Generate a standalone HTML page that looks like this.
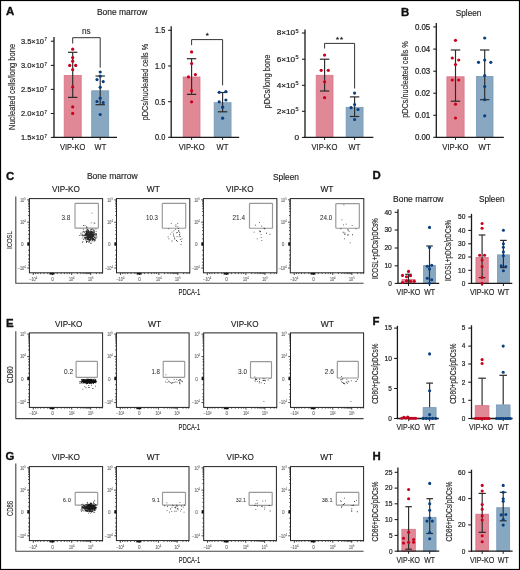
<!DOCTYPE html><html><head><meta charset="utf-8"><style>html,body{margin:0;padding:0;background:#fff;}svg{display:block;font-family:"Liberation Sans", sans-serif;will-change:transform;}</style></head><body>
<svg width="520" height="570" viewBox="0 0 520 570">
<rect x="0" y="0" width="520" height="570" fill="#fff"/>
<text x="6.1" y="14.6" font-size="11.4" fill="#111" stroke="#111" stroke-width="0.35" font-weight="bold">A</text>
<text x="401" y="16.2" font-size="11.4" fill="#111" stroke="#111" stroke-width="0.35" font-weight="bold">B</text>
<text x="5.9" y="179.6" font-size="11.4" fill="#111" stroke="#111" stroke-width="0.35" font-weight="bold">C</text>
<text x="372.6" y="178.8" font-size="11.4" fill="#111" stroke="#111" stroke-width="0.35" font-weight="bold">D</text>
<text x="6" y="326.5" font-size="11.4" fill="#111" stroke="#111" stroke-width="0.35" font-weight="bold">E</text>
<text x="372.6" y="324.7" font-size="11.4" fill="#111" stroke="#111" stroke-width="0.35" font-weight="bold">F</text>
<text x="5.6" y="460.1" font-size="11.4" fill="#111" stroke="#111" stroke-width="0.35" font-weight="bold">G</text>
<text x="372.6" y="460" font-size="11.4" fill="#111" stroke="#111" stroke-width="0.35" font-weight="bold">H</text>
<text x="96.9" y="15" font-size="8.7" fill="#222" stroke="#222" stroke-width="0.15" textLength="50.4" lengthAdjust="spacingAndGlyphs">Bone marrow</text>
<text x="455.8" y="16.3" font-size="8.9" fill="#222" stroke="#222" stroke-width="0.15" textLength="25.6" lengthAdjust="spacingAndGlyphs">Spleen</text>
<rect x="64.2" y="75.4" width="17" height="62" fill="#e08896" stroke="#d97388" stroke-width="0.8"/>
<rect x="91.7" y="90.8" width="17" height="46.6" fill="#88a8c2" stroke="#7898b8" stroke-width="0.8"/>
<line x1="72.7" y1="52.3" x2="72.7" y2="97.4" stroke="#2a2a2a" stroke-width="1.15"/>
<line x1="68" y1="52.3" x2="77.4" y2="52.3" stroke="#2a2a2a" stroke-width="1.2"/>
<line x1="68" y1="97.4" x2="77.4" y2="97.4" stroke="#2a2a2a" stroke-width="1.2"/>
<line x1="100.2" y1="76" x2="100.2" y2="104.7" stroke="#2a2a2a" stroke-width="1.15"/>
<line x1="95.5" y1="76" x2="104.9" y2="76" stroke="#2a2a2a" stroke-width="1.2"/>
<line x1="95.5" y1="104.7" x2="104.9" y2="104.7" stroke="#2a2a2a" stroke-width="1.2"/>
<line x1="54" y1="36.9" x2="54" y2="138" stroke="#1a1a1a" stroke-width="1.3"/>
<line x1="53.4" y1="137.4" x2="117" y2="137.4" stroke="#1a1a1a" stroke-width="1.3"/>
<line x1="50.9" y1="41.2" x2="54" y2="41.2" stroke="#1a1a1a" stroke-width="1.05"/>
<line x1="50.9" y1="65.4" x2="54" y2="65.4" stroke="#1a1a1a" stroke-width="1.05"/>
<line x1="50.9" y1="89.4" x2="54" y2="89.4" stroke="#1a1a1a" stroke-width="1.05"/>
<line x1="50.9" y1="113.5" x2="54" y2="113.5" stroke="#1a1a1a" stroke-width="1.05"/>
<line x1="50.9" y1="137.4" x2="54" y2="137.4" stroke="#1a1a1a" stroke-width="1.05"/>
<line x1="72.7" y1="137.4" x2="72.7" y2="140" stroke="#1a1a1a" stroke-width="1"/>
<line x1="100.2" y1="137.4" x2="100.2" y2="140" stroke="#1a1a1a" stroke-width="1"/>
<circle cx="72.7" cy="49.2" r="1.6" fill="#c8001e"/>
<circle cx="72.7" cy="57.7" r="1.6" fill="#c8001e"/>
<circle cx="72.7" cy="61.2" r="1.6" fill="#c8001e"/>
<circle cx="69.7" cy="65.4" r="1.6" fill="#c8001e"/>
<circle cx="75.7" cy="65.4" r="1.6" fill="#c8001e"/>
<circle cx="72.7" cy="69.7" r="1.6" fill="#c8001e"/>
<circle cx="72.7" cy="86.9" r="1.6" fill="#c8001e"/>
<circle cx="72.7" cy="106.9" r="1.6" fill="#c8001e"/>
<circle cx="72.7" cy="113.4" r="1.6" fill="#c8001e"/>
<circle cx="100.2" cy="72" r="1.6" fill="#0a3f7f"/>
<circle cx="100.2" cy="76.2" r="1.6" fill="#0a3f7f"/>
<circle cx="97" cy="79.6" r="1.6" fill="#0a3f7f"/>
<circle cx="103.2" cy="81.6" r="1.6" fill="#0a3f7f"/>
<circle cx="100.2" cy="87.3" r="1.6" fill="#0a3f7f"/>
<circle cx="100.2" cy="98.2" r="1.6" fill="#0a3f7f"/>
<circle cx="97" cy="101.5" r="1.6" fill="#0a3f7f"/>
<circle cx="103.2" cy="102.5" r="1.6" fill="#0a3f7f"/>
<circle cx="100.2" cy="114.5" r="1.6" fill="#0a3f7f"/>
<text x="20.9" y="44" font-size="7.9" fill="#222" stroke="#222" stroke-width="0.22" textLength="23.1" lengthAdjust="spacingAndGlyphs">3.5×10</text>
<text x="44.5" y="41.3" font-size="4.74" fill="#222" stroke="#222" stroke-width="0.15" textLength="2.4" lengthAdjust="spacingAndGlyphs">7</text>
<text x="20.9" y="68.2" font-size="7.9" fill="#222" stroke="#222" stroke-width="0.22" textLength="23.1" lengthAdjust="spacingAndGlyphs">3.0×10</text>
<text x="44.5" y="65.5" font-size="4.74" fill="#222" stroke="#222" stroke-width="0.15" textLength="2.4" lengthAdjust="spacingAndGlyphs">7</text>
<text x="20.9" y="92.2" font-size="7.9" fill="#222" stroke="#222" stroke-width="0.22" textLength="23.1" lengthAdjust="spacingAndGlyphs">2.5×10</text>
<text x="44.5" y="89.5" font-size="4.74" fill="#222" stroke="#222" stroke-width="0.15" textLength="2.4" lengthAdjust="spacingAndGlyphs">7</text>
<text x="20.9" y="116.3" font-size="7.9" fill="#222" stroke="#222" stroke-width="0.22" textLength="23.1" lengthAdjust="spacingAndGlyphs">2.0×10</text>
<text x="44.5" y="113.6" font-size="4.74" fill="#222" stroke="#222" stroke-width="0.15" textLength="2.4" lengthAdjust="spacingAndGlyphs">7</text>
<text x="20.9" y="140.2" font-size="7.9" fill="#222" stroke="#222" stroke-width="0.22" textLength="23.1" lengthAdjust="spacingAndGlyphs">1.5×10</text>
<text x="44.5" y="137.5" font-size="4.74" fill="#222" stroke="#222" stroke-width="0.15" textLength="2.4" lengthAdjust="spacingAndGlyphs">7</text>
<text x="60" y="149.5" font-size="8.7" fill="#222" stroke="#222" stroke-width="0.15" textLength="25.4" lengthAdjust="spacingAndGlyphs">VIP-KO</text>
<text x="94.6" y="149.5" font-size="8.7" fill="#222" stroke="#222" stroke-width="0.15" textLength="11.6" lengthAdjust="spacingAndGlyphs">WT</text>
<text transform="translate(14.8 130) rotate(-90)" font-size="9.2" fill="#2a2a2a" stroke="#2a2a2a" stroke-width="0.16" textLength="86.1" lengthAdjust="spacingAndGlyphs">Nucleated cells/long bone</text>
<path d="M72.7 43.5 V37.7 H100.2 V67.7" fill="none" stroke="#333" stroke-width="1" stroke-linejoin="round"/>
<text x="86.4" y="34.3" font-size="8.2" fill="#333" stroke="#333" stroke-width="0.15" text-anchor="middle">ns</text>
<rect x="183.2" y="77" width="16.8" height="60.3" fill="#e08896" stroke="#d97388" stroke-width="0.8"/>
<rect x="214.15" y="102.7" width="16.9" height="34.6" fill="#88a8c2" stroke="#7898b8" stroke-width="0.8"/>
<line x1="191.6" y1="58.7" x2="191.6" y2="94.4" stroke="#2a2a2a" stroke-width="1.15"/>
<line x1="186.9" y1="58.7" x2="196.3" y2="58.7" stroke="#2a2a2a" stroke-width="1.2"/>
<line x1="186.9" y1="94.4" x2="196.3" y2="94.4" stroke="#2a2a2a" stroke-width="1.2"/>
<line x1="222.6" y1="92.5" x2="222.6" y2="111.8" stroke="#2a2a2a" stroke-width="1.15"/>
<line x1="217.9" y1="92.5" x2="227.3" y2="92.5" stroke="#2a2a2a" stroke-width="1.2"/>
<line x1="217.9" y1="111.8" x2="227.3" y2="111.8" stroke="#2a2a2a" stroke-width="1.2"/>
<line x1="171.2" y1="26.2" x2="171.2" y2="137.9" stroke="#1a1a1a" stroke-width="1.3"/>
<line x1="170.6" y1="137.3" x2="239.2" y2="137.3" stroke="#1a1a1a" stroke-width="1.3"/>
<line x1="168.1" y1="30.3" x2="171.2" y2="30.3" stroke="#1a1a1a" stroke-width="1.05"/>
<line x1="168.1" y1="66" x2="171.2" y2="66" stroke="#1a1a1a" stroke-width="1.05"/>
<line x1="168.1" y1="101.7" x2="171.2" y2="101.7" stroke="#1a1a1a" stroke-width="1.05"/>
<line x1="168.1" y1="137.3" x2="171.2" y2="137.3" stroke="#1a1a1a" stroke-width="1.05"/>
<line x1="191.6" y1="137.3" x2="191.6" y2="139.9" stroke="#1a1a1a" stroke-width="1"/>
<line x1="222.6" y1="137.3" x2="222.6" y2="139.9" stroke="#1a1a1a" stroke-width="1"/>
<circle cx="191.6" cy="51.9" r="1.6" fill="#c8001e"/>
<circle cx="191.6" cy="63.5" r="1.6" fill="#c8001e"/>
<circle cx="188.5" cy="76.9" r="1.6" fill="#c8001e"/>
<circle cx="195.4" cy="74.6" r="1.6" fill="#c8001e"/>
<circle cx="191.6" cy="90.7" r="1.6" fill="#c8001e"/>
<circle cx="191.6" cy="101.8" r="1.6" fill="#c8001e"/>
<circle cx="219.2" cy="92.3" r="1.6" fill="#0a3f7f"/>
<circle cx="225.9" cy="91.5" r="1.6" fill="#0a3f7f"/>
<circle cx="219.2" cy="101.8" r="1.6" fill="#0a3f7f"/>
<circle cx="225.9" cy="100" r="1.6" fill="#0a3f7f"/>
<circle cx="222.6" cy="107.2" r="1.6" fill="#0a3f7f"/>
<circle cx="222.6" cy="118.2" r="1.6" fill="#0a3f7f"/>
<text x="165.3" y="33.1" font-size="8.3" fill="#222" stroke="#222" stroke-width="0.22" textLength="10.3" lengthAdjust="spacingAndGlyphs" text-anchor="end">1.5</text>
<text x="165.3" y="68.8" font-size="8.3" fill="#222" stroke="#222" stroke-width="0.22" textLength="10.3" lengthAdjust="spacingAndGlyphs" text-anchor="end">1.0</text>
<text x="165.3" y="104.5" font-size="8.3" fill="#222" stroke="#222" stroke-width="0.22" textLength="10.3" lengthAdjust="spacingAndGlyphs" text-anchor="end">0.5</text>
<text x="165.3" y="140.1" font-size="8.3" fill="#222" stroke="#222" stroke-width="0.22" textLength="10.3" lengthAdjust="spacingAndGlyphs" text-anchor="end">0.0</text>
<text x="178.8" y="149.5" font-size="8.7" fill="#222" stroke="#222" stroke-width="0.15" textLength="25.8" lengthAdjust="spacingAndGlyphs">VIP-KO</text>
<text x="216.6" y="149.5" font-size="8.7" fill="#222" stroke="#222" stroke-width="0.15" textLength="11.9" lengthAdjust="spacingAndGlyphs">WT</text>
<text transform="translate(148.2 120.3) rotate(-90)" font-size="9.2" fill="#2a2a2a" stroke="#2a2a2a" stroke-width="0.16" textLength="76.5" lengthAdjust="spacingAndGlyphs">pDCs/nucleated cells %</text>
<path d="M191.6 45.2 V39.6 H222.6 V85.4" fill="none" stroke="#333" stroke-width="1" stroke-linejoin="round"/>
<polygon points="207.3,32.5 207.8,33.81 209.2,33.88 208.11,34.76 208.48,36.12 207.3,35.35 206.12,36.12 206.49,34.76 205.4,33.88 206.8,33.81" fill="#222"/>
<rect x="316.2" y="75.3" width="16.8" height="62.1" fill="#e08896" stroke="#d97388" stroke-width="0.8"/>
<rect x="346.15" y="107.3" width="16.9" height="30.1" fill="#88a8c2" stroke="#7898b8" stroke-width="0.8"/>
<line x1="324.6" y1="59.2" x2="324.6" y2="91" stroke="#2a2a2a" stroke-width="1.15"/>
<line x1="319.9" y1="59.2" x2="329.3" y2="59.2" stroke="#2a2a2a" stroke-width="1.2"/>
<line x1="319.9" y1="91" x2="329.3" y2="91" stroke="#2a2a2a" stroke-width="1.2"/>
<line x1="354.6" y1="96.9" x2="354.6" y2="116.5" stroke="#2a2a2a" stroke-width="1.15"/>
<line x1="349.9" y1="96.9" x2="359.3" y2="96.9" stroke="#2a2a2a" stroke-width="1.2"/>
<line x1="349.9" y1="116.5" x2="359.3" y2="116.5" stroke="#2a2a2a" stroke-width="1.2"/>
<line x1="305" y1="29.5" x2="305" y2="138" stroke="#1a1a1a" stroke-width="1.3"/>
<line x1="304.4" y1="137.4" x2="373.4" y2="137.4" stroke="#1a1a1a" stroke-width="1.3"/>
<line x1="301.9" y1="33" x2="305" y2="33" stroke="#1a1a1a" stroke-width="1.05"/>
<line x1="301.9" y1="59.2" x2="305" y2="59.2" stroke="#1a1a1a" stroke-width="1.05"/>
<line x1="301.9" y1="85.3" x2="305" y2="85.3" stroke="#1a1a1a" stroke-width="1.05"/>
<line x1="301.9" y1="111.3" x2="305" y2="111.3" stroke="#1a1a1a" stroke-width="1.05"/>
<line x1="301.9" y1="137.4" x2="305" y2="137.4" stroke="#1a1a1a" stroke-width="1.05"/>
<line x1="324.6" y1="137.4" x2="324.6" y2="140" stroke="#1a1a1a" stroke-width="1"/>
<line x1="354.6" y1="137.4" x2="354.6" y2="140" stroke="#1a1a1a" stroke-width="1"/>
<circle cx="324.6" cy="55.1" r="1.6" fill="#c8001e"/>
<circle cx="321.2" cy="70.3" r="1.6" fill="#c8001e"/>
<circle cx="328.3" cy="70.3" r="1.6" fill="#c8001e"/>
<circle cx="324.6" cy="81.8" r="1.6" fill="#c8001e"/>
<circle cx="324.6" cy="97.7" r="1.6" fill="#c8001e"/>
<circle cx="354.6" cy="93.1" r="1.6" fill="#0a3f7f"/>
<circle cx="354.6" cy="104.6" r="1.6" fill="#0a3f7f"/>
<circle cx="351.1" cy="107.7" r="1.6" fill="#0a3f7f"/>
<circle cx="358" cy="109.5" r="1.6" fill="#0a3f7f"/>
<circle cx="354.6" cy="119.5" r="1.6" fill="#0a3f7f"/>
<text x="276.7" y="35.4" font-size="7.9" fill="#222" stroke="#222" stroke-width="0.22" textLength="18.5" lengthAdjust="spacingAndGlyphs">8×10</text>
<text x="295.6" y="33" font-size="4.74" fill="#222" stroke="#222" stroke-width="0.15" textLength="3.1" lengthAdjust="spacingAndGlyphs">5</text>
<text x="276.7" y="61.6" font-size="7.9" fill="#222" stroke="#222" stroke-width="0.22" textLength="18.5" lengthAdjust="spacingAndGlyphs">6×10</text>
<text x="295.6" y="59.2" font-size="4.74" fill="#222" stroke="#222" stroke-width="0.15" textLength="3.1" lengthAdjust="spacingAndGlyphs">5</text>
<text x="276.7" y="87.7" font-size="7.9" fill="#222" stroke="#222" stroke-width="0.22" textLength="18.5" lengthAdjust="spacingAndGlyphs">4×10</text>
<text x="295.6" y="85.3" font-size="4.74" fill="#222" stroke="#222" stroke-width="0.15" textLength="3.1" lengthAdjust="spacingAndGlyphs">5</text>
<text x="276.7" y="113.7" font-size="7.9" fill="#222" stroke="#222" stroke-width="0.22" textLength="18.5" lengthAdjust="spacingAndGlyphs">2×10</text>
<text x="295.6" y="111.3" font-size="4.74" fill="#222" stroke="#222" stroke-width="0.15" textLength="3.1" lengthAdjust="spacingAndGlyphs">5</text>
<text x="299" y="139.8" font-size="7.9" fill="#222" stroke="#222" stroke-width="0.22" textLength="4.6" lengthAdjust="spacingAndGlyphs" text-anchor="end">0</text>
<text x="311.5" y="149.5" font-size="8.7" fill="#222" stroke="#222" stroke-width="0.15" textLength="25.9" lengthAdjust="spacingAndGlyphs">VIP-KO</text>
<text x="348.5" y="149.5" font-size="8.7" fill="#222" stroke="#222" stroke-width="0.15" textLength="11.8" lengthAdjust="spacingAndGlyphs">WT</text>
<text transform="translate(270 108.5) rotate(-90)" font-size="9.2" fill="#2a2a2a" stroke="#2a2a2a" stroke-width="0.16" textLength="53.9" lengthAdjust="spacingAndGlyphs">pDCs/long bone</text>
<path d="M324.6 48.5 V43.4 H354.6 V88.5" fill="none" stroke="#333" stroke-width="1" stroke-linejoin="round"/>
<polygon points="337.5,36.5 338,37.81 339.4,37.88 338.31,38.76 338.68,40.12 337.5,39.35 336.32,40.12 336.69,38.76 335.6,37.88 337,37.81" fill="#222"/>
<polygon points="341.5,36.5 342,37.81 343.4,37.88 342.31,38.76 342.68,40.12 341.5,39.35 340.32,40.12 340.69,38.76 339.6,37.88 341,37.81" fill="#222"/>
<rect x="446.9" y="76.8" width="17.2" height="60.5" fill="#e08896" stroke="#d97388" stroke-width="0.8"/>
<rect x="476.4" y="76.4" width="16.6" height="60.9" fill="#88a8c2" stroke="#7898b8" stroke-width="0.8"/>
<line x1="455.5" y1="50" x2="455.5" y2="101.2" stroke="#2a2a2a" stroke-width="1.15"/>
<line x1="450.8" y1="50" x2="460.2" y2="50" stroke="#2a2a2a" stroke-width="1.2"/>
<line x1="450.8" y1="101.2" x2="460.2" y2="101.2" stroke="#2a2a2a" stroke-width="1.2"/>
<line x1="484.7" y1="50" x2="484.7" y2="99.7" stroke="#2a2a2a" stroke-width="1.15"/>
<line x1="480" y1="50" x2="489.4" y2="50" stroke="#2a2a2a" stroke-width="1.2"/>
<line x1="480" y1="99.7" x2="489.4" y2="99.7" stroke="#2a2a2a" stroke-width="1.2"/>
<line x1="436.3" y1="23.1" x2="436.3" y2="137.9" stroke="#1a1a1a" stroke-width="1.3"/>
<line x1="435.7" y1="137.3" x2="503.8" y2="137.3" stroke="#1a1a1a" stroke-width="1.3"/>
<line x1="433.2" y1="26.9" x2="436.3" y2="26.9" stroke="#1a1a1a" stroke-width="1.05"/>
<line x1="433.2" y1="49.1" x2="436.3" y2="49.1" stroke="#1a1a1a" stroke-width="1.05"/>
<line x1="433.2" y1="71.2" x2="436.3" y2="71.2" stroke="#1a1a1a" stroke-width="1.05"/>
<line x1="433.2" y1="93.2" x2="436.3" y2="93.2" stroke="#1a1a1a" stroke-width="1.05"/>
<line x1="433.2" y1="115.3" x2="436.3" y2="115.3" stroke="#1a1a1a" stroke-width="1.05"/>
<line x1="433.2" y1="137.3" x2="436.3" y2="137.3" stroke="#1a1a1a" stroke-width="1.05"/>
<line x1="455.5" y1="137.3" x2="455.5" y2="139.9" stroke="#1a1a1a" stroke-width="1"/>
<line x1="484.7" y1="137.3" x2="484.7" y2="139.9" stroke="#1a1a1a" stroke-width="1"/>
<circle cx="455.5" cy="40.3" r="1.6" fill="#c8001e"/>
<circle cx="452.3" cy="58" r="1.6" fill="#c8001e"/>
<circle cx="458.7" cy="60" r="1.6" fill="#c8001e"/>
<circle cx="455.5" cy="64.6" r="1.6" fill="#c8001e"/>
<circle cx="452.3" cy="80" r="1.6" fill="#c8001e"/>
<circle cx="458.7" cy="80" r="1.6" fill="#c8001e"/>
<circle cx="455.5" cy="104.2" r="1.6" fill="#c8001e"/>
<circle cx="455.5" cy="118" r="1.6" fill="#c8001e"/>
<circle cx="484.7" cy="38" r="1.6" fill="#0a3f7f"/>
<circle cx="478.5" cy="62.3" r="1.6" fill="#0a3f7f"/>
<circle cx="484.7" cy="60" r="1.6" fill="#0a3f7f"/>
<circle cx="490.8" cy="62.3" r="1.6" fill="#0a3f7f"/>
<circle cx="484.7" cy="75.6" r="1.6" fill="#0a3f7f"/>
<circle cx="484.7" cy="86.5" r="1.6" fill="#0a3f7f"/>
<circle cx="484.7" cy="99.7" r="1.6" fill="#0a3f7f"/>
<circle cx="484.7" cy="115.8" r="1.6" fill="#0a3f7f"/>
<text x="430.2" y="29.7" font-size="8.3" fill="#222" stroke="#222" stroke-width="0.22" textLength="15.3" lengthAdjust="spacingAndGlyphs" text-anchor="end">0.05</text>
<text x="430.2" y="51.9" font-size="8.3" fill="#222" stroke="#222" stroke-width="0.22" textLength="15.3" lengthAdjust="spacingAndGlyphs" text-anchor="end">0.04</text>
<text x="430.2" y="74" font-size="8.3" fill="#222" stroke="#222" stroke-width="0.22" textLength="15.3" lengthAdjust="spacingAndGlyphs" text-anchor="end">0.03</text>
<text x="430.2" y="96" font-size="8.3" fill="#222" stroke="#222" stroke-width="0.22" textLength="15.3" lengthAdjust="spacingAndGlyphs" text-anchor="end">0.02</text>
<text x="430.2" y="118.1" font-size="8.3" fill="#222" stroke="#222" stroke-width="0.22" textLength="15.3" lengthAdjust="spacingAndGlyphs" text-anchor="end">0.01</text>
<text x="430.2" y="140.1" font-size="8.3" fill="#222" stroke="#222" stroke-width="0.22" textLength="15.3" lengthAdjust="spacingAndGlyphs" text-anchor="end">0.00</text>
<text x="442.3" y="149.5" font-size="8.7" fill="#222" stroke="#222" stroke-width="0.15" textLength="26.2" lengthAdjust="spacingAndGlyphs">VIP-KO</text>
<text x="478.5" y="149.5" font-size="8.7" fill="#222" stroke="#222" stroke-width="0.15" textLength="12.3" lengthAdjust="spacingAndGlyphs">WT</text>
<text transform="translate(408 117.7) rotate(-90)" font-size="9.2" fill="#2a2a2a" stroke="#2a2a2a" stroke-width="0.16" textLength="76.5" lengthAdjust="spacingAndGlyphs">pDCs/nucleated cells %</text>
<text x="86.9" y="179" font-size="8.7" fill="#222" stroke="#222" stroke-width="0.15" textLength="50.8" lengthAdjust="spacingAndGlyphs">Bone marrow</text>
<text x="273" y="179.6" font-size="8.9" fill="#222" stroke="#222" stroke-width="0.15" textLength="26" lengthAdjust="spacingAndGlyphs">Spleen</text>
<path d="M15.8 196.6 V283.2 H363.6" fill="none" stroke="#444" stroke-width="1.1" stroke-linejoin="round"/>
<text transform="translate(12.4 249) rotate(-90)" font-size="8" fill="#333" stroke="#333" stroke-width="0.15" textLength="17.8" lengthAdjust="spacingAndGlyphs">ICOSL</text>
<text x="178.5" y="295" font-size="8.4" fill="#222" stroke="#222" stroke-width="0.15" textLength="21.9" lengthAdjust="spacingAndGlyphs">PDCA-1</text>
<line x1="28.1" y1="215.46" x2="29.4" y2="215.46" stroke="#333" stroke-width="0.8"/>
<line x1="28.1" y1="211.51" x2="29.4" y2="211.51" stroke="#333" stroke-width="0.8"/>
<line x1="28.1" y1="208.71" x2="29.4" y2="208.71" stroke="#333" stroke-width="0.8"/>
<line x1="28.1" y1="206.54" x2="29.4" y2="206.54" stroke="#333" stroke-width="0.8"/>
<line x1="28.1" y1="204.77" x2="29.4" y2="204.77" stroke="#333" stroke-width="0.8"/>
<line x1="28.1" y1="203.27" x2="29.4" y2="203.27" stroke="#333" stroke-width="0.8"/>
<line x1="28.1" y1="201.97" x2="29.4" y2="201.97" stroke="#333" stroke-width="0.8"/>
<line x1="28.1" y1="200.82" x2="29.4" y2="200.82" stroke="#333" stroke-width="0.8"/>
<line x1="28.1" y1="238.85" x2="29.4" y2="238.85" stroke="#333" stroke-width="0.8"/>
<line x1="28.1" y1="250.3" x2="29.4" y2="250.3" stroke="#333" stroke-width="0.8"/>
<line x1="28.1" y1="234.41" x2="29.4" y2="234.41" stroke="#333" stroke-width="0.8"/>
<line x1="28.1" y1="255.02" x2="29.4" y2="255.02" stroke="#333" stroke-width="0.8"/>
<line x1="28.1" y1="230.64" x2="29.4" y2="230.64" stroke="#333" stroke-width="0.8"/>
<line x1="28.1" y1="259.03" x2="29.4" y2="259.03" stroke="#333" stroke-width="0.8"/>
<line x1="28.1" y1="227.53" x2="29.4" y2="227.53" stroke="#333" stroke-width="0.8"/>
<line x1="28.1" y1="262.34" x2="29.4" y2="262.34" stroke="#333" stroke-width="0.8"/>
<line x1="28.1" y1="224.86" x2="29.4" y2="224.86" stroke="#333" stroke-width="0.8"/>
<line x1="28.1" y1="265.17" x2="29.4" y2="265.17" stroke="#333" stroke-width="0.8"/>
<line x1="27.2" y1="199.8" x2="29.4" y2="199.8" stroke="#333" stroke-width="0.9"/>
<line x1="27.2" y1="222.2" x2="29.4" y2="222.2" stroke="#333" stroke-width="0.9"/>
<line x1="27.2" y1="244.4" x2="29.4" y2="244.4" stroke="#333" stroke-width="0.9"/>
<line x1="27.2" y1="268" x2="29.4" y2="268" stroke="#333" stroke-width="0.9"/>
<line x1="77.42" y1="272.8" x2="77.42" y2="274.1" stroke="#333" stroke-width="0.8"/>
<line x1="96.42" y1="272.8" x2="96.42" y2="274.1" stroke="#333" stroke-width="0.8"/>
<line x1="80.77" y1="272.8" x2="80.77" y2="274.1" stroke="#333" stroke-width="0.8"/>
<line x1="99.77" y1="272.8" x2="99.77" y2="274.1" stroke="#333" stroke-width="0.8"/>
<line x1="83.14" y1="272.8" x2="83.14" y2="274.1" stroke="#333" stroke-width="0.8"/>
<line x1="102.14" y1="272.8" x2="102.14" y2="274.1" stroke="#333" stroke-width="0.8"/>
<line x1="84.98" y1="272.8" x2="84.98" y2="274.1" stroke="#333" stroke-width="0.8"/>
<line x1="86.48" y1="272.8" x2="86.48" y2="274.1" stroke="#333" stroke-width="0.8"/>
<line x1="87.76" y1="272.8" x2="87.76" y2="274.1" stroke="#333" stroke-width="0.8"/>
<line x1="88.86" y1="272.8" x2="88.86" y2="274.1" stroke="#333" stroke-width="0.8"/>
<line x1="89.83" y1="272.8" x2="89.83" y2="274.1" stroke="#333" stroke-width="0.8"/>
<line x1="57.3" y1="272.8" x2="57.3" y2="274.1" stroke="#333" stroke-width="0.8"/>
<line x1="47.7" y1="272.8" x2="47.7" y2="274.1" stroke="#333" stroke-width="0.8"/>
<line x1="61.14" y1="272.8" x2="61.14" y2="274.1" stroke="#333" stroke-width="0.8"/>
<line x1="43.86" y1="272.8" x2="43.86" y2="274.1" stroke="#333" stroke-width="0.8"/>
<line x1="64.4" y1="272.8" x2="64.4" y2="274.1" stroke="#333" stroke-width="0.8"/>
<line x1="40.6" y1="272.8" x2="40.6" y2="274.1" stroke="#333" stroke-width="0.8"/>
<line x1="67.09" y1="272.8" x2="67.09" y2="274.1" stroke="#333" stroke-width="0.8"/>
<line x1="37.91" y1="272.8" x2="37.91" y2="274.1" stroke="#333" stroke-width="0.8"/>
<line x1="69.4" y1="272.8" x2="69.4" y2="274.1" stroke="#333" stroke-width="0.8"/>
<line x1="35.6" y1="272.8" x2="35.6" y2="274.1" stroke="#333" stroke-width="0.8"/>
<line x1="33.3" y1="272.8" x2="33.3" y2="275" stroke="#333" stroke-width="0.9"/>
<line x1="52.5" y1="272.8" x2="52.5" y2="275" stroke="#333" stroke-width="0.9"/>
<line x1="71.7" y1="272.8" x2="71.7" y2="275" stroke="#333" stroke-width="0.9"/>
<line x1="90.7" y1="272.8" x2="90.7" y2="275" stroke="#333" stroke-width="0.9"/>
<rect x="27.4" y="242.2" width="2" height="3.5" fill="#111"/>
<rect x="49.5" y="272.8" width="5" height="1.8" fill="#111"/>
<rect x="29.4" y="198.6" width="73.2" height="74.2" fill="none" stroke="#222" stroke-width="1"/>
<text x="20.2" y="201.5" font-size="4.7" fill="#666" stroke="#666" stroke-width="0.1" textLength="4" lengthAdjust="spacingAndGlyphs">10</text>
<text x="24.3" y="199.6" font-size="2.91" fill="#666" stroke="#666" stroke-width="0.05" textLength="1.5" lengthAdjust="spacingAndGlyphs">5</text>
<text x="20.2" y="223.9" font-size="4.7" fill="#666" stroke="#666" stroke-width="0.1" textLength="4" lengthAdjust="spacingAndGlyphs">10</text>
<text x="24.3" y="222" font-size="2.91" fill="#666" stroke="#666" stroke-width="0.05" textLength="1.5" lengthAdjust="spacingAndGlyphs">4</text>
<text x="20.9" y="246.1" font-size="4.7" fill="#666" stroke="#666" stroke-width="0.1" textLength="2.6" lengthAdjust="spacingAndGlyphs">0</text>
<text x="17.8" y="269.7" font-size="4.7" fill="#666" stroke="#666" stroke-width="0.1" textLength="6.4" lengthAdjust="spacingAndGlyphs">–10</text>
<text x="24.3" y="267.8" font-size="2.91" fill="#666" stroke="#666" stroke-width="0.05" textLength="1.5" lengthAdjust="spacingAndGlyphs">4</text>
<text x="29.3" y="280.8" font-size="4.7" fill="#666" stroke="#666" stroke-width="0.1" textLength="6.4" lengthAdjust="spacingAndGlyphs">–10</text>
<text x="35.8" y="278.9" font-size="2.91" fill="#666" stroke="#666" stroke-width="0.05" textLength="1.5" lengthAdjust="spacingAndGlyphs">4</text>
<text x="51.2" y="280.8" font-size="4.7" fill="#666" stroke="#666" stroke-width="0.1" textLength="2.6" lengthAdjust="spacingAndGlyphs">0</text>
<text x="68.9" y="280.8" font-size="4.7" fill="#666" stroke="#666" stroke-width="0.1" textLength="4" lengthAdjust="spacingAndGlyphs">10</text>
<text x="73" y="278.9" font-size="2.91" fill="#666" stroke="#666" stroke-width="0.05" textLength="1.5" lengthAdjust="spacingAndGlyphs">4</text>
<text x="87.9" y="280.8" font-size="4.7" fill="#666" stroke="#666" stroke-width="0.1" textLength="4" lengthAdjust="spacingAndGlyphs">10</text>
<text x="92" y="278.9" font-size="2.91" fill="#666" stroke="#666" stroke-width="0.05" textLength="1.5" lengthAdjust="spacingAndGlyphs">5</text>
<rect x="75" y="203.3" width="23.4" height="24.8" fill="none" stroke="#999" stroke-width="1.15" rx="0.6"/>
<text x="61.5" y="219.6" font-size="6.9" fill="#333" stroke="#333" stroke-width="0.05" textLength="8.8" lengthAdjust="spacingAndGlyphs">3.8</text>
<text x="52.1" y="192.2" font-size="8.2" fill="#222" stroke="#222" stroke-width="0.15" textLength="27.7" lengthAdjust="spacingAndGlyphs">VIP-KO</text>
<path d="M93.71 239.84h0.8v0.8h-0.8zM89.43 232.75h0.8v0.8h-0.8zM85.38 235.3h0.8v0.8h-0.8zM85.62 230.6h0.8v0.8h-0.8zM89.9 235.63h0.8v0.8h-0.8zM91.11 232.28h0.8v0.8h-0.8zM89.22 234.99h0.8v0.8h-0.8zM83.93 236.92h0.8v0.8h-0.8zM90.32 242.85h0.8v0.8h-0.8zM89.91 234.74h0.8v0.8h-0.8zM93.51 235.84h0.8v0.8h-0.8zM92.38 234.03h0.8v0.8h-0.8zM89.96 238.48h0.8v0.8h-0.8zM91.64 235.61h0.8v0.8h-0.8zM85.41 236.62h0.8v0.8h-0.8zM89.47 237.51h0.8v0.8h-0.8zM89.96 238.68h0.8v0.8h-0.8zM89.02 235.85h0.8v0.8h-0.8zM91.53 231.72h0.8v0.8h-0.8zM87.79 233.6h0.8v0.8h-0.8zM96.13 234.9h0.8v0.8h-0.8zM91.48 237.18h0.8v0.8h-0.8zM88.22 230.24h0.8v0.8h-0.8zM92.58 233.9h0.8v0.8h-0.8zM91.71 231.02h0.8v0.8h-0.8zM87.67 239.22h0.8v0.8h-0.8zM94.21 231.03h0.8v0.8h-0.8zM84.54 235.06h0.8v0.8h-0.8zM91.75 235.71h0.8v0.8h-0.8zM90.26 232.04h0.8v0.8h-0.8zM91.25 238.77h0.8v0.8h-0.8zM87.68 230.61h0.8v0.8h-0.8zM86.54 237.64h0.8v0.8h-0.8zM83.13 234.91h0.8v0.8h-0.8zM85.73 234.78h0.8v0.8h-0.8zM88.34 235.25h0.8v0.8h-0.8zM94.45 236.55h0.8v0.8h-0.8zM93.87 234.75h0.8v0.8h-0.8zM87.52 236.41h0.8v0.8h-0.8zM79.27 235.07h0.8v0.8h-0.8zM89.76 231.25h0.8v0.8h-0.8zM90.83 233.41h0.8v0.8h-0.8zM80.59 234.52h0.8v0.8h-0.8zM85.77 233.53h0.8v0.8h-0.8zM88.67 239.2h0.8v0.8h-0.8zM89.56 235.11h0.8v0.8h-0.8zM90.56 229.4h0.8v0.8h-0.8zM93.54 231.75h0.8v0.8h-0.8zM90.74 231.59h0.8v0.8h-0.8zM85.78 233.93h0.8v0.8h-0.8zM95.84 237.43h0.8v0.8h-0.8zM87.09 234.29h0.8v0.8h-0.8zM85.17 235.09h0.8v0.8h-0.8zM87.19 237.51h0.8v0.8h-0.8zM84.45 234.13h0.8v0.8h-0.8zM86.25 232.9h0.8v0.8h-0.8zM91.69 235.6h0.8v0.8h-0.8zM91.25 239.01h0.8v0.8h-0.8zM93.22 230.81h0.8v0.8h-0.8zM91.08 229.56h0.8v0.8h-0.8zM88.98 241.34h0.8v0.8h-0.8zM88.52 234.02h0.8v0.8h-0.8zM89.8 235.26h0.8v0.8h-0.8zM89.29 232.78h0.8v0.8h-0.8zM92.99 238.04h0.8v0.8h-0.8zM88.46 236.21h0.8v0.8h-0.8zM91.5 238.5h0.8v0.8h-0.8zM90.57 237.42h0.8v0.8h-0.8zM88.28 231.78h0.8v0.8h-0.8zM87.47 238.46h0.8v0.8h-0.8zM92.62 235.67h0.8v0.8h-0.8zM87.21 236.18h0.8v0.8h-0.8zM95.02 239.53h0.8v0.8h-0.8zM86.81 235.06h0.8v0.8h-0.8zM84.12 231.57h0.8v0.8h-0.8zM89.86 235.28h0.8v0.8h-0.8zM92.58 239.26h0.8v0.8h-0.8zM92.12 239.42h0.8v0.8h-0.8zM87.29 231.59h0.8v0.8h-0.8zM90.45 231.51h0.8v0.8h-0.8zM90.05 239.76h0.8v0.8h-0.8zM85.58 237.77h0.8v0.8h-0.8zM87.06 239.27h0.8v0.8h-0.8zM91.95 236.17h0.8v0.8h-0.8zM96.2 233.89h0.8v0.8h-0.8zM86.8 241.14h0.8v0.8h-0.8zM86.13 242.24h0.8v0.8h-0.8zM89.06 231.88h0.8v0.8h-0.8zM89.19 235.62h0.8v0.8h-0.8zM89.9 234.59h0.8v0.8h-0.8zM87.26 234.36h0.8v0.8h-0.8zM95.57 228.82h0.8v0.8h-0.8zM88.01 231.54h0.8v0.8h-0.8zM86.87 237.25h0.8v0.8h-0.8zM90.64 239.81h0.8v0.8h-0.8zM87.1 236.06h0.8v0.8h-0.8zM93.31 238.09h0.8v0.8h-0.8zM88.02 238.81h0.8v0.8h-0.8zM85.97 240.97h0.8v0.8h-0.8zM89.74 234.84h0.8v0.8h-0.8zM90.15 237.92h0.8v0.8h-0.8zM95.3 234.75h0.8v0.8h-0.8zM87.91 237.08h0.8v0.8h-0.8zM86.15 229.77h0.8v0.8h-0.8zM92.13 233.99h0.8v0.8h-0.8zM93.14 231.91h0.8v0.8h-0.8zM89.74 240.32h0.8v0.8h-0.8zM91.04 236.19h0.8v0.8h-0.8zM91.25 234.02h0.8v0.8h-0.8zM89.47 230.87h0.8v0.8h-0.8zM91.02 232.62h0.8v0.8h-0.8zM87.64 237.44h0.8v0.8h-0.8zM92.4 231.98h0.8v0.8h-0.8zM96.21 233.31h0.8v0.8h-0.8zM92.12 238.24h0.8v0.8h-0.8zM89.98 235.75h0.8v0.8h-0.8zM95.49 238.05h0.8v0.8h-0.8zM90.76 229.36h0.8v0.8h-0.8zM86.59 238.92h0.8v0.8h-0.8zM89.88 232.14h0.8v0.8h-0.8zM86.95 234.22h0.8v0.8h-0.8zM91.6 236.44h0.8v0.8h-0.8zM92.69 232.59h0.8v0.8h-0.8zM92.65 233.59h0.8v0.8h-0.8zM88.15 240.75h0.8v0.8h-0.8zM89.46 234.75h0.8v0.8h-0.8zM88.46 233.97h0.8v0.8h-0.8zM94.66 239.61h0.8v0.8h-0.8zM91.71 235.79h0.8v0.8h-0.8zM92.85 234.95h0.8v0.8h-0.8zM90.78 236.49h0.8v0.8h-0.8zM89.51 240.47h0.8v0.8h-0.8zM95.34 239.44h0.8v0.8h-0.8zM82.5 241.07h0.8v0.8h-0.8zM91.66 233.76h0.8v0.8h-0.8zM89.11 238.84h0.8v0.8h-0.8zM93.31 237.94h0.8v0.8h-0.8zM89.69 235.31h0.8v0.8h-0.8zM92.11 234.91h0.8v0.8h-0.8zM86.06 233.21h0.8v0.8h-0.8zM88.71 236.26h0.8v0.8h-0.8zM90.87 234.91h0.8v0.8h-0.8zM90.25 239.53h0.8v0.8h-0.8zM93.54 234.7h0.8v0.8h-0.8zM87.25 230.84h0.8v0.8h-0.8zM88.95 239.19h0.8v0.8h-0.8zM88.27 237.45h0.8v0.8h-0.8zM91.68 236.47h0.8v0.8h-0.8zM92.99 234.84h0.8v0.8h-0.8zM86.3 231.45h0.8v0.8h-0.8zM92.44 234.04h0.8v0.8h-0.8zM88.11 237.87h0.8v0.8h-0.8zM86.44 240.86h0.8v0.8h-0.8zM91.53 233.51h0.8v0.8h-0.8zM86.98 238.66h0.8v0.8h-0.8zM85.06 233.15h0.8v0.8h-0.8zM89.22 235.85h0.8v0.8h-0.8zM89.25 236.44h0.8v0.8h-0.8zM87.93 234.81h0.8v0.8h-0.8zM93.63 237.27h0.8v0.8h-0.8zM87.63 240.69h0.8v0.8h-0.8zM82.23 235.47h0.8v0.8h-0.8zM91.54 238.31h0.8v0.8h-0.8zM89.59 233.97h0.8v0.8h-0.8zM91.25 234.58h0.8v0.8h-0.8zM90.54 232.67h0.8v0.8h-0.8zM92.49 237.59h0.8v0.8h-0.8zM91.75 233.91h0.8v0.8h-0.8zM90.72 234.1h0.8v0.8h-0.8zM89.95 234.77h0.8v0.8h-0.8zM86.15 241.53h0.8v0.8h-0.8zM91.73 228.62h0.8v0.8h-0.8zM92.33 230.74h0.8v0.8h-0.8zM88.39 233.34h0.8v0.8h-0.8zM87.33 235.97h0.8v0.8h-0.8zM88.06 230.56h0.8v0.8h-0.8zM89.18 236.37h0.8v0.8h-0.8zM95.39 233.87h0.8v0.8h-0.8zM85.04 233.98h0.8v0.8h-0.8zM91.49 232.37h0.8v0.8h-0.8zM86.68 236.97h0.8v0.8h-0.8zM89.16 235.91h0.8v0.8h-0.8zM87 232.56h0.8v0.8h-0.8zM88.07 234.71h0.8v0.8h-0.8zM88.03 236.58h0.8v0.8h-0.8zM91.12 236.95h0.8v0.8h-0.8zM90.88 232.37h0.8v0.8h-0.8zM85.28 237.77h0.8v0.8h-0.8zM89.24 235.59h0.8v0.8h-0.8zM85.14 234.52h0.8v0.8h-0.8zM86.97 232.43h0.8v0.8h-0.8zM87 230.42h0.8v0.8h-0.8zM89.5 238.93h0.8v0.8h-0.8zM86.72 235.5h0.8v0.8h-0.8zM85.38 237.35h0.8v0.8h-0.8zM95.72 231.25h0.8v0.8h-0.8zM88.4 239.76h0.8v0.8h-0.8zM90.49 235.57h0.8v0.8h-0.8zM82.05 234.72h0.8v0.8h-0.8zM92.41 239.8h0.8v0.8h-0.8zM91.44 233.34h0.8v0.8h-0.8zM86.8 229.38h0.8v0.8h-0.8zM85.44 238.79h0.8v0.8h-0.8zM88.8 230.92h0.8v0.8h-0.8zM93.82 229.85h0.8v0.8h-0.8zM93.61 234.17h0.8v0.8h-0.8zM90.39 237.37h0.8v0.8h-0.8zM90.12 239.27h0.8v0.8h-0.8zM89.26 234.15h0.8v0.8h-0.8zM86.88 230.58h0.8v0.8h-0.8zM86.77 238.34h0.8v0.8h-0.8zM92.09 239.65h0.8v0.8h-0.8zM90.95 230.99h0.8v0.8h-0.8zM88.35 242.23h0.8v0.8h-0.8zM91.05 234.76h0.8v0.8h-0.8zM90.28 229.13h0.8v0.8h-0.8zM86.28 231.01h0.8v0.8h-0.8zM81.72 237.66h0.8v0.8h-0.8zM92.58 234.63h0.8v0.8h-0.8zM90.41 231.98h0.8v0.8h-0.8zM90.79 237.64h0.8v0.8h-0.8zM94.57 240.19h0.8v0.8h-0.8zM90.91 234.79h0.8v0.8h-0.8zM86.31 233.26h0.8v0.8h-0.8zM91.36 237.01h0.8v0.8h-0.8zM89.27 240.52h0.8v0.8h-0.8zM91.47 235.25h0.8v0.8h-0.8zM88.53 235.45h0.8v0.8h-0.8zM85.88 232.06h0.8v0.8h-0.8zM90.42 233.33h0.8v0.8h-0.8zM88.25 239.11h0.8v0.8h-0.8zM88.52 239.4h0.8v0.8h-0.8zM89.17 240.05h0.8v0.8h-0.8zM90.83 229.57h0.8v0.8h-0.8zM93.53 234.54h0.8v0.8h-0.8zM82.32 235.56h0.8v0.8h-0.8zM89.74 231.07h0.8v0.8h-0.8zM87.07 236.95h0.8v0.8h-0.8zM94.14 238.85h0.8v0.8h-0.8zM93.48 238.79h0.8v0.8h-0.8zM80.5 232.87h0.8v0.8h-0.8zM91.9 238.05h0.8v0.8h-0.8zM86.49 233.98h0.8v0.8h-0.8zM85.91 235.14h0.8v0.8h-0.8zM89.06 235.18h0.8v0.8h-0.8zM85.62 236.44h0.8v0.8h-0.8zM88.01 238.24h0.8v0.8h-0.8zM90.3 230.45h0.8v0.8h-0.8zM84.15 235.42h0.8v0.8h-0.8zM87.5 236.7h0.8v0.8h-0.8zM92.02 235.26h0.8v0.8h-0.8zM83.3 231.38h0.8v0.8h-0.8zM91.2 231.84h0.8v0.8h-0.8zM93.08 234.91h0.8v0.8h-0.8zM91.02 232.37h0.8v0.8h-0.8zM88.47 237.04h0.8v0.8h-0.8zM86.06 232.5h0.8v0.8h-0.8zM89.01 235.41h0.8v0.8h-0.8zM86.37 237.36h0.8v0.8h-0.8zM83.44 238.77h0.8v0.8h-0.8zM84.29 232.57h0.8v0.8h-0.8zM93.86 232.02h0.8v0.8h-0.8zM83.41 235.44h0.8v0.8h-0.8zM85.98 231.63h0.8v0.8h-0.8zM86.75 232.82h0.8v0.8h-0.8zM85.79 231.91h0.8v0.8h-0.8zM94.84 233.05h0.8v0.8h-0.8zM92.6 230.7h0.8v0.8h-0.8zM91.1 231.2h0.8v0.8h-0.8zM87.59 237.23h0.8v0.8h-0.8zM87.34 228.91h0.8v0.8h-0.8zM87.27 234.7h0.8v0.8h-0.8zM91.21 232.01h0.8v0.8h-0.8zM88.16 235.4h0.8v0.8h-0.8zM83.43 234.86h0.8v0.8h-0.8zM86.3 236.6h0.8v0.8h-0.8zM88.81 234.67h0.8v0.8h-0.8zM80.75 234.85h0.8v0.8h-0.8zM87.9 232.18h0.8v0.8h-0.8zM87.41 231.16h0.8v0.8h-0.8zM89.81 237.31h0.8v0.8h-0.8zM91.29 233.54h0.8v0.8h-0.8zM95.08 237.93h0.8v0.8h-0.8zM85.88 234.75h0.8v0.8h-0.8zM83.5 234.82h0.8v0.8h-0.8zM91.69 239.26h0.8v0.8h-0.8zM87.74 229.48h0.8v0.8h-0.8zM88.61 239.56h0.8v0.8h-0.8zM89.7 239.28h0.8v0.8h-0.8zM92.1 240.19h0.8v0.8h-0.8zM91.3 233.07h0.8v0.8h-0.8zM90.76 243.32h0.8v0.8h-0.8zM87.39 229.26h0.8v0.8h-0.8zM96.56 236.51h0.8v0.8h-0.8zM87.01 233.26h0.8v0.8h-0.8zM83.81 237.45h0.8v0.8h-0.8zM89.7 233.17h0.8v0.8h-0.8zM87.72 233.83h0.8v0.8h-0.8zM92.94 234.62h0.8v0.8h-0.8zM94.03 232.52h0.8v0.8h-0.8zM87.06 233.66h0.8v0.8h-0.8zM87.31 234.91h0.8v0.8h-0.8zM92.79 239.07h0.8v0.8h-0.8zM85.45 239.29h0.8v0.8h-0.8zM89.53 240.28h0.8v0.8h-0.8zM88.61 232.52h0.8v0.8h-0.8zM91.96 237.19h0.8v0.8h-0.8zM87.6 235.27h0.8v0.8h-0.8zM89.66 236.2h0.8v0.8h-0.8zM83.2 231.34h0.8v0.8h-0.8zM89.39 236.03h0.8v0.8h-0.8zM87.36 229.57h0.8v0.8h-0.8zM93.9 234.21h0.8v0.8h-0.8zM85.54 240.3h0.8v0.8h-0.8zM93.16 238.52h0.8v0.8h-0.8zM92.12 237.02h0.8v0.8h-0.8zM85.79 235.3h0.8v0.8h-0.8zM90.44 237.23h0.8v0.8h-0.8zM90.86 231.97h0.8v0.8h-0.8zM87.08 234.14h0.8v0.8h-0.8zM88.52 232.4h0.8v0.8h-0.8zM82.82 231.31h0.8v0.8h-0.8zM90.28 235.17h0.8v0.8h-0.8zM91.23 229.16h0.8v0.8h-0.8zM87.74 238.05h0.8v0.8h-0.8zM82.33 231.74h0.8v0.8h-0.8zM83.37 239.08h0.8v0.8h-0.8zM89.31 233.36h0.8v0.8h-0.8zM89.72 234.91h0.8v0.8h-0.8zM92.37 238.94h0.8v0.8h-0.8zM92.4 236.3h0.8v0.8h-0.8zM91.87 237.8h0.8v0.8h-0.8zM93.28 229.32h0.8v0.8h-0.8zM90.41 235.45h0.8v0.8h-0.8zM89.76 234.4h0.8v0.8h-0.8zM88.94 236.78h0.8v0.8h-0.8zM89.9 235.61h0.8v0.8h-0.8zM85.44 231.18h0.8v0.8h-0.8zM86.58 229.5h0.8v0.8h-0.8zM87.39 232.48h0.8v0.8h-0.8zM82.91 229h0.8v0.8h-0.8zM87.56 233.34h0.8v0.8h-0.8zM86.46 233.6h0.8v0.8h-0.8zM85.66 232.68h0.8v0.8h-0.8zM87.97 235.04h0.8v0.8h-0.8zM87.02 237.83h0.8v0.8h-0.8zM91.45 241.46h0.8v0.8h-0.8zM84.62 237.36h0.8v0.8h-0.8zM87.89 230.06h0.8v0.8h-0.8zM88.14 229.94h0.8v0.8h-0.8zM93.77 241.03h0.8v0.8h-0.8zM93.38 230.25h0.8v0.8h-0.8zM90.65 235.66h0.8v0.8h-0.8zM90.72 231.88h0.8v0.8h-0.8zM82.26 241.93h0.8v0.8h-0.8zM93.37 236.18h0.8v0.8h-0.8zM87.48 235.78h0.8v0.8h-0.8zM84.86 238.27h0.8v0.8h-0.8zM89.78 234.72h0.8v0.8h-0.8zM87.69 234.99h0.8v0.8h-0.8zM89.66 233.91h0.8v0.8h-0.8zM92.57 235.87h0.8v0.8h-0.8zM88.87 232.44h0.8v0.8h-0.8zM93.46 239.35h0.8v0.8h-0.8zM91.61 229.3h0.8v0.8h-0.8zM87.98 238.38h0.8v0.8h-0.8zM89.33 239.28h0.8v0.8h-0.8zM87.66 237.75h0.8v0.8h-0.8zM87.78 234.44h0.8v0.8h-0.8zM87.01 232.34h0.8v0.8h-0.8zM94.76 234.82h0.8v0.8h-0.8zM91.96 230.91h0.8v0.8h-0.8zM81.93 233.69h0.8v0.8h-0.8zM90.63 232.89h0.8v0.8h-0.8zM91.06 237.77h0.8v0.8h-0.8zM87.63 235.01h0.8v0.8h-0.8zM86.62 238.66h0.8v0.8h-0.8zM95.39 236.79h0.8v0.8h-0.8zM87.43 232.94h0.8v0.8h-0.8zM88.22 238.05h0.8v0.8h-0.8zM89.19 237.62h0.8v0.8h-0.8zM88.44 235.39h0.8v0.8h-0.8zM92.51 238.08h0.8v0.8h-0.8zM89.75 236.59h0.8v0.8h-0.8zM94.45 237.15h0.8v0.8h-0.8zM86.89 235.82h0.8v0.8h-0.8zM94.2 233.66h0.8v0.8h-0.8zM91.86 232.27h0.8v0.8h-0.8zM92.94 234.13h0.8v0.8h-0.8zM91.69 236.77h0.8v0.8h-0.8zM85.95 233.25h0.8v0.8h-0.8zM90.93 233.12h0.8v0.8h-0.8zM90.37 233.98h0.8v0.8h-0.8zM92.55 234.64h0.8v0.8h-0.8zM88.94 236.36h0.8v0.8h-0.8zM92.36 235.17h0.8v0.8h-0.8zM90.85 236.14h0.8v0.8h-0.8zM89.61 233.62h0.8v0.8h-0.8zM91.25 234.87h0.8v0.8h-0.8zM88.21 236.68h0.8v0.8h-0.8zM91.1 235.61h0.8v0.8h-0.8zM89.19 235.07h0.8v0.8h-0.8zM91.38 236.13h0.8v0.8h-0.8zM89.08 234.05h0.8v0.8h-0.8zM90.95 235.68h0.8v0.8h-0.8zM91.76 233.66h0.8v0.8h-0.8zM91.87 238.05h0.8v0.8h-0.8zM91.92 235.6h0.8v0.8h-0.8zM91.85 233.47h0.8v0.8h-0.8zM89.69 238.49h0.8v0.8h-0.8zM87.78 233.66h0.8v0.8h-0.8zM91.72 234.41h0.8v0.8h-0.8zM89.5 233.72h0.8v0.8h-0.8zM93.09 234.49h0.8v0.8h-0.8zM89.96 232.68h0.8v0.8h-0.8zM91.63 235.39h0.8v0.8h-0.8zM91.2 237.77h0.8v0.8h-0.8zM90.64 233.61h0.8v0.8h-0.8zM88.78 235.52h0.8v0.8h-0.8zM92.51 233.6h0.8v0.8h-0.8zM90.01 235.18h0.8v0.8h-0.8zM91.45 234.06h0.8v0.8h-0.8zM90.9 236.58h0.8v0.8h-0.8zM90.34 235.25h0.8v0.8h-0.8zM91.39 236.27h0.8v0.8h-0.8zM92.41 233.78h0.8v0.8h-0.8zM92.37 235.06h0.8v0.8h-0.8zM88.58 234.57h0.8v0.8h-0.8zM88.43 235.1h0.8v0.8h-0.8zM92.05 232.03h0.8v0.8h-0.8zM88.51 236.55h0.8v0.8h-0.8zM89.92 236.59h0.8v0.8h-0.8zM88.28 235.32h0.8v0.8h-0.8zM86.23 234.13h0.8v0.8h-0.8zM91.58 237.22h0.8v0.8h-0.8zM93.01 235.32h0.8v0.8h-0.8zM89 234.82h0.8v0.8h-0.8zM87.33 237.43h0.8v0.8h-0.8zM92.28 234.04h0.8v0.8h-0.8zM93.33 233.37h0.8v0.8h-0.8zM91.3 234.19h0.8v0.8h-0.8zM87.62 235.99h0.8v0.8h-0.8zM88.55 237.19h0.8v0.8h-0.8zM88.96 235.56h0.8v0.8h-0.8zM89.63 235.6h0.8v0.8h-0.8zM89.39 236.63h0.8v0.8h-0.8zM91.38 235.5h0.8v0.8h-0.8zM90.2 238.36h0.8v0.8h-0.8zM89.29 234.74h0.8v0.8h-0.8zM91.64 235.38h0.8v0.8h-0.8zM87.79 235.19h0.8v0.8h-0.8zM89.79 233.91h0.8v0.8h-0.8zM90.71 233.69h0.8v0.8h-0.8zM90 233.7h0.8v0.8h-0.8zM92.9 234.98h0.8v0.8h-0.8zM91.11 235.83h0.8v0.8h-0.8zM91.53 235.17h0.8v0.8h-0.8zM91.61 235.59h0.8v0.8h-0.8zM86.49 235.87h0.8v0.8h-0.8zM88.33 236.82h0.8v0.8h-0.8zM90.75 234.84h0.8v0.8h-0.8zM86.36 232.19h0.8v0.8h-0.8zM88.52 234.83h0.8v0.8h-0.8zM88.19 238.38h0.8v0.8h-0.8zM91.13 235.27h0.8v0.8h-0.8zM88.82 234.89h0.8v0.8h-0.8zM90.02 234.74h0.8v0.8h-0.8zM90.28 236.61h0.8v0.8h-0.8zM87.58 235.74h0.8v0.8h-0.8zM92.16 233.35h0.8v0.8h-0.8zM90.83 222.52h0.8v0.8h-0.8zM86.24 226.01h0.8v0.8h-0.8zM84.71 225.05h0.8v0.8h-0.8zM94.48 222.7h0.8v0.8h-0.8zM93.66 222.63h0.8v0.8h-0.8zM86.18 227.43h0.8v0.8h-0.8zM83.22 225.12h0.8v0.8h-0.8zM86.67 227.33h0.8v0.8h-0.8zM91.5 212.8h0.8v0.8h-0.8z" fill="#000" fill-opacity="0.85"/>
<line x1="115.2" y1="215.46" x2="116.5" y2="215.46" stroke="#333" stroke-width="0.8"/>
<line x1="115.2" y1="211.51" x2="116.5" y2="211.51" stroke="#333" stroke-width="0.8"/>
<line x1="115.2" y1="208.71" x2="116.5" y2="208.71" stroke="#333" stroke-width="0.8"/>
<line x1="115.2" y1="206.54" x2="116.5" y2="206.54" stroke="#333" stroke-width="0.8"/>
<line x1="115.2" y1="204.77" x2="116.5" y2="204.77" stroke="#333" stroke-width="0.8"/>
<line x1="115.2" y1="203.27" x2="116.5" y2="203.27" stroke="#333" stroke-width="0.8"/>
<line x1="115.2" y1="201.97" x2="116.5" y2="201.97" stroke="#333" stroke-width="0.8"/>
<line x1="115.2" y1="200.82" x2="116.5" y2="200.82" stroke="#333" stroke-width="0.8"/>
<line x1="115.2" y1="238.85" x2="116.5" y2="238.85" stroke="#333" stroke-width="0.8"/>
<line x1="115.2" y1="250.3" x2="116.5" y2="250.3" stroke="#333" stroke-width="0.8"/>
<line x1="115.2" y1="234.41" x2="116.5" y2="234.41" stroke="#333" stroke-width="0.8"/>
<line x1="115.2" y1="255.02" x2="116.5" y2="255.02" stroke="#333" stroke-width="0.8"/>
<line x1="115.2" y1="230.64" x2="116.5" y2="230.64" stroke="#333" stroke-width="0.8"/>
<line x1="115.2" y1="259.03" x2="116.5" y2="259.03" stroke="#333" stroke-width="0.8"/>
<line x1="115.2" y1="227.53" x2="116.5" y2="227.53" stroke="#333" stroke-width="0.8"/>
<line x1="115.2" y1="262.34" x2="116.5" y2="262.34" stroke="#333" stroke-width="0.8"/>
<line x1="115.2" y1="224.86" x2="116.5" y2="224.86" stroke="#333" stroke-width="0.8"/>
<line x1="115.2" y1="265.17" x2="116.5" y2="265.17" stroke="#333" stroke-width="0.8"/>
<line x1="114.3" y1="199.8" x2="116.5" y2="199.8" stroke="#333" stroke-width="0.9"/>
<line x1="114.3" y1="222.2" x2="116.5" y2="222.2" stroke="#333" stroke-width="0.9"/>
<line x1="114.3" y1="244.4" x2="116.5" y2="244.4" stroke="#333" stroke-width="0.9"/>
<line x1="114.3" y1="268" x2="116.5" y2="268" stroke="#333" stroke-width="0.9"/>
<line x1="164.59" y1="272.8" x2="164.59" y2="274.1" stroke="#333" stroke-width="0.8"/>
<line x1="183.61" y1="272.8" x2="183.61" y2="274.1" stroke="#333" stroke-width="0.8"/>
<line x1="167.94" y1="272.8" x2="167.94" y2="274.1" stroke="#333" stroke-width="0.8"/>
<line x1="186.96" y1="272.8" x2="186.96" y2="274.1" stroke="#333" stroke-width="0.8"/>
<line x1="170.31" y1="272.8" x2="170.31" y2="274.1" stroke="#333" stroke-width="0.8"/>
<line x1="189.34" y1="272.8" x2="189.34" y2="274.1" stroke="#333" stroke-width="0.8"/>
<line x1="172.16" y1="272.8" x2="172.16" y2="274.1" stroke="#333" stroke-width="0.8"/>
<line x1="173.66" y1="272.8" x2="173.66" y2="274.1" stroke="#333" stroke-width="0.8"/>
<line x1="174.94" y1="272.8" x2="174.94" y2="274.1" stroke="#333" stroke-width="0.8"/>
<line x1="176.04" y1="272.8" x2="176.04" y2="274.1" stroke="#333" stroke-width="0.8"/>
<line x1="177.01" y1="272.8" x2="177.01" y2="274.1" stroke="#333" stroke-width="0.8"/>
<line x1="144.44" y1="272.8" x2="144.44" y2="274.1" stroke="#333" stroke-width="0.8"/>
<line x1="134.82" y1="272.8" x2="134.82" y2="274.1" stroke="#333" stroke-width="0.8"/>
<line x1="148.28" y1="272.8" x2="148.28" y2="274.1" stroke="#333" stroke-width="0.8"/>
<line x1="130.98" y1="272.8" x2="130.98" y2="274.1" stroke="#333" stroke-width="0.8"/>
<line x1="151.55" y1="272.8" x2="151.55" y2="274.1" stroke="#333" stroke-width="0.8"/>
<line x1="127.71" y1="272.8" x2="127.71" y2="274.1" stroke="#333" stroke-width="0.8"/>
<line x1="154.24" y1="272.8" x2="154.24" y2="274.1" stroke="#333" stroke-width="0.8"/>
<line x1="125.02" y1="272.8" x2="125.02" y2="274.1" stroke="#333" stroke-width="0.8"/>
<line x1="156.55" y1="272.8" x2="156.55" y2="274.1" stroke="#333" stroke-width="0.8"/>
<line x1="122.71" y1="272.8" x2="122.71" y2="274.1" stroke="#333" stroke-width="0.8"/>
<line x1="120.41" y1="272.8" x2="120.41" y2="275" stroke="#333" stroke-width="0.9"/>
<line x1="139.63" y1="272.8" x2="139.63" y2="275" stroke="#333" stroke-width="0.9"/>
<line x1="158.86" y1="272.8" x2="158.86" y2="275" stroke="#333" stroke-width="0.9"/>
<line x1="177.88" y1="272.8" x2="177.88" y2="275" stroke="#333" stroke-width="0.9"/>
<rect x="114.5" y="242.2" width="2" height="3.5" fill="#111"/>
<rect x="136.63" y="272.8" width="5" height="1.8" fill="#111"/>
<rect x="116.5" y="198.6" width="73.3" height="74.2" fill="none" stroke="#222" stroke-width="1"/>
<text x="107.3" y="201.5" font-size="4.7" fill="#666" stroke="#666" stroke-width="0.1" textLength="4" lengthAdjust="spacingAndGlyphs">10</text>
<text x="111.4" y="199.6" font-size="2.91" fill="#666" stroke="#666" stroke-width="0.05" textLength="1.5" lengthAdjust="spacingAndGlyphs">5</text>
<text x="107.3" y="223.9" font-size="4.7" fill="#666" stroke="#666" stroke-width="0.1" textLength="4" lengthAdjust="spacingAndGlyphs">10</text>
<text x="111.4" y="222" font-size="2.91" fill="#666" stroke="#666" stroke-width="0.05" textLength="1.5" lengthAdjust="spacingAndGlyphs">4</text>
<text x="108" y="246.1" font-size="4.7" fill="#666" stroke="#666" stroke-width="0.1" textLength="2.6" lengthAdjust="spacingAndGlyphs">0</text>
<text x="104.9" y="269.7" font-size="4.7" fill="#666" stroke="#666" stroke-width="0.1" textLength="6.4" lengthAdjust="spacingAndGlyphs">–10</text>
<text x="111.4" y="267.8" font-size="2.91" fill="#666" stroke="#666" stroke-width="0.05" textLength="1.5" lengthAdjust="spacingAndGlyphs">4</text>
<text x="116.41" y="280.8" font-size="4.7" fill="#666" stroke="#666" stroke-width="0.1" textLength="6.4" lengthAdjust="spacingAndGlyphs">–10</text>
<text x="122.91" y="278.9" font-size="2.91" fill="#666" stroke="#666" stroke-width="0.05" textLength="1.5" lengthAdjust="spacingAndGlyphs">4</text>
<text x="138.33" y="280.8" font-size="4.7" fill="#666" stroke="#666" stroke-width="0.1" textLength="2.6" lengthAdjust="spacingAndGlyphs">0</text>
<text x="156.06" y="280.8" font-size="4.7" fill="#666" stroke="#666" stroke-width="0.1" textLength="4" lengthAdjust="spacingAndGlyphs">10</text>
<text x="160.16" y="278.9" font-size="2.91" fill="#666" stroke="#666" stroke-width="0.05" textLength="1.5" lengthAdjust="spacingAndGlyphs">4</text>
<text x="175.08" y="280.8" font-size="4.7" fill="#666" stroke="#666" stroke-width="0.1" textLength="4" lengthAdjust="spacingAndGlyphs">10</text>
<text x="179.18" y="278.9" font-size="2.91" fill="#666" stroke="#666" stroke-width="0.05" textLength="1.5" lengthAdjust="spacingAndGlyphs">5</text>
<rect x="162.3" y="203.3" width="23.4" height="24.9" fill="none" stroke="#999" stroke-width="1.15" rx="0.6"/>
<text x="146" y="219.7" font-size="6.9" fill="#333" stroke="#333" stroke-width="0.05" textLength="11.9" lengthAdjust="spacingAndGlyphs">10.3</text>
<text x="146.8" y="192.2" font-size="8.2" fill="#222" stroke="#222" stroke-width="0.15" textLength="13.1" lengthAdjust="spacingAndGlyphs">WT</text>
<path d="M170.8 223h0.8v0.8h-0.8zM177.4 223.3h0.8v0.8h-0.8zM175.5 224.6h0.8v0.8h-0.8zM175.5 226.2h0.8v0.8h-0.8zM177.4 226.4h0.8v0.8h-0.8zM178 228.3h0.8v0.8h-0.8zM168.5 228.5h0.8v0.8h-0.8zM173.5 230.4h0.8v0.8h-0.8zM175.3 229.3h0.8v0.8h-0.8zM178.4 230.1h0.8v0.8h-0.8zM178.4 231.2h0.8v0.8h-0.8zM171.6 231.7h0.8v0.8h-0.8zM176.1 232.5h0.8v0.8h-0.8zM177.2 232.2h0.8v0.8h-0.8zM179.3 232.2h0.8v0.8h-0.8zM170.3 233.8h0.8v0.8h-0.8zM173.2 233.5h0.8v0.8h-0.8zM173 234.8h0.8v0.8h-0.8zM173.5 236.2h0.8v0.8h-0.8zM179.5 233.8h0.8v0.8h-0.8zM176.6 235.9h0.8v0.8h-0.8zM178.7 236.4h0.8v0.8h-0.8zM180.3 236.2h0.8v0.8h-0.8zM167.7 236.4h0.8v0.8h-0.8zM168.5 238.5h0.8v0.8h-0.8zM174.5 238.8h0.8v0.8h-0.8zM176.1 240.1h0.8v0.8h-0.8zM176.9 241.2h0.8v0.8h-0.8zM180.3 239.3h0.8v0.8h-0.8zM181.6 238.5h0.8v0.8h-0.8zM181.1 240.9h0.8v0.8h-0.8zM171.6 240.6h0.8v0.8h-0.8zM180.6 244.3h0.8v0.8h-0.8zM174.2 237.6h0.8v0.8h-0.8zM179 234.6h0.8v0.8h-0.8z" fill="#000" fill-opacity="0.9"/>
<line x1="202.1" y1="215.46" x2="203.4" y2="215.46" stroke="#333" stroke-width="0.8"/>
<line x1="202.1" y1="211.51" x2="203.4" y2="211.51" stroke="#333" stroke-width="0.8"/>
<line x1="202.1" y1="208.71" x2="203.4" y2="208.71" stroke="#333" stroke-width="0.8"/>
<line x1="202.1" y1="206.54" x2="203.4" y2="206.54" stroke="#333" stroke-width="0.8"/>
<line x1="202.1" y1="204.77" x2="203.4" y2="204.77" stroke="#333" stroke-width="0.8"/>
<line x1="202.1" y1="203.27" x2="203.4" y2="203.27" stroke="#333" stroke-width="0.8"/>
<line x1="202.1" y1="201.97" x2="203.4" y2="201.97" stroke="#333" stroke-width="0.8"/>
<line x1="202.1" y1="200.82" x2="203.4" y2="200.82" stroke="#333" stroke-width="0.8"/>
<line x1="202.1" y1="238.85" x2="203.4" y2="238.85" stroke="#333" stroke-width="0.8"/>
<line x1="202.1" y1="250.3" x2="203.4" y2="250.3" stroke="#333" stroke-width="0.8"/>
<line x1="202.1" y1="234.41" x2="203.4" y2="234.41" stroke="#333" stroke-width="0.8"/>
<line x1="202.1" y1="255.02" x2="203.4" y2="255.02" stroke="#333" stroke-width="0.8"/>
<line x1="202.1" y1="230.64" x2="203.4" y2="230.64" stroke="#333" stroke-width="0.8"/>
<line x1="202.1" y1="259.03" x2="203.4" y2="259.03" stroke="#333" stroke-width="0.8"/>
<line x1="202.1" y1="227.53" x2="203.4" y2="227.53" stroke="#333" stroke-width="0.8"/>
<line x1="202.1" y1="262.34" x2="203.4" y2="262.34" stroke="#333" stroke-width="0.8"/>
<line x1="202.1" y1="224.86" x2="203.4" y2="224.86" stroke="#333" stroke-width="0.8"/>
<line x1="202.1" y1="265.17" x2="203.4" y2="265.17" stroke="#333" stroke-width="0.8"/>
<line x1="201.2" y1="199.8" x2="203.4" y2="199.8" stroke="#333" stroke-width="0.9"/>
<line x1="201.2" y1="222.2" x2="203.4" y2="222.2" stroke="#333" stroke-width="0.9"/>
<line x1="201.2" y1="244.4" x2="203.4" y2="244.4" stroke="#333" stroke-width="0.9"/>
<line x1="201.2" y1="268" x2="203.4" y2="268" stroke="#333" stroke-width="0.9"/>
<line x1="251.62" y1="272.8" x2="251.62" y2="274.1" stroke="#333" stroke-width="0.8"/>
<line x1="270.69" y1="272.8" x2="270.69" y2="274.1" stroke="#333" stroke-width="0.8"/>
<line x1="254.98" y1="272.8" x2="254.98" y2="274.1" stroke="#333" stroke-width="0.8"/>
<line x1="274.05" y1="272.8" x2="274.05" y2="274.1" stroke="#333" stroke-width="0.8"/>
<line x1="257.36" y1="272.8" x2="257.36" y2="274.1" stroke="#333" stroke-width="0.8"/>
<line x1="276.44" y1="272.8" x2="276.44" y2="274.1" stroke="#333" stroke-width="0.8"/>
<line x1="259.21" y1="272.8" x2="259.21" y2="274.1" stroke="#333" stroke-width="0.8"/>
<line x1="260.72" y1="272.8" x2="260.72" y2="274.1" stroke="#333" stroke-width="0.8"/>
<line x1="262" y1="272.8" x2="262" y2="274.1" stroke="#333" stroke-width="0.8"/>
<line x1="263.1" y1="272.8" x2="263.1" y2="274.1" stroke="#333" stroke-width="0.8"/>
<line x1="264.08" y1="272.8" x2="264.08" y2="274.1" stroke="#333" stroke-width="0.8"/>
<line x1="231.41" y1="272.8" x2="231.41" y2="274.1" stroke="#333" stroke-width="0.8"/>
<line x1="221.78" y1="272.8" x2="221.78" y2="274.1" stroke="#333" stroke-width="0.8"/>
<line x1="235.27" y1="272.8" x2="235.27" y2="274.1" stroke="#333" stroke-width="0.8"/>
<line x1="217.92" y1="272.8" x2="217.92" y2="274.1" stroke="#333" stroke-width="0.8"/>
<line x1="238.55" y1="272.8" x2="238.55" y2="274.1" stroke="#333" stroke-width="0.8"/>
<line x1="214.64" y1="272.8" x2="214.64" y2="274.1" stroke="#333" stroke-width="0.8"/>
<line x1="241.25" y1="272.8" x2="241.25" y2="274.1" stroke="#333" stroke-width="0.8"/>
<line x1="211.94" y1="272.8" x2="211.94" y2="274.1" stroke="#333" stroke-width="0.8"/>
<line x1="243.56" y1="272.8" x2="243.56" y2="274.1" stroke="#333" stroke-width="0.8"/>
<line x1="209.63" y1="272.8" x2="209.63" y2="274.1" stroke="#333" stroke-width="0.8"/>
<line x1="207.32" y1="272.8" x2="207.32" y2="275" stroke="#333" stroke-width="0.9"/>
<line x1="226.59" y1="272.8" x2="226.59" y2="275" stroke="#333" stroke-width="0.9"/>
<line x1="245.87" y1="272.8" x2="245.87" y2="275" stroke="#333" stroke-width="0.9"/>
<line x1="264.95" y1="272.8" x2="264.95" y2="275" stroke="#333" stroke-width="0.9"/>
<rect x="201.4" y="242.2" width="2" height="3.5" fill="#111"/>
<rect x="223.59" y="272.8" width="5" height="1.8" fill="#111"/>
<rect x="203.4" y="198.6" width="73.5" height="74.2" fill="none" stroke="#222" stroke-width="1"/>
<text x="194.2" y="201.5" font-size="4.7" fill="#666" stroke="#666" stroke-width="0.1" textLength="4" lengthAdjust="spacingAndGlyphs">10</text>
<text x="198.3" y="199.6" font-size="2.91" fill="#666" stroke="#666" stroke-width="0.05" textLength="1.5" lengthAdjust="spacingAndGlyphs">5</text>
<text x="194.2" y="223.9" font-size="4.7" fill="#666" stroke="#666" stroke-width="0.1" textLength="4" lengthAdjust="spacingAndGlyphs">10</text>
<text x="198.3" y="222" font-size="2.91" fill="#666" stroke="#666" stroke-width="0.05" textLength="1.5" lengthAdjust="spacingAndGlyphs">4</text>
<text x="194.9" y="246.1" font-size="4.7" fill="#666" stroke="#666" stroke-width="0.1" textLength="2.6" lengthAdjust="spacingAndGlyphs">0</text>
<text x="191.8" y="269.7" font-size="4.7" fill="#666" stroke="#666" stroke-width="0.1" textLength="6.4" lengthAdjust="spacingAndGlyphs">–10</text>
<text x="198.3" y="267.8" font-size="2.91" fill="#666" stroke="#666" stroke-width="0.05" textLength="1.5" lengthAdjust="spacingAndGlyphs">4</text>
<text x="203.32" y="280.8" font-size="4.7" fill="#666" stroke="#666" stroke-width="0.1" textLength="6.4" lengthAdjust="spacingAndGlyphs">–10</text>
<text x="209.82" y="278.9" font-size="2.91" fill="#666" stroke="#666" stroke-width="0.05" textLength="1.5" lengthAdjust="spacingAndGlyphs">4</text>
<text x="225.29" y="280.8" font-size="4.7" fill="#666" stroke="#666" stroke-width="0.1" textLength="2.6" lengthAdjust="spacingAndGlyphs">0</text>
<text x="243.07" y="280.8" font-size="4.7" fill="#666" stroke="#666" stroke-width="0.1" textLength="4" lengthAdjust="spacingAndGlyphs">10</text>
<text x="247.17" y="278.9" font-size="2.91" fill="#666" stroke="#666" stroke-width="0.05" textLength="1.5" lengthAdjust="spacingAndGlyphs">4</text>
<text x="262.15" y="280.8" font-size="4.7" fill="#666" stroke="#666" stroke-width="0.1" textLength="4" lengthAdjust="spacingAndGlyphs">10</text>
<text x="266.25" y="278.9" font-size="2.91" fill="#666" stroke="#666" stroke-width="0.05" textLength="1.5" lengthAdjust="spacingAndGlyphs">5</text>
<rect x="249.5" y="203.4" width="23" height="24.9" fill="none" stroke="#999" stroke-width="1.15" rx="0.6"/>
<text x="232.5" y="219.6" font-size="6.9" fill="#333" stroke="#333" stroke-width="0.05" textLength="12.5" lengthAdjust="spacingAndGlyphs">21.4</text>
<text x="226.1" y="192.4" font-size="8.2" fill="#222" stroke="#222" stroke-width="0.15" textLength="27.4" lengthAdjust="spacingAndGlyphs">VIP-KO</text>
<path d="M261.43 239.88h0.8v0.8h-0.8zM256.81 238.46h0.8v0.8h-0.8zM259.83 231.56h0.8v0.8h-0.8zM269.55 233.87h0.8v0.8h-0.8zM260.81 237.01h0.8v0.8h-0.8zM266.07 232.83h0.8v0.8h-0.8zM263.65 227.64h0.8v0.8h-0.8zM259.35 230.59h0.8v0.8h-0.8zM255 224.7h0.8v0.8h-0.8zM253.68 231.69h0.8v0.8h-0.8zM260.22 231.24h0.8v0.8h-0.8zM261.31 225.65h0.8v0.8h-0.8zM260.64 234.31h0.8v0.8h-0.8zM264.38 228.35h0.8v0.8h-0.8zM259.2 221.92h0.8v0.8h-0.8z" fill="#000" fill-opacity="0.9"/>
<line x1="289" y1="215.46" x2="290.3" y2="215.46" stroke="#333" stroke-width="0.8"/>
<line x1="289" y1="211.51" x2="290.3" y2="211.51" stroke="#333" stroke-width="0.8"/>
<line x1="289" y1="208.71" x2="290.3" y2="208.71" stroke="#333" stroke-width="0.8"/>
<line x1="289" y1="206.54" x2="290.3" y2="206.54" stroke="#333" stroke-width="0.8"/>
<line x1="289" y1="204.77" x2="290.3" y2="204.77" stroke="#333" stroke-width="0.8"/>
<line x1="289" y1="203.27" x2="290.3" y2="203.27" stroke="#333" stroke-width="0.8"/>
<line x1="289" y1="201.97" x2="290.3" y2="201.97" stroke="#333" stroke-width="0.8"/>
<line x1="289" y1="200.82" x2="290.3" y2="200.82" stroke="#333" stroke-width="0.8"/>
<line x1="289" y1="238.85" x2="290.3" y2="238.85" stroke="#333" stroke-width="0.8"/>
<line x1="289" y1="250.3" x2="290.3" y2="250.3" stroke="#333" stroke-width="0.8"/>
<line x1="289" y1="234.41" x2="290.3" y2="234.41" stroke="#333" stroke-width="0.8"/>
<line x1="289" y1="255.02" x2="290.3" y2="255.02" stroke="#333" stroke-width="0.8"/>
<line x1="289" y1="230.64" x2="290.3" y2="230.64" stroke="#333" stroke-width="0.8"/>
<line x1="289" y1="259.03" x2="290.3" y2="259.03" stroke="#333" stroke-width="0.8"/>
<line x1="289" y1="227.53" x2="290.3" y2="227.53" stroke="#333" stroke-width="0.8"/>
<line x1="289" y1="262.34" x2="290.3" y2="262.34" stroke="#333" stroke-width="0.8"/>
<line x1="289" y1="224.86" x2="290.3" y2="224.86" stroke="#333" stroke-width="0.8"/>
<line x1="289" y1="265.17" x2="290.3" y2="265.17" stroke="#333" stroke-width="0.8"/>
<line x1="288.1" y1="199.8" x2="290.3" y2="199.8" stroke="#333" stroke-width="0.9"/>
<line x1="288.1" y1="222.2" x2="290.3" y2="222.2" stroke="#333" stroke-width="0.9"/>
<line x1="288.1" y1="244.4" x2="290.3" y2="244.4" stroke="#333" stroke-width="0.9"/>
<line x1="288.1" y1="268" x2="290.3" y2="268" stroke="#333" stroke-width="0.9"/>
<line x1="338.52" y1="272.8" x2="338.52" y2="274.1" stroke="#333" stroke-width="0.8"/>
<line x1="357.59" y1="272.8" x2="357.59" y2="274.1" stroke="#333" stroke-width="0.8"/>
<line x1="341.88" y1="272.8" x2="341.88" y2="274.1" stroke="#333" stroke-width="0.8"/>
<line x1="360.95" y1="272.8" x2="360.95" y2="274.1" stroke="#333" stroke-width="0.8"/>
<line x1="344.26" y1="272.8" x2="344.26" y2="274.1" stroke="#333" stroke-width="0.8"/>
<line x1="363.34" y1="272.8" x2="363.34" y2="274.1" stroke="#333" stroke-width="0.8"/>
<line x1="346.11" y1="272.8" x2="346.11" y2="274.1" stroke="#333" stroke-width="0.8"/>
<line x1="347.62" y1="272.8" x2="347.62" y2="274.1" stroke="#333" stroke-width="0.8"/>
<line x1="348.9" y1="272.8" x2="348.9" y2="274.1" stroke="#333" stroke-width="0.8"/>
<line x1="350" y1="272.8" x2="350" y2="274.1" stroke="#333" stroke-width="0.8"/>
<line x1="350.98" y1="272.8" x2="350.98" y2="274.1" stroke="#333" stroke-width="0.8"/>
<line x1="318.31" y1="272.8" x2="318.31" y2="274.1" stroke="#333" stroke-width="0.8"/>
<line x1="308.68" y1="272.8" x2="308.68" y2="274.1" stroke="#333" stroke-width="0.8"/>
<line x1="322.17" y1="272.8" x2="322.17" y2="274.1" stroke="#333" stroke-width="0.8"/>
<line x1="304.82" y1="272.8" x2="304.82" y2="274.1" stroke="#333" stroke-width="0.8"/>
<line x1="325.45" y1="272.8" x2="325.45" y2="274.1" stroke="#333" stroke-width="0.8"/>
<line x1="301.54" y1="272.8" x2="301.54" y2="274.1" stroke="#333" stroke-width="0.8"/>
<line x1="328.15" y1="272.8" x2="328.15" y2="274.1" stroke="#333" stroke-width="0.8"/>
<line x1="298.84" y1="272.8" x2="298.84" y2="274.1" stroke="#333" stroke-width="0.8"/>
<line x1="330.46" y1="272.8" x2="330.46" y2="274.1" stroke="#333" stroke-width="0.8"/>
<line x1="296.53" y1="272.8" x2="296.53" y2="274.1" stroke="#333" stroke-width="0.8"/>
<line x1="294.22" y1="272.8" x2="294.22" y2="275" stroke="#333" stroke-width="0.9"/>
<line x1="313.49" y1="272.8" x2="313.49" y2="275" stroke="#333" stroke-width="0.9"/>
<line x1="332.77" y1="272.8" x2="332.77" y2="275" stroke="#333" stroke-width="0.9"/>
<line x1="351.85" y1="272.8" x2="351.85" y2="275" stroke="#333" stroke-width="0.9"/>
<rect x="288.3" y="242.2" width="2" height="3.5" fill="#111"/>
<rect x="310.49" y="272.8" width="5" height="1.8" fill="#111"/>
<rect x="290.3" y="198.6" width="73.5" height="74.2" fill="none" stroke="#222" stroke-width="1"/>
<text x="281.1" y="201.5" font-size="4.7" fill="#666" stroke="#666" stroke-width="0.1" textLength="4" lengthAdjust="spacingAndGlyphs">10</text>
<text x="285.2" y="199.6" font-size="2.91" fill="#666" stroke="#666" stroke-width="0.05" textLength="1.5" lengthAdjust="spacingAndGlyphs">5</text>
<text x="281.1" y="223.9" font-size="4.7" fill="#666" stroke="#666" stroke-width="0.1" textLength="4" lengthAdjust="spacingAndGlyphs">10</text>
<text x="285.2" y="222" font-size="2.91" fill="#666" stroke="#666" stroke-width="0.05" textLength="1.5" lengthAdjust="spacingAndGlyphs">4</text>
<text x="281.8" y="246.1" font-size="4.7" fill="#666" stroke="#666" stroke-width="0.1" textLength="2.6" lengthAdjust="spacingAndGlyphs">0</text>
<text x="278.7" y="269.7" font-size="4.7" fill="#666" stroke="#666" stroke-width="0.1" textLength="6.4" lengthAdjust="spacingAndGlyphs">–10</text>
<text x="285.2" y="267.8" font-size="2.91" fill="#666" stroke="#666" stroke-width="0.05" textLength="1.5" lengthAdjust="spacingAndGlyphs">4</text>
<text x="290.22" y="280.8" font-size="4.7" fill="#666" stroke="#666" stroke-width="0.1" textLength="6.4" lengthAdjust="spacingAndGlyphs">–10</text>
<text x="296.72" y="278.9" font-size="2.91" fill="#666" stroke="#666" stroke-width="0.05" textLength="1.5" lengthAdjust="spacingAndGlyphs">4</text>
<text x="312.19" y="280.8" font-size="4.7" fill="#666" stroke="#666" stroke-width="0.1" textLength="2.6" lengthAdjust="spacingAndGlyphs">0</text>
<text x="329.97" y="280.8" font-size="4.7" fill="#666" stroke="#666" stroke-width="0.1" textLength="4" lengthAdjust="spacingAndGlyphs">10</text>
<text x="334.07" y="278.9" font-size="2.91" fill="#666" stroke="#666" stroke-width="0.05" textLength="1.5" lengthAdjust="spacingAndGlyphs">4</text>
<text x="349.05" y="280.8" font-size="4.7" fill="#666" stroke="#666" stroke-width="0.1" textLength="4" lengthAdjust="spacingAndGlyphs">10</text>
<text x="353.15" y="278.9" font-size="2.91" fill="#666" stroke="#666" stroke-width="0.05" textLength="1.5" lengthAdjust="spacingAndGlyphs">5</text>
<rect x="335.8" y="203.6" width="23.5" height="24.6" fill="none" stroke="#999" stroke-width="1.15" rx="0.6"/>
<text x="319.9" y="219.6" font-size="6.9" fill="#333" stroke="#333" stroke-width="0.05" textLength="12.3" lengthAdjust="spacingAndGlyphs">24.0</text>
<text x="320.4" y="192.4" font-size="8.2" fill="#222" stroke="#222" stroke-width="0.15" textLength="13" lengthAdjust="spacingAndGlyphs">WT</text>
<path d="M347.22 234.59h0.8v0.8h-0.8zM344.47 234.09h0.8v0.8h-0.8zM352.09 234.35h0.8v0.8h-0.8zM355.59 228.52h0.8v0.8h-0.8zM347.37 229.33h0.8v0.8h-0.8zM342.69 231.67h0.8v0.8h-0.8zM348.22 234.39h0.8v0.8h-0.8zM349.79 242.55h0.8v0.8h-0.8zM351.74 225.32h0.8v0.8h-0.8zM348.12 229.7h0.8v0.8h-0.8zM344.16 238.38h0.8v0.8h-0.8zM345.77 223.72h0.8v0.8h-0.8zM348.71 231.19h0.8v0.8h-0.8zM340.54 228.36h0.8v0.8h-0.8zM343.56 232.39h0.8v0.8h-0.8zM344.65 232.82h0.8v0.8h-0.8zM343.5 204.5h0.8v0.8h-0.8zM341.5 219.5h0.8v0.8h-0.8zM343 224.5h0.8v0.8h-0.8z" fill="#000" fill-opacity="0.9"/>
<path d="M15.8 331.3 V418.6 H363.6" fill="none" stroke="#444" stroke-width="1.1" stroke-linejoin="round"/>
<text transform="translate(12.6 383.1) rotate(-90)" font-size="8.4" fill="#333" stroke="#333" stroke-width="0.15" textLength="16.8" lengthAdjust="spacingAndGlyphs">CD80</text>
<text x="178.6" y="430" font-size="8.4" fill="#222" stroke="#222" stroke-width="0.15" textLength="21.4" lengthAdjust="spacingAndGlyphs">PDCA-1</text>
<line x1="28.1" y1="349.83" x2="29.4" y2="349.83" stroke="#333" stroke-width="0.8"/>
<line x1="28.1" y1="345.86" x2="29.4" y2="345.86" stroke="#333" stroke-width="0.8"/>
<line x1="28.1" y1="343.05" x2="29.4" y2="343.05" stroke="#333" stroke-width="0.8"/>
<line x1="28.1" y1="340.88" x2="29.4" y2="340.88" stroke="#333" stroke-width="0.8"/>
<line x1="28.1" y1="339.09" x2="29.4" y2="339.09" stroke="#333" stroke-width="0.8"/>
<line x1="28.1" y1="337.59" x2="29.4" y2="337.59" stroke="#333" stroke-width="0.8"/>
<line x1="28.1" y1="336.28" x2="29.4" y2="336.28" stroke="#333" stroke-width="0.8"/>
<line x1="28.1" y1="335.13" x2="29.4" y2="335.13" stroke="#333" stroke-width="0.8"/>
<line x1="28.1" y1="373.31" x2="29.4" y2="373.31" stroke="#333" stroke-width="0.8"/>
<line x1="28.1" y1="384.81" x2="29.4" y2="384.81" stroke="#333" stroke-width="0.8"/>
<line x1="28.1" y1="368.85" x2="29.4" y2="368.85" stroke="#333" stroke-width="0.8"/>
<line x1="28.1" y1="389.55" x2="29.4" y2="389.55" stroke="#333" stroke-width="0.8"/>
<line x1="28.1" y1="365.07" x2="29.4" y2="365.07" stroke="#333" stroke-width="0.8"/>
<line x1="28.1" y1="393.58" x2="29.4" y2="393.58" stroke="#333" stroke-width="0.8"/>
<line x1="28.1" y1="361.94" x2="29.4" y2="361.94" stroke="#333" stroke-width="0.8"/>
<line x1="28.1" y1="396.89" x2="29.4" y2="396.89" stroke="#333" stroke-width="0.8"/>
<line x1="28.1" y1="359.27" x2="29.4" y2="359.27" stroke="#333" stroke-width="0.8"/>
<line x1="28.1" y1="399.74" x2="29.4" y2="399.74" stroke="#333" stroke-width="0.8"/>
<line x1="27.2" y1="334.1" x2="29.4" y2="334.1" stroke="#333" stroke-width="0.9"/>
<line x1="27.2" y1="356.6" x2="29.4" y2="356.6" stroke="#333" stroke-width="0.9"/>
<line x1="27.2" y1="378.89" x2="29.4" y2="378.89" stroke="#333" stroke-width="0.9"/>
<line x1="27.2" y1="402.58" x2="29.4" y2="402.58" stroke="#333" stroke-width="0.9"/>
<line x1="77.42" y1="407.4" x2="77.42" y2="408.7" stroke="#333" stroke-width="0.8"/>
<line x1="96.42" y1="407.4" x2="96.42" y2="408.7" stroke="#333" stroke-width="0.8"/>
<line x1="80.77" y1="407.4" x2="80.77" y2="408.7" stroke="#333" stroke-width="0.8"/>
<line x1="99.77" y1="407.4" x2="99.77" y2="408.7" stroke="#333" stroke-width="0.8"/>
<line x1="83.14" y1="407.4" x2="83.14" y2="408.7" stroke="#333" stroke-width="0.8"/>
<line x1="102.14" y1="407.4" x2="102.14" y2="408.7" stroke="#333" stroke-width="0.8"/>
<line x1="84.98" y1="407.4" x2="84.98" y2="408.7" stroke="#333" stroke-width="0.8"/>
<line x1="86.48" y1="407.4" x2="86.48" y2="408.7" stroke="#333" stroke-width="0.8"/>
<line x1="87.76" y1="407.4" x2="87.76" y2="408.7" stroke="#333" stroke-width="0.8"/>
<line x1="88.86" y1="407.4" x2="88.86" y2="408.7" stroke="#333" stroke-width="0.8"/>
<line x1="89.83" y1="407.4" x2="89.83" y2="408.7" stroke="#333" stroke-width="0.8"/>
<line x1="57.3" y1="407.4" x2="57.3" y2="408.7" stroke="#333" stroke-width="0.8"/>
<line x1="47.7" y1="407.4" x2="47.7" y2="408.7" stroke="#333" stroke-width="0.8"/>
<line x1="61.14" y1="407.4" x2="61.14" y2="408.7" stroke="#333" stroke-width="0.8"/>
<line x1="43.86" y1="407.4" x2="43.86" y2="408.7" stroke="#333" stroke-width="0.8"/>
<line x1="64.4" y1="407.4" x2="64.4" y2="408.7" stroke="#333" stroke-width="0.8"/>
<line x1="40.6" y1="407.4" x2="40.6" y2="408.7" stroke="#333" stroke-width="0.8"/>
<line x1="67.09" y1="407.4" x2="67.09" y2="408.7" stroke="#333" stroke-width="0.8"/>
<line x1="37.91" y1="407.4" x2="37.91" y2="408.7" stroke="#333" stroke-width="0.8"/>
<line x1="69.4" y1="407.4" x2="69.4" y2="408.7" stroke="#333" stroke-width="0.8"/>
<line x1="35.6" y1="407.4" x2="35.6" y2="408.7" stroke="#333" stroke-width="0.8"/>
<line x1="33.3" y1="407.4" x2="33.3" y2="409.6" stroke="#333" stroke-width="0.9"/>
<line x1="52.5" y1="407.4" x2="52.5" y2="409.6" stroke="#333" stroke-width="0.9"/>
<line x1="71.7" y1="407.4" x2="71.7" y2="409.6" stroke="#333" stroke-width="0.9"/>
<line x1="90.7" y1="407.4" x2="90.7" y2="409.6" stroke="#333" stroke-width="0.9"/>
<rect x="27.4" y="376.69" width="2" height="3.5" fill="#111"/>
<rect x="49.5" y="407.4" width="5" height="1.8" fill="#111"/>
<rect x="29.4" y="332.9" width="73.2" height="74.5" fill="none" stroke="#222" stroke-width="1"/>
<text x="20.2" y="335.8" font-size="4.7" fill="#666" stroke="#666" stroke-width="0.1" textLength="4" lengthAdjust="spacingAndGlyphs">10</text>
<text x="24.3" y="333.9" font-size="2.91" fill="#666" stroke="#666" stroke-width="0.05" textLength="1.5" lengthAdjust="spacingAndGlyphs">5</text>
<text x="20.2" y="358.3" font-size="4.7" fill="#666" stroke="#666" stroke-width="0.1" textLength="4" lengthAdjust="spacingAndGlyphs">10</text>
<text x="24.3" y="356.4" font-size="2.91" fill="#666" stroke="#666" stroke-width="0.05" textLength="1.5" lengthAdjust="spacingAndGlyphs">4</text>
<text x="20.9" y="380.59" font-size="4.7" fill="#666" stroke="#666" stroke-width="0.1" textLength="2.6" lengthAdjust="spacingAndGlyphs">0</text>
<text x="17.8" y="404.28" font-size="4.7" fill="#666" stroke="#666" stroke-width="0.1" textLength="6.4" lengthAdjust="spacingAndGlyphs">–10</text>
<text x="24.3" y="402.38" font-size="2.91" fill="#666" stroke="#666" stroke-width="0.05" textLength="1.5" lengthAdjust="spacingAndGlyphs">4</text>
<text x="29.3" y="415.4" font-size="4.7" fill="#666" stroke="#666" stroke-width="0.1" textLength="6.4" lengthAdjust="spacingAndGlyphs">–10</text>
<text x="35.8" y="413.5" font-size="2.91" fill="#666" stroke="#666" stroke-width="0.05" textLength="1.5" lengthAdjust="spacingAndGlyphs">4</text>
<text x="51.2" y="415.4" font-size="4.7" fill="#666" stroke="#666" stroke-width="0.1" textLength="2.6" lengthAdjust="spacingAndGlyphs">0</text>
<text x="68.9" y="415.4" font-size="4.7" fill="#666" stroke="#666" stroke-width="0.1" textLength="4" lengthAdjust="spacingAndGlyphs">10</text>
<text x="73" y="413.5" font-size="2.91" fill="#666" stroke="#666" stroke-width="0.05" textLength="1.5" lengthAdjust="spacingAndGlyphs">4</text>
<text x="87.9" y="415.4" font-size="4.7" fill="#666" stroke="#666" stroke-width="0.1" textLength="4" lengthAdjust="spacingAndGlyphs">10</text>
<text x="92" y="413.5" font-size="2.91" fill="#666" stroke="#666" stroke-width="0.05" textLength="1.5" lengthAdjust="spacingAndGlyphs">5</text>
<rect x="76.1" y="361.3" width="21.3" height="16.1" fill="none" stroke="#999" stroke-width="1.15" rx="0.6"/>
<text x="64" y="374" font-size="6.9" fill="#333" stroke="#333" stroke-width="0.05" textLength="9.1" lengthAdjust="spacingAndGlyphs">0.2</text>
<text x="55" y="326.8" font-size="8.2" fill="#222" stroke="#222" stroke-width="0.15" textLength="27.4" lengthAdjust="spacingAndGlyphs">VIP-KO</text>
<path d="M83.65 379.85h0.8v0.8h-0.8zM91.41 378.71h0.8v0.8h-0.8zM88 378.74h0.8v0.8h-0.8zM93.22 381.2h0.8v0.8h-0.8zM94.3 380.5h0.8v0.8h-0.8zM90.27 380.71h0.8v0.8h-0.8zM85.5 381.15h0.8v0.8h-0.8zM83.32 380.65h0.8v0.8h-0.8zM91.53 381.06h0.8v0.8h-0.8zM86.88 383.19h0.8v0.8h-0.8zM88.84 380.41h0.8v0.8h-0.8zM89.27 380.48h0.8v0.8h-0.8zM86.98 380.65h0.8v0.8h-0.8zM89.34 381.67h0.8v0.8h-0.8zM85.98 383.47h0.8v0.8h-0.8zM82.47 380.63h0.8v0.8h-0.8zM91.4 383.28h0.8v0.8h-0.8zM91.38 380.48h0.8v0.8h-0.8zM86.97 381.46h0.8v0.8h-0.8zM89.54 381.29h0.8v0.8h-0.8zM86.79 382.29h0.8v0.8h-0.8zM94.92 381.03h0.8v0.8h-0.8zM86.7 381.73h0.8v0.8h-0.8zM90.61 379.96h0.8v0.8h-0.8zM86.67 382.05h0.8v0.8h-0.8zM88.2 380.67h0.8v0.8h-0.8zM89.49 380.97h0.8v0.8h-0.8zM88.59 379.07h0.8v0.8h-0.8zM95.95 381.2h0.8v0.8h-0.8zM84.92 381.98h0.8v0.8h-0.8zM89.9 381.02h0.8v0.8h-0.8zM93 383.26h0.8v0.8h-0.8zM90.93 382.59h0.8v0.8h-0.8zM86.4 381.78h0.8v0.8h-0.8zM81.43 380.73h0.8v0.8h-0.8zM94.03 382.04h0.8v0.8h-0.8zM91.03 379.1h0.8v0.8h-0.8zM91.82 381.49h0.8v0.8h-0.8zM81.39 379.57h0.8v0.8h-0.8zM83.49 382.92h0.8v0.8h-0.8zM85.11 380.76h0.8v0.8h-0.8zM87.53 381.57h0.8v0.8h-0.8zM90.7 381.27h0.8v0.8h-0.8zM89.3 381.27h0.8v0.8h-0.8zM93.77 380.9h0.8v0.8h-0.8zM86.03 381.41h0.8v0.8h-0.8zM82.07 379.96h0.8v0.8h-0.8zM84.37 381.29h0.8v0.8h-0.8zM93.4 381.24h0.8v0.8h-0.8zM89.77 380.55h0.8v0.8h-0.8zM83.55 379.71h0.8v0.8h-0.8zM92.12 381.66h0.8v0.8h-0.8zM93.4 382.56h0.8v0.8h-0.8zM87.32 382.06h0.8v0.8h-0.8zM93.16 380.83h0.8v0.8h-0.8zM81.83 381.12h0.8v0.8h-0.8zM85.15 381.11h0.8v0.8h-0.8zM86.65 381.32h0.8v0.8h-0.8zM79.62 383.08h0.8v0.8h-0.8zM94.31 380.65h0.8v0.8h-0.8zM84.78 381h0.8v0.8h-0.8zM91.44 381.42h0.8v0.8h-0.8zM90.29 379.03h0.8v0.8h-0.8zM83.85 382.34h0.8v0.8h-0.8zM89.61 379.48h0.8v0.8h-0.8zM84.95 379.55h0.8v0.8h-0.8zM84.31 382.18h0.8v0.8h-0.8zM87.67 382.13h0.8v0.8h-0.8zM89.4 379.48h0.8v0.8h-0.8zM85.84 383.32h0.8v0.8h-0.8zM85.34 379.93h0.8v0.8h-0.8zM93.87 381.09h0.8v0.8h-0.8zM88.57 382.49h0.8v0.8h-0.8zM81.07 381.43h0.8v0.8h-0.8zM84.09 379.57h0.8v0.8h-0.8zM85.12 382.17h0.8v0.8h-0.8zM88 379.13h0.8v0.8h-0.8zM83.85 382.56h0.8v0.8h-0.8zM92.99 379.89h0.8v0.8h-0.8zM83.48 380.86h0.8v0.8h-0.8zM92.62 382.65h0.8v0.8h-0.8zM93.02 380.56h0.8v0.8h-0.8zM86.19 379.51h0.8v0.8h-0.8zM88.28 380.39h0.8v0.8h-0.8zM89.65 379.71h0.8v0.8h-0.8zM86.38 380.1h0.8v0.8h-0.8zM83.43 379.79h0.8v0.8h-0.8zM84.22 379.79h0.8v0.8h-0.8zM91.04 381.1h0.8v0.8h-0.8zM82.93 381.52h0.8v0.8h-0.8zM89.84 382.49h0.8v0.8h-0.8zM87.76 380.79h0.8v0.8h-0.8zM85.64 381.13h0.8v0.8h-0.8zM90.72 381.18h0.8v0.8h-0.8zM87.51 381.58h0.8v0.8h-0.8zM88.99 381.25h0.8v0.8h-0.8zM84.59 381.21h0.8v0.8h-0.8zM84.32 380.14h0.8v0.8h-0.8zM89.29 383.15h0.8v0.8h-0.8zM92.88 381h0.8v0.8h-0.8zM87.83 382.01h0.8v0.8h-0.8zM94.54 382.25h0.8v0.8h-0.8zM87.8 381.19h0.8v0.8h-0.8zM87.18 380.71h0.8v0.8h-0.8zM84.93 380.74h0.8v0.8h-0.8zM90.43 380.05h0.8v0.8h-0.8zM90.92 379.68h0.8v0.8h-0.8zM87.01 381.4h0.8v0.8h-0.8zM84.14 380.27h0.8v0.8h-0.8zM85.57 380.41h0.8v0.8h-0.8zM88.74 380.97h0.8v0.8h-0.8zM92.83 381.81h0.8v0.8h-0.8zM86.87 380.64h0.8v0.8h-0.8zM82.52 379.47h0.8v0.8h-0.8zM85.43 381.75h0.8v0.8h-0.8zM89.12 381.82h0.8v0.8h-0.8zM92.64 380.83h0.8v0.8h-0.8zM85.91 380.56h0.8v0.8h-0.8zM93.48 380.86h0.8v0.8h-0.8zM85.42 381.44h0.8v0.8h-0.8zM93.46 380.89h0.8v0.8h-0.8zM87.52 382.11h0.8v0.8h-0.8zM92.82 381.97h0.8v0.8h-0.8zM85.32 381.29h0.8v0.8h-0.8zM90.16 379.16h0.8v0.8h-0.8zM93.76 381.1h0.8v0.8h-0.8zM87.14 383.31h0.8v0.8h-0.8zM89.23 380.26h0.8v0.8h-0.8zM88.33 381.58h0.8v0.8h-0.8zM92.09 380.94h0.8v0.8h-0.8zM84.89 380.29h0.8v0.8h-0.8zM85.09 379.93h0.8v0.8h-0.8zM88.51 380.5h0.8v0.8h-0.8zM88.83 380.16h0.8v0.8h-0.8zM84.88 380.81h0.8v0.8h-0.8zM87.1 382.18h0.8v0.8h-0.8zM84.72 381.21h0.8v0.8h-0.8zM88.42 379.66h0.8v0.8h-0.8zM91.72 381.17h0.8v0.8h-0.8zM79.6 381.61h0.8v0.8h-0.8zM92.62 380.19h0.8v0.8h-0.8zM95.86 381.16h0.8v0.8h-0.8zM83.66 381.57h0.8v0.8h-0.8zM87.06 379.63h0.8v0.8h-0.8zM79.41 381.25h0.8v0.8h-0.8zM85.45 381.66h0.8v0.8h-0.8zM90.26 380.47h0.8v0.8h-0.8zM86.33 382.8h0.8v0.8h-0.8zM95.91 381.77h0.8v0.8h-0.8zM87.07 380h0.8v0.8h-0.8zM86.94 382.7h0.8v0.8h-0.8zM90.57 380.7h0.8v0.8h-0.8zM83.35 381.17h0.8v0.8h-0.8zM84.84 381.01h0.8v0.8h-0.8zM91.78 382.09h0.8v0.8h-0.8zM89.2 380.65h0.8v0.8h-0.8zM89.57 382.84h0.8v0.8h-0.8zM90.21 379.57h0.8v0.8h-0.8zM95.24 381.26h0.8v0.8h-0.8zM88.2 380.7h0.8v0.8h-0.8zM90.22 380.41h0.8v0.8h-0.8zM82.29 379.04h0.8v0.8h-0.8zM88.07 380.48h0.8v0.8h-0.8zM86.12 383.16h0.8v0.8h-0.8zM92 382.11h0.8v0.8h-0.8zM86.47 381.31h0.8v0.8h-0.8zM87.7 380.79h0.8v0.8h-0.8zM91.79 381.61h0.8v0.8h-0.8zM89.9 381.15h0.8v0.8h-0.8zM82.44 380.25h0.8v0.8h-0.8zM90.23 380.63h0.8v0.8h-0.8zM85.28 381.36h0.8v0.8h-0.8zM84.66 380.32h0.8v0.8h-0.8zM92.37 380.64h0.8v0.8h-0.8zM94.7 381.53h0.8v0.8h-0.8zM92.05 382.15h0.8v0.8h-0.8zM83.09 380.53h0.8v0.8h-0.8zM88.16 382.26h0.8v0.8h-0.8zM88.42 382.67h0.8v0.8h-0.8zM86.36 380.94h0.8v0.8h-0.8zM89 381.96h0.8v0.8h-0.8zM88.38 380.37h0.8v0.8h-0.8zM87.2 379.58h0.8v0.8h-0.8zM93.96 381.76h0.8v0.8h-0.8zM90.42 381.28h0.8v0.8h-0.8zM86.02 380.59h0.8v0.8h-0.8zM92.04 380.2h0.8v0.8h-0.8zM85.27 382.6h0.8v0.8h-0.8zM95.23 381.3h0.8v0.8h-0.8zM90.87 381.19h0.8v0.8h-0.8zM94.66 380.55h0.8v0.8h-0.8zM88.95 381.49h0.8v0.8h-0.8zM94.72 380.75h0.8v0.8h-0.8zM89.59 380.5h0.8v0.8h-0.8zM85.82 380.34h0.8v0.8h-0.8zM88.96 381.9h0.8v0.8h-0.8zM85.66 380.39h0.8v0.8h-0.8zM86.89 381.36h0.8v0.8h-0.8zM91.56 379.74h0.8v0.8h-0.8zM90.1 380h0.8v0.8h-0.8zM91.62 380.03h0.8v0.8h-0.8zM84.02 380.28h0.8v0.8h-0.8zM88.34 380h0.8v0.8h-0.8zM89.49 381.15h0.8v0.8h-0.8zM88.95 381.27h0.8v0.8h-0.8zM92.29 380.27h0.8v0.8h-0.8zM88.61 380.97h0.8v0.8h-0.8zM79.93 381.39h0.8v0.8h-0.8zM85.35 380.28h0.8v0.8h-0.8zM86.72 381.1h0.8v0.8h-0.8zM89.99 381.49h0.8v0.8h-0.8zM85.68 381.7h0.8v0.8h-0.8zM90.36 380.61h0.8v0.8h-0.8zM88.51 381.81h0.8v0.8h-0.8zM90.42 381.7h0.8v0.8h-0.8zM89.05 382.14h0.8v0.8h-0.8zM81.87 382.73h0.8v0.8h-0.8zM86.2 379.62h0.8v0.8h-0.8zM93.21 382h0.8v0.8h-0.8zM86.99 382.45h0.8v0.8h-0.8zM88.27 380.41h0.8v0.8h-0.8zM88.89 381.21h0.8v0.8h-0.8zM88.81 381.4h0.8v0.8h-0.8zM86.21 381.65h0.8v0.8h-0.8zM85.24 381.16h0.8v0.8h-0.8zM87.86 379.42h0.8v0.8h-0.8zM90.21 381.63h0.8v0.8h-0.8zM83.91 378.9h0.8v0.8h-0.8zM85.89 380.16h0.8v0.8h-0.8zM89.07 380.98h0.8v0.8h-0.8zM95.37 381.65h0.8v0.8h-0.8zM87.52 381.16h0.8v0.8h-0.8zM84.73 380.89h0.8v0.8h-0.8zM89.94 381.21h0.8v0.8h-0.8zM92.53 380.31h0.8v0.8h-0.8zM89.88 380.87h0.8v0.8h-0.8zM88.66 381.32h0.8v0.8h-0.8zM87.42 381.21h0.8v0.8h-0.8zM88.45 382.02h0.8v0.8h-0.8zM88.13 381.3h0.8v0.8h-0.8zM90.75 382.08h0.8v0.8h-0.8zM84.37 381.71h0.8v0.8h-0.8zM91.75 381.44h0.8v0.8h-0.8zM92.69 381.78h0.8v0.8h-0.8zM93.59 380.36h0.8v0.8h-0.8zM90.41 380.46h0.8v0.8h-0.8zM93.8 381.14h0.8v0.8h-0.8zM83.15 381.11h0.8v0.8h-0.8zM84.4 381.98h0.8v0.8h-0.8zM87.18 378.82h0.8v0.8h-0.8zM86.98 382.02h0.8v0.8h-0.8zM89.98 380.37h0.8v0.8h-0.8zM91.31 381.57h0.8v0.8h-0.8zM94.76 381.9h0.8v0.8h-0.8zM90.14 380.21h0.8v0.8h-0.8zM89.79 381.3h0.8v0.8h-0.8zM88.66 381.42h0.8v0.8h-0.8zM83.64 381.57h0.8v0.8h-0.8zM88.64 381.36h0.8v0.8h-0.8zM88.2 380.7h0.8v0.8h-0.8zM89.67 381.78h0.8v0.8h-0.8zM87.26 381.32h0.8v0.8h-0.8zM85.4 381.42h0.8v0.8h-0.8zM88.68 379.73h0.8v0.8h-0.8zM93.46 380.11h0.8v0.8h-0.8zM88.94 379.69h0.8v0.8h-0.8zM81.37 381.65h0.8v0.8h-0.8zM82.75 378.94h0.8v0.8h-0.8zM87.7 379.46h0.8v0.8h-0.8zM87.75 382.82h0.8v0.8h-0.8zM86.96 381.36h0.8v0.8h-0.8zM90.94 381.25h0.8v0.8h-0.8zM88.1 382.5h0.8v0.8h-0.8zM88.26 381.35h0.8v0.8h-0.8zM89.06 379.73h0.8v0.8h-0.8zM89.93 381.06h0.8v0.8h-0.8zM91.3 381.69h0.8v0.8h-0.8zM95.13 379.12h0.8v0.8h-0.8zM86.28 380.53h0.8v0.8h-0.8zM85.01 381.41h0.8v0.8h-0.8zM88.28 381.14h0.8v0.8h-0.8zM81.81 380.05h0.8v0.8h-0.8zM88.33 380.56h0.8v0.8h-0.8zM86.07 380.88h0.8v0.8h-0.8zM87.45 379.95h0.8v0.8h-0.8zM95.52 380.33h0.8v0.8h-0.8zM91.3 381.59h0.8v0.8h-0.8zM92.62 380.43h0.8v0.8h-0.8zM84.45 381.43h0.8v0.8h-0.8zM89.68 378.67h0.8v0.8h-0.8zM86.98 380.73h0.8v0.8h-0.8zM90.32 380.04h0.8v0.8h-0.8zM93.99 381.27h0.8v0.8h-0.8zM79.98 381.23h0.8v0.8h-0.8zM86.31 381.44h0.8v0.8h-0.8zM88.12 381.66h0.8v0.8h-0.8zM84.95 380.64h0.8v0.8h-0.8zM88.62 380.26h0.8v0.8h-0.8zM86.71 381.61h0.8v0.8h-0.8zM92.02 379.88h0.8v0.8h-0.8zM86.7 381.32h0.8v0.8h-0.8zM90.99 379.99h0.8v0.8h-0.8zM91.09 381.14h0.8v0.8h-0.8zM94.04 381.92h0.8v0.8h-0.8zM90.87 380.61h0.8v0.8h-0.8zM89.68 380.15h0.8v0.8h-0.8zM85.17 379.18h0.8v0.8h-0.8zM83.21 379.75h0.8v0.8h-0.8zM88.17 381.1h0.8v0.8h-0.8zM83.03 380.9h0.8v0.8h-0.8zM90.26 381.91h0.8v0.8h-0.8zM88.2 381.21h0.8v0.8h-0.8zM87.03 381.91h0.8v0.8h-0.8zM82.13 381.23h0.8v0.8h-0.8zM92.41 378.92h0.8v0.8h-0.8zM86.4 379.61h0.8v0.8h-0.8zM81.28 380.59h0.8v0.8h-0.8zM84.93 382.02h0.8v0.8h-0.8zM86.41 379.9h0.8v0.8h-0.8zM88.24 381.39h0.8v0.8h-0.8zM91.96 381.49h0.8v0.8h-0.8zM82.39 380.18h0.8v0.8h-0.8zM87.8 380.17h0.8v0.8h-0.8zM91.64 380.66h0.8v0.8h-0.8zM88.26 380.62h0.8v0.8h-0.8zM88.73 379.51h0.8v0.8h-0.8zM85.54 379.24h0.8v0.8h-0.8zM88.19 379.63h0.8v0.8h-0.8zM89.9 382.17h0.8v0.8h-0.8zM91.07 380.55h0.8v0.8h-0.8zM93.8 380.8h0.8v0.8h-0.8zM88.35 381.05h0.8v0.8h-0.8zM86.57 381.4h0.8v0.8h-0.8zM83.45 379.24h0.8v0.8h-0.8zM93.49 380.26h0.8v0.8h-0.8zM87.07 381.31h0.8v0.8h-0.8zM86.6 379.82h0.8v0.8h-0.8zM87.72 380.06h0.8v0.8h-0.8zM90.8 380.55h0.8v0.8h-0.8zM87.47 381.74h0.8v0.8h-0.8zM82.15 379.52h0.8v0.8h-0.8zM91.55 382.23h0.8v0.8h-0.8zM88.91 380.29h0.8v0.8h-0.8zM93.61 381.5h0.8v0.8h-0.8zM92.77 379.2h0.8v0.8h-0.8zM88 379.97h0.8v0.8h-0.8zM84 381.55h0.8v0.8h-0.8zM91.54 380.52h0.8v0.8h-0.8zM87.5 382.34h0.8v0.8h-0.8zM91.24 380.87h0.8v0.8h-0.8zM90.64 381.09h0.8v0.8h-0.8zM83.32 380.48h0.8v0.8h-0.8zM89.7 381.59h0.8v0.8h-0.8zM83.58 380.19h0.8v0.8h-0.8zM86.11 379.5h0.8v0.8h-0.8zM93.08 381.43h0.8v0.8h-0.8zM93.95 378.84h0.8v0.8h-0.8zM85.19 382.77h0.8v0.8h-0.8zM82.72 379.19h0.8v0.8h-0.8zM89.45 382.53h0.8v0.8h-0.8zM91.18 380.04h0.8v0.8h-0.8zM90.82 381.39h0.8v0.8h-0.8zM89.63 381.37h0.8v0.8h-0.8zM91.96 382.13h0.8v0.8h-0.8zM94.19 382.03h0.8v0.8h-0.8zM87.93 379.17h0.8v0.8h-0.8zM90.8 379.51h0.8v0.8h-0.8zM80.91 379.17h0.8v0.8h-0.8zM90.16 381.28h0.8v0.8h-0.8zM91.22 381.27h0.8v0.8h-0.8zM85.32 381.79h0.8v0.8h-0.8zM85.67 379.51h0.8v0.8h-0.8zM92.29 381.51h0.8v0.8h-0.8zM84.68 380.74h0.8v0.8h-0.8zM92.79 381.91h0.8v0.8h-0.8zM84.11 382.08h0.8v0.8h-0.8zM90.13 380.87h0.8v0.8h-0.8zM89.01 379.4h0.8v0.8h-0.8zM88 381.48h0.8v0.8h-0.8zM84.71 381.12h0.8v0.8h-0.8zM87.85 378.77h0.8v0.8h-0.8zM86.03 381.56h0.8v0.8h-0.8zM82.11 381.01h0.8v0.8h-0.8zM89.93 379.73h0.8v0.8h-0.8zM87.52 381.87h0.8v0.8h-0.8zM91.54 380.01h0.8v0.8h-0.8zM92.77 381.33h0.8v0.8h-0.8zM89.07 382.48h0.8v0.8h-0.8zM91.59 381.35h0.8v0.8h-0.8zM92.54 381.65h0.8v0.8h-0.8zM93.82 380.88h0.8v0.8h-0.8zM81.2 382.53h0.8v0.8h-0.8zM91.9 381.51h0.8v0.8h-0.8zM88.76 380.91h0.8v0.8h-0.8zM89 380.06h0.8v0.8h-0.8zM91.78 381.08h0.8v0.8h-0.8zM84.62 381.25h0.8v0.8h-0.8zM87.22 380.97h0.8v0.8h-0.8zM84.16 381.4h0.8v0.8h-0.8zM91.52 381.41h0.8v0.8h-0.8zM94.75 380.57h0.8v0.8h-0.8zM87.22 380.98h0.8v0.8h-0.8zM82.9 382.08h0.8v0.8h-0.8zM83.43 381.54h0.8v0.8h-0.8zM93.54 380.17h0.8v0.8h-0.8zM87.85 380.8h0.8v0.8h-0.8zM95.72 381.26h0.8v0.8h-0.8zM81.29 382.06h0.8v0.8h-0.8zM92.87 379.02h0.8v0.8h-0.8zM88.95 378.89h0.8v0.8h-0.8zM92.97 382.4h0.8v0.8h-0.8zM91.53 380.97h0.8v0.8h-0.8zM85.66 381.38h0.8v0.8h-0.8zM85.21 381.15h0.8v0.8h-0.8zM87.52 380.56h0.8v0.8h-0.8zM90.86 381.97h0.8v0.8h-0.8zM92.28 381.44h0.8v0.8h-0.8zM95.59 379.75h0.8v0.8h-0.8zM88.87 381.18h0.8v0.8h-0.8zM93.65 378.76h0.8v0.8h-0.8zM86.75 380.68h0.8v0.8h-0.8zM89.4 383.24h0.8v0.8h-0.8zM89.58 380.9h0.8v0.8h-0.8zM90.37 381.97h0.8v0.8h-0.8zM87.86 382.67h0.8v0.8h-0.8zM83.54 382.24h0.8v0.8h-0.8zM91.53 381.99h0.8v0.8h-0.8zM95.05 380.76h0.8v0.8h-0.8zM90.32 381.26h0.8v0.8h-0.8zM86.07 380.24h0.8v0.8h-0.8zM85.35 381.84h0.8v0.8h-0.8zM88.91 382.29h0.8v0.8h-0.8zM88.17 382.25h0.8v0.8h-0.8zM88.34 380.47h0.8v0.8h-0.8zM82.08 381.18h0.8v0.8h-0.8zM95.8 381.09h0.8v0.8h-0.8zM84.26 381.58h0.8v0.8h-0.8zM82.87 379.86h0.8v0.8h-0.8zM93.25 381.41h0.8v0.8h-0.8zM92.63 381.24h0.8v0.8h-0.8zM88.11 381.17h0.8v0.8h-0.8zM87.24 382.04h0.8v0.8h-0.8zM83.22 379.12h0.8v0.8h-0.8zM85.06 381.89h0.8v0.8h-0.8zM86.33 378.71h0.8v0.8h-0.8zM87.79 381.57h0.8v0.8h-0.8zM90.13 380.83h0.8v0.8h-0.8zM82.1 381.52h0.8v0.8h-0.8zM84.5 380.82h0.8v0.8h-0.8zM91.75 380.61h0.8v0.8h-0.8zM81.11 380.4h0.8v0.8h-0.8zM91.13 381.71h0.8v0.8h-0.8zM83.18 381.05h0.8v0.8h-0.8zM89.82 382.06h0.8v0.8h-0.8zM90.28 381.16h0.8v0.8h-0.8zM87.32 381.47h0.8v0.8h-0.8zM91.82 380.84h0.8v0.8h-0.8zM87.42 382.73h0.8v0.8h-0.8zM88.42 380.22h0.8v0.8h-0.8zM91.41 379.77h0.8v0.8h-0.8zM84.08 381.91h0.8v0.8h-0.8zM88.69 381.78h0.8v0.8h-0.8zM91.82 380.25h0.8v0.8h-0.8zM90.69 380.62h0.8v0.8h-0.8zM89.49 381.25h0.8v0.8h-0.8zM88.25 379.72h0.8v0.8h-0.8zM89.85 381.02h0.8v0.8h-0.8zM90.8 379.96h0.8v0.8h-0.8zM89.43 380.79h0.8v0.8h-0.8zM86.82 380.74h0.8v0.8h-0.8zM87.56 379.65h0.8v0.8h-0.8zM86.33 380.54h0.8v0.8h-0.8zM90.53 380.85h0.8v0.8h-0.8zM94.47 381.59h0.8v0.8h-0.8zM89.9 381.2h0.8v0.8h-0.8zM82.71 381.36h0.8v0.8h-0.8zM93.83 380h0.8v0.8h-0.8zM94.07 381.61h0.8v0.8h-0.8zM89.78 380.58h0.8v0.8h-0.8zM88.69 380.23h0.8v0.8h-0.8zM90.45 381.34h0.8v0.8h-0.8zM90.67 380.34h0.8v0.8h-0.8zM93.06 380.78h0.8v0.8h-0.8zM91.59 381.76h0.8v0.8h-0.8zM89.93 383.23h0.8v0.8h-0.8zM90.83 381.63h0.8v0.8h-0.8zM89.82 381.56h0.8v0.8h-0.8zM87.02 381.81h0.8v0.8h-0.8zM89.49 380.9h0.8v0.8h-0.8zM92.59 382.01h0.8v0.8h-0.8zM89.33 380.5h0.8v0.8h-0.8zM84.97 380.52h0.8v0.8h-0.8zM91.85 381.8h0.8v0.8h-0.8zM87.03 381.34h0.8v0.8h-0.8zM93.39 380.7h0.8v0.8h-0.8zM88.97 380.59h0.8v0.8h-0.8zM91.64 379.81h0.8v0.8h-0.8zM90.14 381.67h0.8v0.8h-0.8zM90.35 382.05h0.8v0.8h-0.8zM92.19 380.9h0.8v0.8h-0.8zM87.75 380.47h0.8v0.8h-0.8zM91.84 381.19h0.8v0.8h-0.8zM90.82 380.58h0.8v0.8h-0.8zM93.66 381.98h0.8v0.8h-0.8zM92.57 380.42h0.8v0.8h-0.8zM87.53 382.06h0.8v0.8h-0.8zM90.15 380.69h0.8v0.8h-0.8zM88.4 381.69h0.8v0.8h-0.8zM91.34 381.47h0.8v0.8h-0.8zM89.9 380.5h0.8v0.8h-0.8zM91.19 381.09h0.8v0.8h-0.8zM89.94 381.78h0.8v0.8h-0.8zM95.14 380.81h0.8v0.8h-0.8zM93.15 380.72h0.8v0.8h-0.8zM92.8 381.81h0.8v0.8h-0.8zM90.6 381.48h0.8v0.8h-0.8zM88.37 381.04h0.8v0.8h-0.8zM93.11 381.9h0.8v0.8h-0.8zM89.23 381.38h0.8v0.8h-0.8zM90.66 380.91h0.8v0.8h-0.8zM89.36 381.22h0.8v0.8h-0.8zM93.99 381.22h0.8v0.8h-0.8zM88.44 381.54h0.8v0.8h-0.8zM83.36 380.62h0.8v0.8h-0.8zM88.77 381.54h0.8v0.8h-0.8zM84.26 381.14h0.8v0.8h-0.8zM87.58 382.07h0.8v0.8h-0.8zM92.67 380.95h0.8v0.8h-0.8zM91.78 380.39h0.8v0.8h-0.8zM91.09 381.5h0.8v0.8h-0.8zM93.41 380.96h0.8v0.8h-0.8zM84.64 381.92h0.8v0.8h-0.8zM87.55 380.88h0.8v0.8h-0.8zM89.52 382.59h0.8v0.8h-0.8zM90.38 382.2h0.8v0.8h-0.8zM90.7 380.21h0.8v0.8h-0.8zM91.75 381.7h0.8v0.8h-0.8zM88.97 380.08h0.8v0.8h-0.8zM91.63 381.66h0.8v0.8h-0.8zM93.07 381.76h0.8v0.8h-0.8zM86.46 380.22h0.8v0.8h-0.8zM92.75 382.36h0.8v0.8h-0.8zM93.41 381.95h0.8v0.8h-0.8zM90.47 382.05h0.8v0.8h-0.8zM94.73 381.71h0.8v0.8h-0.8zM93.92 382.25h0.8v0.8h-0.8zM88.56 382.22h0.8v0.8h-0.8zM88.42 380.59h0.8v0.8h-0.8zM94.91 380.02h0.8v0.8h-0.8zM89.99 382.01h0.8v0.8h-0.8zM91.57 381h0.8v0.8h-0.8zM87.96 381.7h0.8v0.8h-0.8zM91.95 381.24h0.8v0.8h-0.8zM87.85 380.19h0.8v0.8h-0.8zM90.48 381.26h0.8v0.8h-0.8zM92.77 381.06h0.8v0.8h-0.8zM92.99 380.36h0.8v0.8h-0.8zM85.81 382.03h0.8v0.8h-0.8zM89.35 380.65h0.8v0.8h-0.8zM90.12 380.36h0.8v0.8h-0.8zM89.58 380.23h0.8v0.8h-0.8zM90.97 380.85h0.8v0.8h-0.8zM90.36 381.3h0.8v0.8h-0.8zM91.72 379.97h0.8v0.8h-0.8zM90.93 381.1h0.8v0.8h-0.8zM87.38 381.1h0.8v0.8h-0.8zM91.88 381.67h0.8v0.8h-0.8zM95.91 381.05h0.8v0.8h-0.8zM90.89 382.8h0.8v0.8h-0.8zM88.89 380.66h0.8v0.8h-0.8zM89.26 380.84h0.8v0.8h-0.8zM90.44 381.41h0.8v0.8h-0.8zM88.45 380.42h0.8v0.8h-0.8zM90.36 380.35h0.8v0.8h-0.8zM88.3 381.57h0.8v0.8h-0.8zM90.25 380.53h0.8v0.8h-0.8zM86.63 380.53h0.8v0.8h-0.8zM86.49 381.72h0.8v0.8h-0.8zM92.51 381.53h0.8v0.8h-0.8zM91.35 380.92h0.8v0.8h-0.8zM90.95 381.35h0.8v0.8h-0.8zM90.63 380.92h0.8v0.8h-0.8zM87.6 381.52h0.8v0.8h-0.8zM91.54 380.44h0.8v0.8h-0.8zM89.88 381.28h0.8v0.8h-0.8zM91.84 379.99h0.8v0.8h-0.8zM86.71 380.24h0.8v0.8h-0.8zM87.15 380.47h0.8v0.8h-0.8zM92.8 380.41h0.8v0.8h-0.8zM92.37 381.26h0.8v0.8h-0.8zM92.84 381.59h0.8v0.8h-0.8zM92.67 381.75h0.8v0.8h-0.8zM92.17 381.6h0.8v0.8h-0.8zM93.46 381.32h0.8v0.8h-0.8zM89.1 382.53h0.8v0.8h-0.8zM89.21 381.61h0.8v0.8h-0.8zM89.77 380.78h0.8v0.8h-0.8zM87.99 381.8h0.8v0.8h-0.8zM89.96 381.4h0.8v0.8h-0.8zM85.9 381.68h0.8v0.8h-0.8zM88.57 379.81h0.8v0.8h-0.8zM88.56 380.06h0.8v0.8h-0.8zM94.8 380h0.8v0.8h-0.8zM91.28 380.5h0.8v0.8h-0.8zM88.3 380.31h0.8v0.8h-0.8zM93.78 380.45h0.8v0.8h-0.8zM88.79 381.48h0.8v0.8h-0.8zM89.51 381.84h0.8v0.8h-0.8zM88.51 380.05h0.8v0.8h-0.8zM91.73 382.22h0.8v0.8h-0.8zM91.94 380.66h0.8v0.8h-0.8zM93.66 381.91h0.8v0.8h-0.8zM89.49 381.64h0.8v0.8h-0.8zM90.42 381.39h0.8v0.8h-0.8zM92.25 381.98h0.8v0.8h-0.8zM90.74 381.35h0.8v0.8h-0.8zM83.8 380.68h0.8v0.8h-0.8zM91.75 380.69h0.8v0.8h-0.8zM91.52 381.15h0.8v0.8h-0.8zM90.69 381.38h0.8v0.8h-0.8zM94.05 381.69h0.8v0.8h-0.8zM90.64 380.39h0.8v0.8h-0.8zM91.51 380.47h0.8v0.8h-0.8zM93.84 380.76h0.8v0.8h-0.8zM88.83 381.19h0.8v0.8h-0.8zM87.8 381.68h0.8v0.8h-0.8zM91.39 380.78h0.8v0.8h-0.8zM89.07 382.72h0.8v0.8h-0.8zM93.64 381.73h0.8v0.8h-0.8zM91.29 382.46h0.8v0.8h-0.8zM89.47 381.1h0.8v0.8h-0.8zM90.15 380.49h0.8v0.8h-0.8zM88.13 382.72h0.8v0.8h-0.8zM90.93 380.62h0.8v0.8h-0.8zM89.87 380.93h0.8v0.8h-0.8zM89.35 381.26h0.8v0.8h-0.8zM86.55 379.92h0.8v0.8h-0.8zM89.97 381.13h0.8v0.8h-0.8zM87.36 381.23h0.8v0.8h-0.8zM89 381.46h0.8v0.8h-0.8zM89.96 382.16h0.8v0.8h-0.8zM94.28 381.82h0.8v0.8h-0.8zM90.59 381.96h0.8v0.8h-0.8zM92.5 381.67h0.8v0.8h-0.8zM92.61 381.02h0.8v0.8h-0.8zM92.62 381.72h0.8v0.8h-0.8zM91.63 381.18h0.8v0.8h-0.8zM89.45 381.76h0.8v0.8h-0.8zM89.21 380.49h0.8v0.8h-0.8zM95.05 382.22h0.8v0.8h-0.8zM88.49 382.37h0.8v0.8h-0.8zM85.07 381.77h0.8v0.8h-0.8zM92.38 381.51h0.8v0.8h-0.8zM90.01 381.91h0.8v0.8h-0.8zM91.95 380.45h0.8v0.8h-0.8zM88.6 382.08h0.8v0.8h-0.8zM92.56 380.44h0.8v0.8h-0.8zM86.59 381.65h0.8v0.8h-0.8zM88.36 380.76h0.8v0.8h-0.8zM89.17 381.49h0.8v0.8h-0.8zM85.16 381.91h0.8v0.8h-0.8zM89.58 382.02h0.8v0.8h-0.8zM87.52 380.65h0.8v0.8h-0.8zM91.88 382.08h0.8v0.8h-0.8zM90.42 381.07h0.8v0.8h-0.8zM94.14 382.15h0.8v0.8h-0.8zM91.37 381.13h0.8v0.8h-0.8zM93.93 381.85h0.8v0.8h-0.8zM89.62 382.44h0.8v0.8h-0.8zM93.52 381.49h0.8v0.8h-0.8zM91.83 381.91h0.8v0.8h-0.8zM89.34 380.4h0.8v0.8h-0.8zM93.75 380.08h0.8v0.8h-0.8zM86.53 380.24h0.8v0.8h-0.8zM91.9 382.11h0.8v0.8h-0.8zM88.84 382.32h0.8v0.8h-0.8zM94.96 382.37h0.8v0.8h-0.8zM87.13 382.32h0.8v0.8h-0.8zM86.24 382.3h0.8v0.8h-0.8zM91.98 381.29h0.8v0.8h-0.8zM92.46 388.09h0.8v0.8h-0.8zM88.41 384.95h0.8v0.8h-0.8zM84.43 385.88h0.8v0.8h-0.8zM95.05 385.81h0.8v0.8h-0.8zM85.58 387.34h0.8v0.8h-0.8zM88.12 387.29h0.8v0.8h-0.8zM88.36 385h0.8v0.8h-0.8zM82.5 388.73h0.8v0.8h-0.8zM91.23 384.71h0.8v0.8h-0.8zM88.99 387.07h0.8v0.8h-0.8z" fill="#000" fill-opacity="0.95"/>
<line x1="115.1" y1="349.83" x2="116.4" y2="349.83" stroke="#333" stroke-width="0.8"/>
<line x1="115.1" y1="345.86" x2="116.4" y2="345.86" stroke="#333" stroke-width="0.8"/>
<line x1="115.1" y1="343.05" x2="116.4" y2="343.05" stroke="#333" stroke-width="0.8"/>
<line x1="115.1" y1="340.88" x2="116.4" y2="340.88" stroke="#333" stroke-width="0.8"/>
<line x1="115.1" y1="339.09" x2="116.4" y2="339.09" stroke="#333" stroke-width="0.8"/>
<line x1="115.1" y1="337.59" x2="116.4" y2="337.59" stroke="#333" stroke-width="0.8"/>
<line x1="115.1" y1="336.28" x2="116.4" y2="336.28" stroke="#333" stroke-width="0.8"/>
<line x1="115.1" y1="335.13" x2="116.4" y2="335.13" stroke="#333" stroke-width="0.8"/>
<line x1="115.1" y1="373.31" x2="116.4" y2="373.31" stroke="#333" stroke-width="0.8"/>
<line x1="115.1" y1="384.81" x2="116.4" y2="384.81" stroke="#333" stroke-width="0.8"/>
<line x1="115.1" y1="368.85" x2="116.4" y2="368.85" stroke="#333" stroke-width="0.8"/>
<line x1="115.1" y1="389.55" x2="116.4" y2="389.55" stroke="#333" stroke-width="0.8"/>
<line x1="115.1" y1="365.07" x2="116.4" y2="365.07" stroke="#333" stroke-width="0.8"/>
<line x1="115.1" y1="393.58" x2="116.4" y2="393.58" stroke="#333" stroke-width="0.8"/>
<line x1="115.1" y1="361.94" x2="116.4" y2="361.94" stroke="#333" stroke-width="0.8"/>
<line x1="115.1" y1="396.89" x2="116.4" y2="396.89" stroke="#333" stroke-width="0.8"/>
<line x1="115.1" y1="359.27" x2="116.4" y2="359.27" stroke="#333" stroke-width="0.8"/>
<line x1="115.1" y1="399.74" x2="116.4" y2="399.74" stroke="#333" stroke-width="0.8"/>
<line x1="114.2" y1="334.1" x2="116.4" y2="334.1" stroke="#333" stroke-width="0.9"/>
<line x1="114.2" y1="356.6" x2="116.4" y2="356.6" stroke="#333" stroke-width="0.9"/>
<line x1="114.2" y1="378.89" x2="116.4" y2="378.89" stroke="#333" stroke-width="0.9"/>
<line x1="114.2" y1="402.58" x2="116.4" y2="402.58" stroke="#333" stroke-width="0.9"/>
<line x1="164.09" y1="407.4" x2="164.09" y2="408.7" stroke="#333" stroke-width="0.8"/>
<line x1="182.96" y1="407.4" x2="182.96" y2="408.7" stroke="#333" stroke-width="0.8"/>
<line x1="167.41" y1="407.4" x2="167.41" y2="408.7" stroke="#333" stroke-width="0.8"/>
<line x1="186.28" y1="407.4" x2="186.28" y2="408.7" stroke="#333" stroke-width="0.8"/>
<line x1="169.77" y1="407.4" x2="169.77" y2="408.7" stroke="#333" stroke-width="0.8"/>
<line x1="188.64" y1="407.4" x2="188.64" y2="408.7" stroke="#333" stroke-width="0.8"/>
<line x1="171.6" y1="407.4" x2="171.6" y2="408.7" stroke="#333" stroke-width="0.8"/>
<line x1="173.09" y1="407.4" x2="173.09" y2="408.7" stroke="#333" stroke-width="0.8"/>
<line x1="174.36" y1="407.4" x2="174.36" y2="408.7" stroke="#333" stroke-width="0.8"/>
<line x1="175.45" y1="407.4" x2="175.45" y2="408.7" stroke="#333" stroke-width="0.8"/>
<line x1="176.42" y1="407.4" x2="176.42" y2="408.7" stroke="#333" stroke-width="0.8"/>
<line x1="144.11" y1="407.4" x2="144.11" y2="408.7" stroke="#333" stroke-width="0.8"/>
<line x1="134.57" y1="407.4" x2="134.57" y2="408.7" stroke="#333" stroke-width="0.8"/>
<line x1="147.92" y1="407.4" x2="147.92" y2="408.7" stroke="#333" stroke-width="0.8"/>
<line x1="130.76" y1="407.4" x2="130.76" y2="408.7" stroke="#333" stroke-width="0.8"/>
<line x1="151.16" y1="407.4" x2="151.16" y2="408.7" stroke="#333" stroke-width="0.8"/>
<line x1="127.52" y1="407.4" x2="127.52" y2="408.7" stroke="#333" stroke-width="0.8"/>
<line x1="153.83" y1="407.4" x2="153.83" y2="408.7" stroke="#333" stroke-width="0.8"/>
<line x1="124.85" y1="407.4" x2="124.85" y2="408.7" stroke="#333" stroke-width="0.8"/>
<line x1="156.12" y1="407.4" x2="156.12" y2="408.7" stroke="#333" stroke-width="0.8"/>
<line x1="122.56" y1="407.4" x2="122.56" y2="408.7" stroke="#333" stroke-width="0.8"/>
<line x1="120.27" y1="407.4" x2="120.27" y2="409.6" stroke="#333" stroke-width="0.9"/>
<line x1="139.34" y1="407.4" x2="139.34" y2="409.6" stroke="#333" stroke-width="0.9"/>
<line x1="158.41" y1="407.4" x2="158.41" y2="409.6" stroke="#333" stroke-width="0.9"/>
<line x1="177.28" y1="407.4" x2="177.28" y2="409.6" stroke="#333" stroke-width="0.9"/>
<rect x="114.4" y="376.69" width="2" height="3.5" fill="#111"/>
<rect x="136.34" y="407.4" width="5" height="1.8" fill="#111"/>
<rect x="116.4" y="332.9" width="72.7" height="74.5" fill="none" stroke="#222" stroke-width="1"/>
<text x="107.2" y="335.8" font-size="4.7" fill="#666" stroke="#666" stroke-width="0.1" textLength="4" lengthAdjust="spacingAndGlyphs">10</text>
<text x="111.3" y="333.9" font-size="2.91" fill="#666" stroke="#666" stroke-width="0.05" textLength="1.5" lengthAdjust="spacingAndGlyphs">5</text>
<text x="107.2" y="358.3" font-size="4.7" fill="#666" stroke="#666" stroke-width="0.1" textLength="4" lengthAdjust="spacingAndGlyphs">10</text>
<text x="111.3" y="356.4" font-size="2.91" fill="#666" stroke="#666" stroke-width="0.05" textLength="1.5" lengthAdjust="spacingAndGlyphs">4</text>
<text x="107.9" y="380.59" font-size="4.7" fill="#666" stroke="#666" stroke-width="0.1" textLength="2.6" lengthAdjust="spacingAndGlyphs">0</text>
<text x="104.8" y="404.28" font-size="4.7" fill="#666" stroke="#666" stroke-width="0.1" textLength="6.4" lengthAdjust="spacingAndGlyphs">–10</text>
<text x="111.3" y="402.38" font-size="2.91" fill="#666" stroke="#666" stroke-width="0.05" textLength="1.5" lengthAdjust="spacingAndGlyphs">4</text>
<text x="116.27" y="415.4" font-size="4.7" fill="#666" stroke="#666" stroke-width="0.1" textLength="6.4" lengthAdjust="spacingAndGlyphs">–10</text>
<text x="122.77" y="413.5" font-size="2.91" fill="#666" stroke="#666" stroke-width="0.05" textLength="1.5" lengthAdjust="spacingAndGlyphs">4</text>
<text x="138.04" y="415.4" font-size="4.7" fill="#666" stroke="#666" stroke-width="0.1" textLength="2.6" lengthAdjust="spacingAndGlyphs">0</text>
<text x="155.61" y="415.4" font-size="4.7" fill="#666" stroke="#666" stroke-width="0.1" textLength="4" lengthAdjust="spacingAndGlyphs">10</text>
<text x="159.71" y="413.5" font-size="2.91" fill="#666" stroke="#666" stroke-width="0.05" textLength="1.5" lengthAdjust="spacingAndGlyphs">4</text>
<text x="174.48" y="415.4" font-size="4.7" fill="#666" stroke="#666" stroke-width="0.1" textLength="4" lengthAdjust="spacingAndGlyphs">10</text>
<text x="178.58" y="413.5" font-size="2.91" fill="#666" stroke="#666" stroke-width="0.05" textLength="1.5" lengthAdjust="spacingAndGlyphs">5</text>
<rect x="163.2" y="361.3" width="21.5" height="16.1" fill="none" stroke="#999" stroke-width="1.15" rx="0.6"/>
<text x="151.4" y="374" font-size="6.9" fill="#333" stroke="#333" stroke-width="0.05" textLength="8.4" lengthAdjust="spacingAndGlyphs">1.8</text>
<text x="148" y="326.8" font-size="8.2" fill="#222" stroke="#222" stroke-width="0.15" textLength="13.2" lengthAdjust="spacingAndGlyphs">WT</text>
<path d="M179.28 382.43h0.8v0.8h-0.8zM173.73 379.07h0.8v0.8h-0.8zM165.01 381.48h0.8v0.8h-0.8zM173.46 382.06h0.8v0.8h-0.8zM171.72 382.12h0.8v0.8h-0.8zM169.91 382.31h0.8v0.8h-0.8zM178.14 379.98h0.8v0.8h-0.8zM174.69 381.59h0.8v0.8h-0.8zM168.47 380.82h0.8v0.8h-0.8zM179.49 379.09h0.8v0.8h-0.8zM179.46 381.61h0.8v0.8h-0.8zM180.2 379.51h0.8v0.8h-0.8zM166.68 382.3h0.8v0.8h-0.8zM179.49 380.17h0.8v0.8h-0.8zM166.69 378.68h0.8v0.8h-0.8zM176.43 379.25h0.8v0.8h-0.8zM182.12 381.03h0.8v0.8h-0.8zM168.62 381.43h0.8v0.8h-0.8zM171.49 383.1h0.8v0.8h-0.8zM181.37 380.59h0.8v0.8h-0.8zM176.6 381.69h0.8v0.8h-0.8zM179.5 383.36h0.8v0.8h-0.8zM165.5 374.5h0.8v0.8h-0.8z" fill="#000" fill-opacity="0.9"/>
<line x1="202.4" y1="349.83" x2="203.7" y2="349.83" stroke="#333" stroke-width="0.8"/>
<line x1="202.4" y1="345.86" x2="203.7" y2="345.86" stroke="#333" stroke-width="0.8"/>
<line x1="202.4" y1="343.05" x2="203.7" y2="343.05" stroke="#333" stroke-width="0.8"/>
<line x1="202.4" y1="340.88" x2="203.7" y2="340.88" stroke="#333" stroke-width="0.8"/>
<line x1="202.4" y1="339.09" x2="203.7" y2="339.09" stroke="#333" stroke-width="0.8"/>
<line x1="202.4" y1="337.59" x2="203.7" y2="337.59" stroke="#333" stroke-width="0.8"/>
<line x1="202.4" y1="336.28" x2="203.7" y2="336.28" stroke="#333" stroke-width="0.8"/>
<line x1="202.4" y1="335.13" x2="203.7" y2="335.13" stroke="#333" stroke-width="0.8"/>
<line x1="202.4" y1="373.31" x2="203.7" y2="373.31" stroke="#333" stroke-width="0.8"/>
<line x1="202.4" y1="384.81" x2="203.7" y2="384.81" stroke="#333" stroke-width="0.8"/>
<line x1="202.4" y1="368.85" x2="203.7" y2="368.85" stroke="#333" stroke-width="0.8"/>
<line x1="202.4" y1="389.55" x2="203.7" y2="389.55" stroke="#333" stroke-width="0.8"/>
<line x1="202.4" y1="365.07" x2="203.7" y2="365.07" stroke="#333" stroke-width="0.8"/>
<line x1="202.4" y1="393.58" x2="203.7" y2="393.58" stroke="#333" stroke-width="0.8"/>
<line x1="202.4" y1="361.94" x2="203.7" y2="361.94" stroke="#333" stroke-width="0.8"/>
<line x1="202.4" y1="396.89" x2="203.7" y2="396.89" stroke="#333" stroke-width="0.8"/>
<line x1="202.4" y1="359.27" x2="203.7" y2="359.27" stroke="#333" stroke-width="0.8"/>
<line x1="202.4" y1="399.74" x2="203.7" y2="399.74" stroke="#333" stroke-width="0.8"/>
<line x1="201.5" y1="334.1" x2="203.7" y2="334.1" stroke="#333" stroke-width="0.9"/>
<line x1="201.5" y1="356.6" x2="203.7" y2="356.6" stroke="#333" stroke-width="0.9"/>
<line x1="201.5" y1="378.89" x2="203.7" y2="378.89" stroke="#333" stroke-width="0.9"/>
<line x1="201.5" y1="402.58" x2="203.7" y2="402.58" stroke="#333" stroke-width="0.9"/>
<line x1="251.65" y1="407.4" x2="251.65" y2="408.7" stroke="#333" stroke-width="0.8"/>
<line x1="270.63" y1="407.4" x2="270.63" y2="408.7" stroke="#333" stroke-width="0.8"/>
<line x1="255" y1="407.4" x2="255" y2="408.7" stroke="#333" stroke-width="0.8"/>
<line x1="273.97" y1="407.4" x2="273.97" y2="408.7" stroke="#333" stroke-width="0.8"/>
<line x1="257.37" y1="407.4" x2="257.37" y2="408.7" stroke="#333" stroke-width="0.8"/>
<line x1="276.34" y1="407.4" x2="276.34" y2="408.7" stroke="#333" stroke-width="0.8"/>
<line x1="259.2" y1="407.4" x2="259.2" y2="408.7" stroke="#333" stroke-width="0.8"/>
<line x1="260.71" y1="407.4" x2="260.71" y2="408.7" stroke="#333" stroke-width="0.8"/>
<line x1="261.98" y1="407.4" x2="261.98" y2="408.7" stroke="#333" stroke-width="0.8"/>
<line x1="263.08" y1="407.4" x2="263.08" y2="408.7" stroke="#333" stroke-width="0.8"/>
<line x1="264.05" y1="407.4" x2="264.05" y2="408.7" stroke="#333" stroke-width="0.8"/>
<line x1="231.56" y1="407.4" x2="231.56" y2="408.7" stroke="#333" stroke-width="0.8"/>
<line x1="221.97" y1="407.4" x2="221.97" y2="408.7" stroke="#333" stroke-width="0.8"/>
<line x1="235.4" y1="407.4" x2="235.4" y2="408.7" stroke="#333" stroke-width="0.8"/>
<line x1="218.14" y1="407.4" x2="218.14" y2="408.7" stroke="#333" stroke-width="0.8"/>
<line x1="238.66" y1="407.4" x2="238.66" y2="408.7" stroke="#333" stroke-width="0.8"/>
<line x1="214.88" y1="407.4" x2="214.88" y2="408.7" stroke="#333" stroke-width="0.8"/>
<line x1="241.34" y1="407.4" x2="241.34" y2="408.7" stroke="#333" stroke-width="0.8"/>
<line x1="212.2" y1="407.4" x2="212.2" y2="408.7" stroke="#333" stroke-width="0.8"/>
<line x1="243.64" y1="407.4" x2="243.64" y2="408.7" stroke="#333" stroke-width="0.8"/>
<line x1="209.9" y1="407.4" x2="209.9" y2="408.7" stroke="#333" stroke-width="0.8"/>
<line x1="207.59" y1="407.4" x2="207.59" y2="409.6" stroke="#333" stroke-width="0.9"/>
<line x1="226.77" y1="407.4" x2="226.77" y2="409.6" stroke="#333" stroke-width="0.9"/>
<line x1="245.94" y1="407.4" x2="245.94" y2="409.6" stroke="#333" stroke-width="0.9"/>
<line x1="264.92" y1="407.4" x2="264.92" y2="409.6" stroke="#333" stroke-width="0.9"/>
<rect x="201.7" y="376.69" width="2" height="3.5" fill="#111"/>
<rect x="223.77" y="407.4" width="5" height="1.8" fill="#111"/>
<rect x="203.7" y="332.9" width="73.1" height="74.5" fill="none" stroke="#222" stroke-width="1"/>
<text x="194.5" y="335.8" font-size="4.7" fill="#666" stroke="#666" stroke-width="0.1" textLength="4" lengthAdjust="spacingAndGlyphs">10</text>
<text x="198.6" y="333.9" font-size="2.91" fill="#666" stroke="#666" stroke-width="0.05" textLength="1.5" lengthAdjust="spacingAndGlyphs">5</text>
<text x="194.5" y="358.3" font-size="4.7" fill="#666" stroke="#666" stroke-width="0.1" textLength="4" lengthAdjust="spacingAndGlyphs">10</text>
<text x="198.6" y="356.4" font-size="2.91" fill="#666" stroke="#666" stroke-width="0.05" textLength="1.5" lengthAdjust="spacingAndGlyphs">4</text>
<text x="195.2" y="380.59" font-size="4.7" fill="#666" stroke="#666" stroke-width="0.1" textLength="2.6" lengthAdjust="spacingAndGlyphs">0</text>
<text x="192.1" y="404.28" font-size="4.7" fill="#666" stroke="#666" stroke-width="0.1" textLength="6.4" lengthAdjust="spacingAndGlyphs">–10</text>
<text x="198.6" y="402.38" font-size="2.91" fill="#666" stroke="#666" stroke-width="0.05" textLength="1.5" lengthAdjust="spacingAndGlyphs">4</text>
<text x="203.59" y="415.4" font-size="4.7" fill="#666" stroke="#666" stroke-width="0.1" textLength="6.4" lengthAdjust="spacingAndGlyphs">–10</text>
<text x="210.09" y="413.5" font-size="2.91" fill="#666" stroke="#666" stroke-width="0.05" textLength="1.5" lengthAdjust="spacingAndGlyphs">4</text>
<text x="225.47" y="415.4" font-size="4.7" fill="#666" stroke="#666" stroke-width="0.1" textLength="2.6" lengthAdjust="spacingAndGlyphs">0</text>
<text x="243.14" y="415.4" font-size="4.7" fill="#666" stroke="#666" stroke-width="0.1" textLength="4" lengthAdjust="spacingAndGlyphs">10</text>
<text x="247.24" y="413.5" font-size="2.91" fill="#666" stroke="#666" stroke-width="0.05" textLength="1.5" lengthAdjust="spacingAndGlyphs">4</text>
<text x="262.12" y="415.4" font-size="4.7" fill="#666" stroke="#666" stroke-width="0.1" textLength="4" lengthAdjust="spacingAndGlyphs">10</text>
<text x="266.22" y="413.5" font-size="2.91" fill="#666" stroke="#666" stroke-width="0.05" textLength="1.5" lengthAdjust="spacingAndGlyphs">5</text>
<rect x="250.5" y="361.6" width="21" height="16.4" fill="none" stroke="#999" stroke-width="1.15" rx="0.6"/>
<text x="238" y="374" font-size="6.9" fill="#333" stroke="#333" stroke-width="0.05" textLength="9.1" lengthAdjust="spacingAndGlyphs">3.0</text>
<text x="231.1" y="326.8" font-size="8.2" fill="#222" stroke="#222" stroke-width="0.15" textLength="27.4" lengthAdjust="spacingAndGlyphs">VIP-KO</text>
<path d="M259.18 378.83h0.8v0.8h-0.8zM264.41 378.4h0.8v0.8h-0.8zM262.57 380.01h0.8v0.8h-0.8zM254.93 380.79h0.8v0.8h-0.8zM254.6 380.39h0.8v0.8h-0.8zM255.12 378.5h0.8v0.8h-0.8zM260.79 382.55h0.8v0.8h-0.8zM255.98 379.23h0.8v0.8h-0.8zM264.04 383.21h0.8v0.8h-0.8zM263.23 380.18h0.8v0.8h-0.8zM269.62 378.26h0.8v0.8h-0.8zM267.74 379.59h0.8v0.8h-0.8zM256.31 378.65h0.8v0.8h-0.8zM258.94 382.49h0.8v0.8h-0.8zM256.89 381.2h0.8v0.8h-0.8zM264.22 380.05h0.8v0.8h-0.8zM262.76 378.35h0.8v0.8h-0.8zM254.95 379.13h0.8v0.8h-0.8zM264.89 380.35h0.8v0.8h-0.8zM259.03 381.22h0.8v0.8h-0.8zM263.5 401.2h0.8v0.8h-0.8zM254.5 376.5h0.8v0.8h-0.8z" fill="#000" fill-opacity="0.9"/>
<line x1="289.2" y1="349.83" x2="290.5" y2="349.83" stroke="#333" stroke-width="0.8"/>
<line x1="289.2" y1="345.86" x2="290.5" y2="345.86" stroke="#333" stroke-width="0.8"/>
<line x1="289.2" y1="343.05" x2="290.5" y2="343.05" stroke="#333" stroke-width="0.8"/>
<line x1="289.2" y1="340.88" x2="290.5" y2="340.88" stroke="#333" stroke-width="0.8"/>
<line x1="289.2" y1="339.09" x2="290.5" y2="339.09" stroke="#333" stroke-width="0.8"/>
<line x1="289.2" y1="337.59" x2="290.5" y2="337.59" stroke="#333" stroke-width="0.8"/>
<line x1="289.2" y1="336.28" x2="290.5" y2="336.28" stroke="#333" stroke-width="0.8"/>
<line x1="289.2" y1="335.13" x2="290.5" y2="335.13" stroke="#333" stroke-width="0.8"/>
<line x1="289.2" y1="373.31" x2="290.5" y2="373.31" stroke="#333" stroke-width="0.8"/>
<line x1="289.2" y1="384.81" x2="290.5" y2="384.81" stroke="#333" stroke-width="0.8"/>
<line x1="289.2" y1="368.85" x2="290.5" y2="368.85" stroke="#333" stroke-width="0.8"/>
<line x1="289.2" y1="389.55" x2="290.5" y2="389.55" stroke="#333" stroke-width="0.8"/>
<line x1="289.2" y1="365.07" x2="290.5" y2="365.07" stroke="#333" stroke-width="0.8"/>
<line x1="289.2" y1="393.58" x2="290.5" y2="393.58" stroke="#333" stroke-width="0.8"/>
<line x1="289.2" y1="361.94" x2="290.5" y2="361.94" stroke="#333" stroke-width="0.8"/>
<line x1="289.2" y1="396.89" x2="290.5" y2="396.89" stroke="#333" stroke-width="0.8"/>
<line x1="289.2" y1="359.27" x2="290.5" y2="359.27" stroke="#333" stroke-width="0.8"/>
<line x1="289.2" y1="399.74" x2="290.5" y2="399.74" stroke="#333" stroke-width="0.8"/>
<line x1="288.3" y1="334.1" x2="290.5" y2="334.1" stroke="#333" stroke-width="0.9"/>
<line x1="288.3" y1="356.6" x2="290.5" y2="356.6" stroke="#333" stroke-width="0.9"/>
<line x1="288.3" y1="378.89" x2="290.5" y2="378.89" stroke="#333" stroke-width="0.9"/>
<line x1="288.3" y1="402.58" x2="290.5" y2="402.58" stroke="#333" stroke-width="0.9"/>
<line x1="338.45" y1="407.4" x2="338.45" y2="408.7" stroke="#333" stroke-width="0.8"/>
<line x1="357.43" y1="407.4" x2="357.43" y2="408.7" stroke="#333" stroke-width="0.8"/>
<line x1="341.8" y1="407.4" x2="341.8" y2="408.7" stroke="#333" stroke-width="0.8"/>
<line x1="360.77" y1="407.4" x2="360.77" y2="408.7" stroke="#333" stroke-width="0.8"/>
<line x1="344.17" y1="407.4" x2="344.17" y2="408.7" stroke="#333" stroke-width="0.8"/>
<line x1="363.14" y1="407.4" x2="363.14" y2="408.7" stroke="#333" stroke-width="0.8"/>
<line x1="346" y1="407.4" x2="346" y2="408.7" stroke="#333" stroke-width="0.8"/>
<line x1="347.51" y1="407.4" x2="347.51" y2="408.7" stroke="#333" stroke-width="0.8"/>
<line x1="348.78" y1="407.4" x2="348.78" y2="408.7" stroke="#333" stroke-width="0.8"/>
<line x1="349.88" y1="407.4" x2="349.88" y2="408.7" stroke="#333" stroke-width="0.8"/>
<line x1="350.85" y1="407.4" x2="350.85" y2="408.7" stroke="#333" stroke-width="0.8"/>
<line x1="318.36" y1="407.4" x2="318.36" y2="408.7" stroke="#333" stroke-width="0.8"/>
<line x1="308.78" y1="407.4" x2="308.78" y2="408.7" stroke="#333" stroke-width="0.8"/>
<line x1="322.2" y1="407.4" x2="322.2" y2="408.7" stroke="#333" stroke-width="0.8"/>
<line x1="304.94" y1="407.4" x2="304.94" y2="408.7" stroke="#333" stroke-width="0.8"/>
<line x1="325.46" y1="407.4" x2="325.46" y2="408.7" stroke="#333" stroke-width="0.8"/>
<line x1="301.68" y1="407.4" x2="301.68" y2="408.7" stroke="#333" stroke-width="0.8"/>
<line x1="328.14" y1="407.4" x2="328.14" y2="408.7" stroke="#333" stroke-width="0.8"/>
<line x1="299" y1="407.4" x2="299" y2="408.7" stroke="#333" stroke-width="0.8"/>
<line x1="330.44" y1="407.4" x2="330.44" y2="408.7" stroke="#333" stroke-width="0.8"/>
<line x1="296.7" y1="407.4" x2="296.7" y2="408.7" stroke="#333" stroke-width="0.8"/>
<line x1="294.39" y1="407.4" x2="294.39" y2="409.6" stroke="#333" stroke-width="0.9"/>
<line x1="313.57" y1="407.4" x2="313.57" y2="409.6" stroke="#333" stroke-width="0.9"/>
<line x1="332.74" y1="407.4" x2="332.74" y2="409.6" stroke="#333" stroke-width="0.9"/>
<line x1="351.72" y1="407.4" x2="351.72" y2="409.6" stroke="#333" stroke-width="0.9"/>
<rect x="288.5" y="376.69" width="2" height="3.5" fill="#111"/>
<rect x="310.57" y="407.4" width="5" height="1.8" fill="#111"/>
<rect x="290.5" y="332.9" width="73.1" height="74.5" fill="none" stroke="#222" stroke-width="1"/>
<text x="281.3" y="335.8" font-size="4.7" fill="#666" stroke="#666" stroke-width="0.1" textLength="4" lengthAdjust="spacingAndGlyphs">10</text>
<text x="285.4" y="333.9" font-size="2.91" fill="#666" stroke="#666" stroke-width="0.05" textLength="1.5" lengthAdjust="spacingAndGlyphs">5</text>
<text x="281.3" y="358.3" font-size="4.7" fill="#666" stroke="#666" stroke-width="0.1" textLength="4" lengthAdjust="spacingAndGlyphs">10</text>
<text x="285.4" y="356.4" font-size="2.91" fill="#666" stroke="#666" stroke-width="0.05" textLength="1.5" lengthAdjust="spacingAndGlyphs">4</text>
<text x="282" y="380.59" font-size="4.7" fill="#666" stroke="#666" stroke-width="0.1" textLength="2.6" lengthAdjust="spacingAndGlyphs">0</text>
<text x="278.9" y="404.28" font-size="4.7" fill="#666" stroke="#666" stroke-width="0.1" textLength="6.4" lengthAdjust="spacingAndGlyphs">–10</text>
<text x="285.4" y="402.38" font-size="2.91" fill="#666" stroke="#666" stroke-width="0.05" textLength="1.5" lengthAdjust="spacingAndGlyphs">4</text>
<text x="290.39" y="415.4" font-size="4.7" fill="#666" stroke="#666" stroke-width="0.1" textLength="6.4" lengthAdjust="spacingAndGlyphs">–10</text>
<text x="296.89" y="413.5" font-size="2.91" fill="#666" stroke="#666" stroke-width="0.05" textLength="1.5" lengthAdjust="spacingAndGlyphs">4</text>
<text x="312.27" y="415.4" font-size="4.7" fill="#666" stroke="#666" stroke-width="0.1" textLength="2.6" lengthAdjust="spacingAndGlyphs">0</text>
<text x="329.94" y="415.4" font-size="4.7" fill="#666" stroke="#666" stroke-width="0.1" textLength="4" lengthAdjust="spacingAndGlyphs">10</text>
<text x="334.04" y="413.5" font-size="2.91" fill="#666" stroke="#666" stroke-width="0.05" textLength="1.5" lengthAdjust="spacingAndGlyphs">4</text>
<text x="348.92" y="415.4" font-size="4.7" fill="#666" stroke="#666" stroke-width="0.1" textLength="4" lengthAdjust="spacingAndGlyphs">10</text>
<text x="353.02" y="413.5" font-size="2.91" fill="#666" stroke="#666" stroke-width="0.05" textLength="1.5" lengthAdjust="spacingAndGlyphs">5</text>
<rect x="337.3" y="361.4" width="21" height="16.6" fill="none" stroke="#999" stroke-width="1.15" rx="0.6"/>
<text x="324.8" y="374" font-size="6.9" fill="#333" stroke="#333" stroke-width="0.05" textLength="9.1" lengthAdjust="spacingAndGlyphs">2.6</text>
<text x="320.7" y="326.8" font-size="8.2" fill="#222" stroke="#222" stroke-width="0.15" textLength="13.2" lengthAdjust="spacingAndGlyphs">WT</text>
<path d="M343.85 383.29h0.8v0.8h-0.8zM342.15 381.88h0.8v0.8h-0.8zM341.45 379.36h0.8v0.8h-0.8zM356.99 379.15h0.8v0.8h-0.8zM350.91 380.53h0.8v0.8h-0.8zM347.7 380.72h0.8v0.8h-0.8zM343.27 382.57h0.8v0.8h-0.8zM341.52 379.29h0.8v0.8h-0.8zM340.34 379.47h0.8v0.8h-0.8zM346.93 382.96h0.8v0.8h-0.8zM346.44 378.63h0.8v0.8h-0.8zM344.39 383.45h0.8v0.8h-0.8zM341.07 381.41h0.8v0.8h-0.8zM346.41 381.63h0.8v0.8h-0.8zM345.75 381.8h0.8v0.8h-0.8zM348.46 381.57h0.8v0.8h-0.8zM355.32 381.2h0.8v0.8h-0.8zM342.42 378.35h0.8v0.8h-0.8zM356.08 380.69h0.8v0.8h-0.8zM343.3 383.2h0.8v0.8h-0.8zM350.5 401.2h0.8v0.8h-0.8zM341 376h0.8v0.8h-0.8z" fill="#000" fill-opacity="0.9"/>
<path d="M15.8 463.6 V551.2 H363.6" fill="none" stroke="#444" stroke-width="1.1" stroke-linejoin="round"/>
<text transform="translate(12.6 516) rotate(-90)" font-size="8.4" fill="#333" stroke="#333" stroke-width="0.15" textLength="15" lengthAdjust="spacingAndGlyphs">CD86</text>
<text x="178.8" y="563.3" font-size="8.4" fill="#222" stroke="#222" stroke-width="0.15" textLength="21.4" lengthAdjust="spacingAndGlyphs">PDCA-1</text>
<line x1="28.1" y1="483.41" x2="29.4" y2="483.41" stroke="#333" stroke-width="0.8"/>
<line x1="28.1" y1="479.48" x2="29.4" y2="479.48" stroke="#333" stroke-width="0.8"/>
<line x1="28.1" y1="476.69" x2="29.4" y2="476.69" stroke="#333" stroke-width="0.8"/>
<line x1="28.1" y1="474.52" x2="29.4" y2="474.52" stroke="#333" stroke-width="0.8"/>
<line x1="28.1" y1="472.75" x2="29.4" y2="472.75" stroke="#333" stroke-width="0.8"/>
<line x1="28.1" y1="471.26" x2="29.4" y2="471.26" stroke="#333" stroke-width="0.8"/>
<line x1="28.1" y1="469.96" x2="29.4" y2="469.96" stroke="#333" stroke-width="0.8"/>
<line x1="28.1" y1="468.82" x2="29.4" y2="468.82" stroke="#333" stroke-width="0.8"/>
<line x1="28.1" y1="506.74" x2="29.4" y2="506.74" stroke="#333" stroke-width="0.8"/>
<line x1="28.1" y1="518.16" x2="29.4" y2="518.16" stroke="#333" stroke-width="0.8"/>
<line x1="28.1" y1="502.31" x2="29.4" y2="502.31" stroke="#333" stroke-width="0.8"/>
<line x1="28.1" y1="522.87" x2="29.4" y2="522.87" stroke="#333" stroke-width="0.8"/>
<line x1="28.1" y1="498.55" x2="29.4" y2="498.55" stroke="#333" stroke-width="0.8"/>
<line x1="28.1" y1="526.87" x2="29.4" y2="526.87" stroke="#333" stroke-width="0.8"/>
<line x1="28.1" y1="495.45" x2="29.4" y2="495.45" stroke="#333" stroke-width="0.8"/>
<line x1="28.1" y1="530.16" x2="29.4" y2="530.16" stroke="#333" stroke-width="0.8"/>
<line x1="28.1" y1="492.79" x2="29.4" y2="492.79" stroke="#333" stroke-width="0.8"/>
<line x1="28.1" y1="532.99" x2="29.4" y2="532.99" stroke="#333" stroke-width="0.8"/>
<line x1="27.2" y1="467.8" x2="29.4" y2="467.8" stroke="#333" stroke-width="0.9"/>
<line x1="27.2" y1="490.14" x2="29.4" y2="490.14" stroke="#333" stroke-width="0.9"/>
<line x1="27.2" y1="512.28" x2="29.4" y2="512.28" stroke="#333" stroke-width="0.9"/>
<line x1="27.2" y1="535.81" x2="29.4" y2="535.81" stroke="#333" stroke-width="0.9"/>
<line x1="77.42" y1="540.6" x2="77.42" y2="541.9" stroke="#333" stroke-width="0.8"/>
<line x1="96.42" y1="540.6" x2="96.42" y2="541.9" stroke="#333" stroke-width="0.8"/>
<line x1="80.77" y1="540.6" x2="80.77" y2="541.9" stroke="#333" stroke-width="0.8"/>
<line x1="99.77" y1="540.6" x2="99.77" y2="541.9" stroke="#333" stroke-width="0.8"/>
<line x1="83.14" y1="540.6" x2="83.14" y2="541.9" stroke="#333" stroke-width="0.8"/>
<line x1="102.14" y1="540.6" x2="102.14" y2="541.9" stroke="#333" stroke-width="0.8"/>
<line x1="84.98" y1="540.6" x2="84.98" y2="541.9" stroke="#333" stroke-width="0.8"/>
<line x1="86.48" y1="540.6" x2="86.48" y2="541.9" stroke="#333" stroke-width="0.8"/>
<line x1="87.76" y1="540.6" x2="87.76" y2="541.9" stroke="#333" stroke-width="0.8"/>
<line x1="88.86" y1="540.6" x2="88.86" y2="541.9" stroke="#333" stroke-width="0.8"/>
<line x1="89.83" y1="540.6" x2="89.83" y2="541.9" stroke="#333" stroke-width="0.8"/>
<line x1="57.3" y1="540.6" x2="57.3" y2="541.9" stroke="#333" stroke-width="0.8"/>
<line x1="47.7" y1="540.6" x2="47.7" y2="541.9" stroke="#333" stroke-width="0.8"/>
<line x1="61.14" y1="540.6" x2="61.14" y2="541.9" stroke="#333" stroke-width="0.8"/>
<line x1="43.86" y1="540.6" x2="43.86" y2="541.9" stroke="#333" stroke-width="0.8"/>
<line x1="64.4" y1="540.6" x2="64.4" y2="541.9" stroke="#333" stroke-width="0.8"/>
<line x1="40.6" y1="540.6" x2="40.6" y2="541.9" stroke="#333" stroke-width="0.8"/>
<line x1="67.09" y1="540.6" x2="67.09" y2="541.9" stroke="#333" stroke-width="0.8"/>
<line x1="37.91" y1="540.6" x2="37.91" y2="541.9" stroke="#333" stroke-width="0.8"/>
<line x1="69.4" y1="540.6" x2="69.4" y2="541.9" stroke="#333" stroke-width="0.8"/>
<line x1="35.6" y1="540.6" x2="35.6" y2="541.9" stroke="#333" stroke-width="0.8"/>
<line x1="33.3" y1="540.6" x2="33.3" y2="542.8" stroke="#333" stroke-width="0.9"/>
<line x1="52.5" y1="540.6" x2="52.5" y2="542.8" stroke="#333" stroke-width="0.9"/>
<line x1="71.7" y1="540.6" x2="71.7" y2="542.8" stroke="#333" stroke-width="0.9"/>
<line x1="90.7" y1="540.6" x2="90.7" y2="542.8" stroke="#333" stroke-width="0.9"/>
<rect x="27.4" y="510.08" width="2" height="3.5" fill="#111"/>
<rect x="49.5" y="540.6" width="5" height="1.8" fill="#111"/>
<rect x="29.4" y="466.6" width="73.2" height="74" fill="none" stroke="#222" stroke-width="1"/>
<text x="20.2" y="469.5" font-size="4.7" fill="#666" stroke="#666" stroke-width="0.1" textLength="4" lengthAdjust="spacingAndGlyphs">10</text>
<text x="24.3" y="467.6" font-size="2.91" fill="#666" stroke="#666" stroke-width="0.05" textLength="1.5" lengthAdjust="spacingAndGlyphs">5</text>
<text x="20.2" y="491.84" font-size="4.7" fill="#666" stroke="#666" stroke-width="0.1" textLength="4" lengthAdjust="spacingAndGlyphs">10</text>
<text x="24.3" y="489.94" font-size="2.91" fill="#666" stroke="#666" stroke-width="0.05" textLength="1.5" lengthAdjust="spacingAndGlyphs">4</text>
<text x="20.9" y="513.98" font-size="4.7" fill="#666" stroke="#666" stroke-width="0.1" textLength="2.6" lengthAdjust="spacingAndGlyphs">0</text>
<text x="17.8" y="537.51" font-size="4.7" fill="#666" stroke="#666" stroke-width="0.1" textLength="6.4" lengthAdjust="spacingAndGlyphs">–10</text>
<text x="24.3" y="535.61" font-size="2.91" fill="#666" stroke="#666" stroke-width="0.05" textLength="1.5" lengthAdjust="spacingAndGlyphs">4</text>
<text x="29.3" y="548.6" font-size="4.7" fill="#666" stroke="#666" stroke-width="0.1" textLength="6.4" lengthAdjust="spacingAndGlyphs">–10</text>
<text x="35.8" y="546.7" font-size="2.91" fill="#666" stroke="#666" stroke-width="0.05" textLength="1.5" lengthAdjust="spacingAndGlyphs">4</text>
<text x="51.2" y="548.6" font-size="4.7" fill="#666" stroke="#666" stroke-width="0.1" textLength="2.6" lengthAdjust="spacingAndGlyphs">0</text>
<text x="68.9" y="548.6" font-size="4.7" fill="#666" stroke="#666" stroke-width="0.1" textLength="4" lengthAdjust="spacingAndGlyphs">10</text>
<text x="73" y="546.7" font-size="2.91" fill="#666" stroke="#666" stroke-width="0.05" textLength="1.5" lengthAdjust="spacingAndGlyphs">4</text>
<text x="87.9" y="548.6" font-size="4.7" fill="#666" stroke="#666" stroke-width="0.1" textLength="4" lengthAdjust="spacingAndGlyphs">10</text>
<text x="92" y="546.7" font-size="2.91" fill="#666" stroke="#666" stroke-width="0.05" textLength="1.5" lengthAdjust="spacingAndGlyphs">5</text>
<rect x="75.2" y="492.4" width="22.5" height="12.7" fill="none" stroke="#999" stroke-width="1.15" rx="0.6"/>
<text x="62.8" y="501.8" font-size="5.4" fill="#333" stroke="#333" stroke-width="0.05" textLength="8.1" lengthAdjust="spacingAndGlyphs">6.0</text>
<text x="52" y="460.1" font-size="8.2" fill="#222" stroke="#222" stroke-width="0.15" textLength="28" lengthAdjust="spacingAndGlyphs">VIP-KO</text>
<path d="M86.1 507.77h0.8v0.8h-0.8zM93.7 510.52h0.8v0.8h-0.8zM93.32 507.4h0.8v0.8h-0.8zM90.42 506.79h0.8v0.8h-0.8zM84.86 506.33h0.8v0.8h-0.8zM92.51 507.82h0.8v0.8h-0.8zM88.23 505.09h0.8v0.8h-0.8zM88.99 506.09h0.8v0.8h-0.8zM89.42 508.32h0.8v0.8h-0.8zM81.59 507.11h0.8v0.8h-0.8zM84.36 505.35h0.8v0.8h-0.8zM85.11 509.62h0.8v0.8h-0.8zM91.56 508.34h0.8v0.8h-0.8zM86.79 504.3h0.8v0.8h-0.8zM88.02 507.72h0.8v0.8h-0.8zM89.06 508.73h0.8v0.8h-0.8zM88.09 511.05h0.8v0.8h-0.8zM91.51 511.46h0.8v0.8h-0.8zM90.13 506.82h0.8v0.8h-0.8zM86.44 508.99h0.8v0.8h-0.8zM92.84 507.62h0.8v0.8h-0.8zM90.68 506.73h0.8v0.8h-0.8zM87.88 506.69h0.8v0.8h-0.8zM82.94 505.18h0.8v0.8h-0.8zM89.43 507.56h0.8v0.8h-0.8zM92.97 508.61h0.8v0.8h-0.8zM90.72 507.4h0.8v0.8h-0.8zM81.64 507.4h0.8v0.8h-0.8zM86.3 508.32h0.8v0.8h-0.8zM88.33 506.59h0.8v0.8h-0.8zM87.46 506.68h0.8v0.8h-0.8zM82.66 503.95h0.8v0.8h-0.8zM93.38 508.19h0.8v0.8h-0.8zM87.78 506.56h0.8v0.8h-0.8zM91.03 507.29h0.8v0.8h-0.8zM86.99 502.34h0.8v0.8h-0.8zM89.69 510.18h0.8v0.8h-0.8zM92.43 507.84h0.8v0.8h-0.8zM87.22 504.81h0.8v0.8h-0.8zM89.52 506.42h0.8v0.8h-0.8zM85.41 510.74h0.8v0.8h-0.8zM86.08 506.14h0.8v0.8h-0.8zM81.18 510.84h0.8v0.8h-0.8zM88.72 507.12h0.8v0.8h-0.8zM90.23 505.51h0.8v0.8h-0.8zM87.15 507.89h0.8v0.8h-0.8zM86.47 507.94h0.8v0.8h-0.8zM93.36 508.87h0.8v0.8h-0.8zM94.05 509.52h0.8v0.8h-0.8zM95.15 507.88h0.8v0.8h-0.8zM90.71 505h0.8v0.8h-0.8zM88.65 505.76h0.8v0.8h-0.8zM89.02 505.1h0.8v0.8h-0.8zM90.35 512.68h0.8v0.8h-0.8zM86.63 508.48h0.8v0.8h-0.8zM91.38 505.75h0.8v0.8h-0.8zM88.27 506.18h0.8v0.8h-0.8zM90.76 505.95h0.8v0.8h-0.8zM93.14 511.8h0.8v0.8h-0.8zM93.93 507.05h0.8v0.8h-0.8zM90.5 507.36h0.8v0.8h-0.8zM90.17 509.31h0.8v0.8h-0.8zM82.53 503.77h0.8v0.8h-0.8zM88.16 508.22h0.8v0.8h-0.8zM87.59 506.87h0.8v0.8h-0.8zM93.01 508.69h0.8v0.8h-0.8zM88.88 506.57h0.8v0.8h-0.8zM84.24 508.28h0.8v0.8h-0.8zM89.6 505.24h0.8v0.8h-0.8zM90.87 506.47h0.8v0.8h-0.8zM88.04 503.78h0.8v0.8h-0.8zM92.2 505.62h0.8v0.8h-0.8zM90.17 507.69h0.8v0.8h-0.8zM87.24 507.07h0.8v0.8h-0.8zM88.32 506.66h0.8v0.8h-0.8zM89.75 505.84h0.8v0.8h-0.8zM91.41 507.41h0.8v0.8h-0.8zM85.11 508.02h0.8v0.8h-0.8zM87.7 508.14h0.8v0.8h-0.8zM81.13 507.87h0.8v0.8h-0.8zM81.4 506.2h0.8v0.8h-0.8zM92.57 505.61h0.8v0.8h-0.8zM85.13 506.92h0.8v0.8h-0.8zM90.36 506.88h0.8v0.8h-0.8zM86.65 505.25h0.8v0.8h-0.8zM87.6 510.51h0.8v0.8h-0.8zM89.01 506.34h0.8v0.8h-0.8zM88.13 505.11h0.8v0.8h-0.8zM84.47 507.48h0.8v0.8h-0.8zM93.67 508.23h0.8v0.8h-0.8zM84.42 510.39h0.8v0.8h-0.8zM90.05 511.18h0.8v0.8h-0.8zM88.69 504.38h0.8v0.8h-0.8zM89.95 506.9h0.8v0.8h-0.8zM85.46 505.64h0.8v0.8h-0.8zM87.78 505.37h0.8v0.8h-0.8zM91.3 507.87h0.8v0.8h-0.8zM87.63 506.47h0.8v0.8h-0.8zM92.22 508.08h0.8v0.8h-0.8zM85.16 507.78h0.8v0.8h-0.8zM95.1 507.89h0.8v0.8h-0.8zM86.31 510.47h0.8v0.8h-0.8zM81.45 504.21h0.8v0.8h-0.8zM95.71 506.96h0.8v0.8h-0.8zM91.77 508.5h0.8v0.8h-0.8zM89.99 510.93h0.8v0.8h-0.8zM90.15 508.69h0.8v0.8h-0.8zM90.62 507.98h0.8v0.8h-0.8zM85.41 509.78h0.8v0.8h-0.8zM85.25 507.82h0.8v0.8h-0.8zM86.01 509.48h0.8v0.8h-0.8zM89.53 508.91h0.8v0.8h-0.8zM87.06 507.14h0.8v0.8h-0.8zM81.73 509.18h0.8v0.8h-0.8zM90.87 507.44h0.8v0.8h-0.8zM89.66 506.61h0.8v0.8h-0.8zM89.25 511.4h0.8v0.8h-0.8zM87.41 506.39h0.8v0.8h-0.8zM91.84 507.91h0.8v0.8h-0.8zM87.41 510.88h0.8v0.8h-0.8zM95.2 506.74h0.8v0.8h-0.8zM95.71 504.49h0.8v0.8h-0.8zM94.76 504h0.8v0.8h-0.8zM90.78 507.11h0.8v0.8h-0.8zM88.24 508.74h0.8v0.8h-0.8zM86.16 505.81h0.8v0.8h-0.8zM85.59 510.58h0.8v0.8h-0.8zM87.42 508.15h0.8v0.8h-0.8zM88.68 509.61h0.8v0.8h-0.8zM85.91 505.56h0.8v0.8h-0.8zM87.27 507.8h0.8v0.8h-0.8zM86.84 508.37h0.8v0.8h-0.8zM91.34 509.61h0.8v0.8h-0.8zM91.32 510.37h0.8v0.8h-0.8zM88.3 506.34h0.8v0.8h-0.8zM87.12 505.95h0.8v0.8h-0.8zM84.91 508.24h0.8v0.8h-0.8zM89.81 502.96h0.8v0.8h-0.8zM89.06 505.86h0.8v0.8h-0.8zM86.33 506.81h0.8v0.8h-0.8zM93.58 507.62h0.8v0.8h-0.8zM82.59 508.07h0.8v0.8h-0.8zM86.42 510.86h0.8v0.8h-0.8zM87.75 507.21h0.8v0.8h-0.8zM88.73 505.62h0.8v0.8h-0.8zM88.02 507.13h0.8v0.8h-0.8zM91.17 507.61h0.8v0.8h-0.8zM90.09 508.11h0.8v0.8h-0.8zM87.28 505.6h0.8v0.8h-0.8zM92.39 505.69h0.8v0.8h-0.8zM92.75 509.71h0.8v0.8h-0.8zM87.59 508.59h0.8v0.8h-0.8zM87.86 509.17h0.8v0.8h-0.8zM91.23 509.93h0.8v0.8h-0.8zM92.29 505.29h0.8v0.8h-0.8zM94.45 507.49h0.8v0.8h-0.8zM93.15 507.6h0.8v0.8h-0.8zM92.7 504.94h0.8v0.8h-0.8zM94.08 505.38h0.8v0.8h-0.8zM89.03 508.46h0.8v0.8h-0.8zM84.41 508.25h0.8v0.8h-0.8zM89.64 509.17h0.8v0.8h-0.8zM89.26 505.36h0.8v0.8h-0.8zM85.86 505.74h0.8v0.8h-0.8zM90.01 507.09h0.8v0.8h-0.8zM91.6 510.66h0.8v0.8h-0.8zM88.55 506.47h0.8v0.8h-0.8zM90.85 508.38h0.8v0.8h-0.8zM82.23 506.09h0.8v0.8h-0.8zM89.78 508.68h0.8v0.8h-0.8zM87.9 505.27h0.8v0.8h-0.8zM94.26 506h0.8v0.8h-0.8zM88.1 507.32h0.8v0.8h-0.8zM90.52 505.32h0.8v0.8h-0.8zM84.62 507.97h0.8v0.8h-0.8zM93.52 506.7h0.8v0.8h-0.8zM92.04 508.3h0.8v0.8h-0.8zM93.74 504.99h0.8v0.8h-0.8zM91.44 507.04h0.8v0.8h-0.8zM81.55 506.35h0.8v0.8h-0.8zM84.39 506.53h0.8v0.8h-0.8zM91.37 507.1h0.8v0.8h-0.8zM95.55 508.73h0.8v0.8h-0.8zM87.31 506.62h0.8v0.8h-0.8zM90.67 505.81h0.8v0.8h-0.8zM91.26 508.59h0.8v0.8h-0.8zM92.68 507.78h0.8v0.8h-0.8zM89.99 505.03h0.8v0.8h-0.8zM90.27 507.16h0.8v0.8h-0.8zM90.18 508.34h0.8v0.8h-0.8zM87.27 506.67h0.8v0.8h-0.8zM87.24 505.08h0.8v0.8h-0.8zM83.56 505.33h0.8v0.8h-0.8zM91.2 502.7h0.8v0.8h-0.8zM91.22 508.97h0.8v0.8h-0.8zM92.61 506.78h0.8v0.8h-0.8zM88.44 509.65h0.8v0.8h-0.8zM92.08 511h0.8v0.8h-0.8zM88.31 506.59h0.8v0.8h-0.8zM93.32 506.73h0.8v0.8h-0.8zM89.19 510.19h0.8v0.8h-0.8zM92.28 506.7h0.8v0.8h-0.8zM91.55 507.42h0.8v0.8h-0.8zM93.19 508.23h0.8v0.8h-0.8zM86.8 511.1h0.8v0.8h-0.8zM89.46 507.65h0.8v0.8h-0.8zM87.6 507.54h0.8v0.8h-0.8zM88.4 508.69h0.8v0.8h-0.8zM91.41 509.99h0.8v0.8h-0.8zM92.31 506.51h0.8v0.8h-0.8zM87.36 505.88h0.8v0.8h-0.8zM93.01 505.94h0.8v0.8h-0.8zM94.8 507.93h0.8v0.8h-0.8zM89.56 507.93h0.8v0.8h-0.8zM95.76 507.79h0.8v0.8h-0.8zM88.5 505.39h0.8v0.8h-0.8zM84.33 506.14h0.8v0.8h-0.8zM94.03 508.8h0.8v0.8h-0.8zM87.22 502.45h0.8v0.8h-0.8zM93.43 508.29h0.8v0.8h-0.8zM82.73 507.09h0.8v0.8h-0.8zM86.01 509.63h0.8v0.8h-0.8zM91.81 506.13h0.8v0.8h-0.8zM82.14 506.87h0.8v0.8h-0.8zM87.85 509.44h0.8v0.8h-0.8zM87.88 510.95h0.8v0.8h-0.8zM83.78 506.59h0.8v0.8h-0.8zM94.87 509.93h0.8v0.8h-0.8zM91.51 504.44h0.8v0.8h-0.8zM89.75 508.9h0.8v0.8h-0.8zM88.11 507.53h0.8v0.8h-0.8zM92.63 506.68h0.8v0.8h-0.8zM91.37 506.91h0.8v0.8h-0.8zM85.66 504.28h0.8v0.8h-0.8zM87.11 505.56h0.8v0.8h-0.8zM92.91 507.57h0.8v0.8h-0.8zM82.99 510.52h0.8v0.8h-0.8zM91.35 507.14h0.8v0.8h-0.8zM92.08 507.62h0.8v0.8h-0.8zM91.01 507.35h0.8v0.8h-0.8zM87.29 506.64h0.8v0.8h-0.8zM86.75 505.98h0.8v0.8h-0.8zM87.95 512.78h0.8v0.8h-0.8zM92.04 511.3h0.8v0.8h-0.8zM84.36 506.78h0.8v0.8h-0.8zM92.77 510.03h0.8v0.8h-0.8zM91.04 506.41h0.8v0.8h-0.8zM84.42 507.82h0.8v0.8h-0.8zM83.69 507.86h0.8v0.8h-0.8zM87.48 505.86h0.8v0.8h-0.8zM86.84 504.02h0.8v0.8h-0.8zM84.88 507.94h0.8v0.8h-0.8zM86.73 505.51h0.8v0.8h-0.8zM92.25 508.44h0.8v0.8h-0.8zM90.25 503.98h0.8v0.8h-0.8zM92.76 508.38h0.8v0.8h-0.8zM85.73 505.94h0.8v0.8h-0.8zM92.19 509.75h0.8v0.8h-0.8zM87.93 504.84h0.8v0.8h-0.8zM93.45 506.28h0.8v0.8h-0.8zM92.08 507.43h0.8v0.8h-0.8zM88.89 506.48h0.8v0.8h-0.8zM94.44 506.59h0.8v0.8h-0.8zM89.5 506.02h0.8v0.8h-0.8zM96.2 507.48h0.8v0.8h-0.8zM85.64 507.14h0.8v0.8h-0.8zM83.52 506.89h0.8v0.8h-0.8zM85.23 509.9h0.8v0.8h-0.8zM94.31 512.31h0.8v0.8h-0.8zM88.31 505.57h0.8v0.8h-0.8zM82.35 507.92h0.8v0.8h-0.8zM86.89 510.19h0.8v0.8h-0.8zM89.08 511.03h0.8v0.8h-0.8zM84.5 504.89h0.8v0.8h-0.8zM92.48 508.22h0.8v0.8h-0.8zM83.35 508.46h0.8v0.8h-0.8zM88.35 507.48h0.8v0.8h-0.8zM90.93 511.13h0.8v0.8h-0.8zM92.59 505.46h0.8v0.8h-0.8zM94.44 509.04h0.8v0.8h-0.8zM91.17 506.01h0.8v0.8h-0.8zM86.5 507.5h0.8v0.8h-0.8zM94.52 508.43h0.8v0.8h-0.8zM90.09 508.05h0.8v0.8h-0.8zM90.59 506.79h0.8v0.8h-0.8zM89.68 503.45h0.8v0.8h-0.8zM89.28 509.33h0.8v0.8h-0.8zM90.2 510.55h0.8v0.8h-0.8zM94.84 506.73h0.8v0.8h-0.8zM85.08 507.41h0.8v0.8h-0.8zM84.79 509.12h0.8v0.8h-0.8zM88.99 508.86h0.8v0.8h-0.8zM88.44 505.78h0.8v0.8h-0.8zM94.77 507.05h0.8v0.8h-0.8zM89.58 507.7h0.8v0.8h-0.8zM87.81 506.65h0.8v0.8h-0.8zM84.7 507.3h0.8v0.8h-0.8zM90.51 505.36h0.8v0.8h-0.8zM83.32 506.2h0.8v0.8h-0.8zM91.34 508.72h0.8v0.8h-0.8zM90.45 505.46h0.8v0.8h-0.8zM90.59 506.93h0.8v0.8h-0.8zM92.08 508.32h0.8v0.8h-0.8zM86.13 507.75h0.8v0.8h-0.8zM89.98 509.55h0.8v0.8h-0.8zM95.6 504.25h0.8v0.8h-0.8zM87.46 506.15h0.8v0.8h-0.8zM87.57 506.69h0.8v0.8h-0.8zM94.89 508.74h0.8v0.8h-0.8zM89.09 508.54h0.8v0.8h-0.8zM90.04 506.33h0.8v0.8h-0.8zM89.47 508.5h0.8v0.8h-0.8zM93.31 505.31h0.8v0.8h-0.8zM89.85 508.04h0.8v0.8h-0.8zM90.79 506.69h0.8v0.8h-0.8zM88.15 504.16h0.8v0.8h-0.8zM86 506.04h0.8v0.8h-0.8zM86.92 508.16h0.8v0.8h-0.8zM88.12 506.34h0.8v0.8h-0.8zM86.69 507.54h0.8v0.8h-0.8zM84.48 510.56h0.8v0.8h-0.8zM84.84 506.06h0.8v0.8h-0.8zM89.19 507.21h0.8v0.8h-0.8zM90.73 503.11h0.8v0.8h-0.8zM89.2 504.75h0.8v0.8h-0.8zM93.92 503.14h0.8v0.8h-0.8zM88.96 508.54h0.8v0.8h-0.8zM88.96 507.64h0.8v0.8h-0.8zM89.43 508.17h0.8v0.8h-0.8zM92.73 507.42h0.8v0.8h-0.8zM93.19 507.39h0.8v0.8h-0.8zM92.47 504.62h0.8v0.8h-0.8zM94.49 508.39h0.8v0.8h-0.8zM91.56 510.84h0.8v0.8h-0.8zM86.66 505.23h0.8v0.8h-0.8zM80.52 509.61h0.8v0.8h-0.8zM91.11 511.65h0.8v0.8h-0.8zM89.72 508.2h0.8v0.8h-0.8zM89.5 507.87h0.8v0.8h-0.8zM90.36 506.13h0.8v0.8h-0.8zM86.86 506.55h0.8v0.8h-0.8zM85.54 510.16h0.8v0.8h-0.8zM86.75 506.79h0.8v0.8h-0.8zM89.24 506.13h0.8v0.8h-0.8zM94.37 508.12h0.8v0.8h-0.8zM92.77 504.44h0.8v0.8h-0.8zM86.74 502.71h0.8v0.8h-0.8zM93.24 506.08h0.8v0.8h-0.8zM91.27 509.78h0.8v0.8h-0.8zM84.51 508.76h0.8v0.8h-0.8zM88.53 507.96h0.8v0.8h-0.8zM89.96 508.39h0.8v0.8h-0.8zM88.74 504.11h0.8v0.8h-0.8zM86.39 506.92h0.8v0.8h-0.8zM88.81 505.03h0.8v0.8h-0.8zM87.05 507.35h0.8v0.8h-0.8zM92.98 507.26h0.8v0.8h-0.8zM87.02 507.56h0.8v0.8h-0.8zM85.67 508.06h0.8v0.8h-0.8zM84.3 508.87h0.8v0.8h-0.8zM86.88 509.82h0.8v0.8h-0.8zM88.42 506.31h0.8v0.8h-0.8zM89.87 506.58h0.8v0.8h-0.8zM88.99 511.26h0.8v0.8h-0.8zM91.3 508.45h0.8v0.8h-0.8zM82.29 509.94h0.8v0.8h-0.8zM91.64 507.01h0.8v0.8h-0.8zM85.25 504.24h0.8v0.8h-0.8zM86.36 507.14h0.8v0.8h-0.8zM90.04 507.95h0.8v0.8h-0.8zM90.32 507.48h0.8v0.8h-0.8zM88.56 504.53h0.8v0.8h-0.8zM92.8 507.11h0.8v0.8h-0.8zM84.8 510.56h0.8v0.8h-0.8zM86.45 504.31h0.8v0.8h-0.8zM91.56 510.39h0.8v0.8h-0.8zM88.23 507.55h0.8v0.8h-0.8zM91.84 507.79h0.8v0.8h-0.8zM89.56 508.95h0.8v0.8h-0.8zM92.21 506.19h0.8v0.8h-0.8zM91.07 507.64h0.8v0.8h-0.8zM92.91 507.49h0.8v0.8h-0.8zM90.02 507.27h0.8v0.8h-0.8zM88.79 506.87h0.8v0.8h-0.8zM93.28 507.19h0.8v0.8h-0.8zM91.56 507.74h0.8v0.8h-0.8zM90.83 505.52h0.8v0.8h-0.8zM89.06 508.39h0.8v0.8h-0.8zM90.49 505.04h0.8v0.8h-0.8zM94.11 506.31h0.8v0.8h-0.8zM87.85 509.91h0.8v0.8h-0.8zM92.21 507.09h0.8v0.8h-0.8zM92.36 507.95h0.8v0.8h-0.8zM89.48 508.11h0.8v0.8h-0.8zM89.43 506.04h0.8v0.8h-0.8zM87.51 507.23h0.8v0.8h-0.8zM95.74 505.43h0.8v0.8h-0.8zM89.33 508.02h0.8v0.8h-0.8zM95 506.85h0.8v0.8h-0.8zM91.58 506.52h0.8v0.8h-0.8zM90.23 508.43h0.8v0.8h-0.8zM89.91 508.46h0.8v0.8h-0.8zM92.85 506.52h0.8v0.8h-0.8zM88.86 506.95h0.8v0.8h-0.8zM88.46 506.07h0.8v0.8h-0.8zM91.12 507.45h0.8v0.8h-0.8zM90.86 504.36h0.8v0.8h-0.8zM90.03 507.79h0.8v0.8h-0.8zM93.27 508.16h0.8v0.8h-0.8zM86.27 505.45h0.8v0.8h-0.8zM89.54 505.36h0.8v0.8h-0.8zM86.8 505.29h0.8v0.8h-0.8zM91.97 506.59h0.8v0.8h-0.8zM91.63 507.51h0.8v0.8h-0.8zM95.08 507.22h0.8v0.8h-0.8zM93.32 506.62h0.8v0.8h-0.8zM91.01 504.94h0.8v0.8h-0.8zM89.58 505.84h0.8v0.8h-0.8zM92.62 506.68h0.8v0.8h-0.8zM91.39 507.27h0.8v0.8h-0.8zM91.71 504.63h0.8v0.8h-0.8zM93.17 505h0.8v0.8h-0.8zM91.11 508.32h0.8v0.8h-0.8zM89.96 509.75h0.8v0.8h-0.8zM92.68 507.01h0.8v0.8h-0.8zM89.01 505.36h0.8v0.8h-0.8zM91.88 507.01h0.8v0.8h-0.8zM91.56 507.86h0.8v0.8h-0.8zM90.25 506.97h0.8v0.8h-0.8zM91.95 505.61h0.8v0.8h-0.8zM89.6 505.92h0.8v0.8h-0.8zM91.4 506.46h0.8v0.8h-0.8zM91.91 506.22h0.8v0.8h-0.8zM87.98 506.84h0.8v0.8h-0.8zM89.51 505.45h0.8v0.8h-0.8zM90.67 506.56h0.8v0.8h-0.8zM88.27 506.64h0.8v0.8h-0.8zM90.04 506.55h0.8v0.8h-0.8zM90.56 506.44h0.8v0.8h-0.8zM91.49 507.13h0.8v0.8h-0.8zM92.1 506.89h0.8v0.8h-0.8zM90.5 506.56h0.8v0.8h-0.8zM89.58 506.4h0.8v0.8h-0.8zM87.87 505.66h0.8v0.8h-0.8zM89.58 505.44h0.8v0.8h-0.8zM90.77 506.91h0.8v0.8h-0.8zM92.32 507.35h0.8v0.8h-0.8zM87.23 507.71h0.8v0.8h-0.8zM92.27 507.16h0.8v0.8h-0.8zM88.87 506.81h0.8v0.8h-0.8zM92.36 507.57h0.8v0.8h-0.8zM91.17 507.04h0.8v0.8h-0.8zM91.83 505.97h0.8v0.8h-0.8zM90.45 505.97h0.8v0.8h-0.8zM90.5 504.11h0.8v0.8h-0.8zM93.77 507.21h0.8v0.8h-0.8zM93.96 505.69h0.8v0.8h-0.8zM93.38 508.57h0.8v0.8h-0.8zM90.84 506.17h0.8v0.8h-0.8zM89.12 505.36h0.8v0.8h-0.8zM92.07 509.46h0.8v0.8h-0.8zM91.34 506.57h0.8v0.8h-0.8zM87.92 507.33h0.8v0.8h-0.8zM93.45 507.09h0.8v0.8h-0.8zM92.63 506.52h0.8v0.8h-0.8zM85.62 507.11h0.8v0.8h-0.8zM94.61 504.54h0.8v0.8h-0.8zM89.78 508.15h0.8v0.8h-0.8zM92.39 509.33h0.8v0.8h-0.8zM88.73 506.18h0.8v0.8h-0.8zM88.16 507.05h0.8v0.8h-0.8zM89.7 506.6h0.8v0.8h-0.8zM90.47 505.93h0.8v0.8h-0.8zM96.28 507.45h0.8v0.8h-0.8zM94.03 508.45h0.8v0.8h-0.8zM91.05 505.53h0.8v0.8h-0.8zM89.54 506.34h0.8v0.8h-0.8zM91.77 509.84h0.8v0.8h-0.8zM90.79 504.61h0.8v0.8h-0.8zM90.23 507.1h0.8v0.8h-0.8zM91.62 503.5h0.8v0.8h-0.8zM89.53 508.79h0.8v0.8h-0.8zM94.17 509.86h0.8v0.8h-0.8zM90.6 506.51h0.8v0.8h-0.8zM89.79 505h0.8v0.8h-0.8zM88.12 507.73h0.8v0.8h-0.8zM93.83 506.12h0.8v0.8h-0.8zM85.1 507.62h0.8v0.8h-0.8zM88.34 505.15h0.8v0.8h-0.8zM87.33 506.19h0.8v0.8h-0.8zM91.18 505.37h0.8v0.8h-0.8zM89.37 507.2h0.8v0.8h-0.8zM88.76 505.15h0.8v0.8h-0.8zM90.11 507.28h0.8v0.8h-0.8zM89.92 505.06h0.8v0.8h-0.8zM90.04 506.36h0.8v0.8h-0.8zM93.48 505.51h0.8v0.8h-0.8zM91.19 506.25h0.8v0.8h-0.8zM90.44 508.71h0.8v0.8h-0.8zM91.38 507.71h0.8v0.8h-0.8zM91.25 506.01h0.8v0.8h-0.8zM87.95 506.08h0.8v0.8h-0.8zM91 507.43h0.8v0.8h-0.8zM89.5 504.27h0.8v0.8h-0.8zM91.17 506.39h0.8v0.8h-0.8zM89.58 508.33h0.8v0.8h-0.8zM95.27 507.6h0.8v0.8h-0.8zM93.54 503.74h0.8v0.8h-0.8zM94.41 505.64h0.8v0.8h-0.8zM89.86 508.94h0.8v0.8h-0.8zM91 506.87h0.8v0.8h-0.8zM94.84 508.66h0.8v0.8h-0.8zM89.6 507.72h0.8v0.8h-0.8zM87.56 509.03h0.8v0.8h-0.8zM90.12 506.42h0.8v0.8h-0.8zM91.68 505.84h0.8v0.8h-0.8zM91.99 505.53h0.8v0.8h-0.8zM92.59 505.65h0.8v0.8h-0.8zM86.72 510.43h0.8v0.8h-0.8zM93.55 506.79h0.8v0.8h-0.8zM87.84 506.73h0.8v0.8h-0.8zM90.01 506.01h0.8v0.8h-0.8zM92.88 506.38h0.8v0.8h-0.8zM93.67 506.96h0.8v0.8h-0.8zM95.1 505.43h0.8v0.8h-0.8zM90.71 507.37h0.8v0.8h-0.8zM88.28 506.12h0.8v0.8h-0.8zM89.73 508.12h0.8v0.8h-0.8zM90.66 507.61h0.8v0.8h-0.8zM88.21 507.44h0.8v0.8h-0.8zM86.87 508.04h0.8v0.8h-0.8zM87.41 507.92h0.8v0.8h-0.8zM90.87 505.34h0.8v0.8h-0.8zM89.23 507.22h0.8v0.8h-0.8zM89.07 504.41h0.8v0.8h-0.8zM94.69 506.54h0.8v0.8h-0.8zM93.66 506.64h0.8v0.8h-0.8zM84.85 508.18h0.8v0.8h-0.8zM90.4 506.53h0.8v0.8h-0.8zM92.6 505.51h0.8v0.8h-0.8zM93.12 501.62h0.8v0.8h-0.8zM90.21 502.39h0.8v0.8h-0.8zM89.99 503.53h0.8v0.8h-0.8zM87.13 502.69h0.8v0.8h-0.8zM94.22 500.35h0.8v0.8h-0.8zM93.13 502.76h0.8v0.8h-0.8z" fill="#000" fill-opacity="0.9"/>
<line x1="115.1" y1="483.41" x2="116.4" y2="483.41" stroke="#333" stroke-width="0.8"/>
<line x1="115.1" y1="479.48" x2="116.4" y2="479.48" stroke="#333" stroke-width="0.8"/>
<line x1="115.1" y1="476.69" x2="116.4" y2="476.69" stroke="#333" stroke-width="0.8"/>
<line x1="115.1" y1="474.52" x2="116.4" y2="474.52" stroke="#333" stroke-width="0.8"/>
<line x1="115.1" y1="472.75" x2="116.4" y2="472.75" stroke="#333" stroke-width="0.8"/>
<line x1="115.1" y1="471.26" x2="116.4" y2="471.26" stroke="#333" stroke-width="0.8"/>
<line x1="115.1" y1="469.96" x2="116.4" y2="469.96" stroke="#333" stroke-width="0.8"/>
<line x1="115.1" y1="468.82" x2="116.4" y2="468.82" stroke="#333" stroke-width="0.8"/>
<line x1="115.1" y1="506.74" x2="116.4" y2="506.74" stroke="#333" stroke-width="0.8"/>
<line x1="115.1" y1="518.16" x2="116.4" y2="518.16" stroke="#333" stroke-width="0.8"/>
<line x1="115.1" y1="502.31" x2="116.4" y2="502.31" stroke="#333" stroke-width="0.8"/>
<line x1="115.1" y1="522.87" x2="116.4" y2="522.87" stroke="#333" stroke-width="0.8"/>
<line x1="115.1" y1="498.55" x2="116.4" y2="498.55" stroke="#333" stroke-width="0.8"/>
<line x1="115.1" y1="526.87" x2="116.4" y2="526.87" stroke="#333" stroke-width="0.8"/>
<line x1="115.1" y1="495.45" x2="116.4" y2="495.45" stroke="#333" stroke-width="0.8"/>
<line x1="115.1" y1="530.16" x2="116.4" y2="530.16" stroke="#333" stroke-width="0.8"/>
<line x1="115.1" y1="492.79" x2="116.4" y2="492.79" stroke="#333" stroke-width="0.8"/>
<line x1="115.1" y1="532.99" x2="116.4" y2="532.99" stroke="#333" stroke-width="0.8"/>
<line x1="114.2" y1="467.8" x2="116.4" y2="467.8" stroke="#333" stroke-width="0.9"/>
<line x1="114.2" y1="490.14" x2="116.4" y2="490.14" stroke="#333" stroke-width="0.9"/>
<line x1="114.2" y1="512.28" x2="116.4" y2="512.28" stroke="#333" stroke-width="0.9"/>
<line x1="114.2" y1="535.81" x2="116.4" y2="535.81" stroke="#333" stroke-width="0.9"/>
<line x1="164.03" y1="540.6" x2="164.03" y2="541.9" stroke="#333" stroke-width="0.8"/>
<line x1="182.87" y1="540.6" x2="182.87" y2="541.9" stroke="#333" stroke-width="0.8"/>
<line x1="167.34" y1="540.6" x2="167.34" y2="541.9" stroke="#333" stroke-width="0.8"/>
<line x1="186.19" y1="540.6" x2="186.19" y2="541.9" stroke="#333" stroke-width="0.8"/>
<line x1="169.7" y1="540.6" x2="169.7" y2="541.9" stroke="#333" stroke-width="0.8"/>
<line x1="188.54" y1="540.6" x2="188.54" y2="541.9" stroke="#333" stroke-width="0.8"/>
<line x1="171.52" y1="540.6" x2="171.52" y2="541.9" stroke="#333" stroke-width="0.8"/>
<line x1="173.02" y1="540.6" x2="173.02" y2="541.9" stroke="#333" stroke-width="0.8"/>
<line x1="174.28" y1="540.6" x2="174.28" y2="541.9" stroke="#333" stroke-width="0.8"/>
<line x1="175.37" y1="540.6" x2="175.37" y2="541.9" stroke="#333" stroke-width="0.8"/>
<line x1="176.34" y1="540.6" x2="176.34" y2="541.9" stroke="#333" stroke-width="0.8"/>
<line x1="144.07" y1="540.6" x2="144.07" y2="541.9" stroke="#333" stroke-width="0.8"/>
<line x1="134.55" y1="540.6" x2="134.55" y2="541.9" stroke="#333" stroke-width="0.8"/>
<line x1="147.88" y1="540.6" x2="147.88" y2="541.9" stroke="#333" stroke-width="0.8"/>
<line x1="130.74" y1="540.6" x2="130.74" y2="541.9" stroke="#333" stroke-width="0.8"/>
<line x1="151.12" y1="540.6" x2="151.12" y2="541.9" stroke="#333" stroke-width="0.8"/>
<line x1="127.5" y1="540.6" x2="127.5" y2="541.9" stroke="#333" stroke-width="0.8"/>
<line x1="153.78" y1="540.6" x2="153.78" y2="541.9" stroke="#333" stroke-width="0.8"/>
<line x1="124.84" y1="540.6" x2="124.84" y2="541.9" stroke="#333" stroke-width="0.8"/>
<line x1="156.07" y1="540.6" x2="156.07" y2="541.9" stroke="#333" stroke-width="0.8"/>
<line x1="122.55" y1="540.6" x2="122.55" y2="541.9" stroke="#333" stroke-width="0.8"/>
<line x1="120.27" y1="540.6" x2="120.27" y2="542.8" stroke="#333" stroke-width="0.9"/>
<line x1="139.31" y1="540.6" x2="139.31" y2="542.8" stroke="#333" stroke-width="0.9"/>
<line x1="158.35" y1="540.6" x2="158.35" y2="542.8" stroke="#333" stroke-width="0.9"/>
<line x1="177.2" y1="540.6" x2="177.2" y2="542.8" stroke="#333" stroke-width="0.9"/>
<rect x="114.4" y="510.08" width="2" height="3.5" fill="#111"/>
<rect x="136.31" y="540.6" width="5" height="1.8" fill="#111"/>
<rect x="116.4" y="466.6" width="72.6" height="74" fill="none" stroke="#222" stroke-width="1"/>
<text x="107.2" y="469.5" font-size="4.7" fill="#666" stroke="#666" stroke-width="0.1" textLength="4" lengthAdjust="spacingAndGlyphs">10</text>
<text x="111.3" y="467.6" font-size="2.91" fill="#666" stroke="#666" stroke-width="0.05" textLength="1.5" lengthAdjust="spacingAndGlyphs">5</text>
<text x="107.2" y="491.84" font-size="4.7" fill="#666" stroke="#666" stroke-width="0.1" textLength="4" lengthAdjust="spacingAndGlyphs">10</text>
<text x="111.3" y="489.94" font-size="2.91" fill="#666" stroke="#666" stroke-width="0.05" textLength="1.5" lengthAdjust="spacingAndGlyphs">4</text>
<text x="107.9" y="513.98" font-size="4.7" fill="#666" stroke="#666" stroke-width="0.1" textLength="2.6" lengthAdjust="spacingAndGlyphs">0</text>
<text x="104.8" y="537.51" font-size="4.7" fill="#666" stroke="#666" stroke-width="0.1" textLength="6.4" lengthAdjust="spacingAndGlyphs">–10</text>
<text x="111.3" y="535.61" font-size="2.91" fill="#666" stroke="#666" stroke-width="0.05" textLength="1.5" lengthAdjust="spacingAndGlyphs">4</text>
<text x="116.27" y="548.6" font-size="4.7" fill="#666" stroke="#666" stroke-width="0.1" textLength="6.4" lengthAdjust="spacingAndGlyphs">–10</text>
<text x="122.77" y="546.7" font-size="2.91" fill="#666" stroke="#666" stroke-width="0.05" textLength="1.5" lengthAdjust="spacingAndGlyphs">4</text>
<text x="138.01" y="548.6" font-size="4.7" fill="#666" stroke="#666" stroke-width="0.1" textLength="2.6" lengthAdjust="spacingAndGlyphs">0</text>
<text x="155.55" y="548.6" font-size="4.7" fill="#666" stroke="#666" stroke-width="0.1" textLength="4" lengthAdjust="spacingAndGlyphs">10</text>
<text x="159.65" y="546.7" font-size="2.91" fill="#666" stroke="#666" stroke-width="0.05" textLength="1.5" lengthAdjust="spacingAndGlyphs">4</text>
<text x="174.4" y="548.6" font-size="4.7" fill="#666" stroke="#666" stroke-width="0.1" textLength="4" lengthAdjust="spacingAndGlyphs">10</text>
<text x="178.5" y="546.7" font-size="2.91" fill="#666" stroke="#666" stroke-width="0.05" textLength="1.5" lengthAdjust="spacingAndGlyphs">5</text>
<rect x="162.5" y="492.4" width="23" height="12.8" fill="none" stroke="#999" stroke-width="1.15" rx="0.6"/>
<text x="152" y="502.2" font-size="6.2" fill="#333" stroke="#333" stroke-width="0.05" textLength="7.8" lengthAdjust="spacingAndGlyphs">9.1</text>
<text x="146.8" y="460.1" font-size="8.2" fill="#222" stroke="#222" stroke-width="0.15" textLength="13" lengthAdjust="spacingAndGlyphs">WT</text>
<path d="M175.43 507.72h0.8v0.8h-0.8zM175.56 506.05h0.8v0.8h-0.8zM180.27 510.68h0.8v0.8h-0.8zM177.07 505.7h0.8v0.8h-0.8zM174.41 506.96h0.8v0.8h-0.8zM169 511.65h0.8v0.8h-0.8zM183.93 504.83h0.8v0.8h-0.8zM181.2 509.02h0.8v0.8h-0.8zM171.63 506.63h0.8v0.8h-0.8zM177.5 507.93h0.8v0.8h-0.8zM177.72 509.46h0.8v0.8h-0.8zM166.66 510.26h0.8v0.8h-0.8zM183.65 511.77h0.8v0.8h-0.8zM176.27 504.83h0.8v0.8h-0.8zM164.08 505.5h0.8v0.8h-0.8zM182.82 506.77h0.8v0.8h-0.8zM171.32 511.24h0.8v0.8h-0.8zM170.29 508.62h0.8v0.8h-0.8zM172.72 504.99h0.8v0.8h-0.8zM175.69 510.83h0.8v0.8h-0.8zM167.13 506.18h0.8v0.8h-0.8zM172.26 504.78h0.8v0.8h-0.8zM173.93 510.63h0.8v0.8h-0.8zM177.16 508.5h0.8v0.8h-0.8zM181.1 505.62h0.8v0.8h-0.8zM175.34 507.31h0.8v0.8h-0.8zM166.5 502.5h0.8v0.8h-0.8zM179.5 502h0.8v0.8h-0.8z" fill="#000" fill-opacity="0.9"/>
<line x1="202.4" y1="483.41" x2="203.7" y2="483.41" stroke="#333" stroke-width="0.8"/>
<line x1="202.4" y1="479.48" x2="203.7" y2="479.48" stroke="#333" stroke-width="0.8"/>
<line x1="202.4" y1="476.69" x2="203.7" y2="476.69" stroke="#333" stroke-width="0.8"/>
<line x1="202.4" y1="474.52" x2="203.7" y2="474.52" stroke="#333" stroke-width="0.8"/>
<line x1="202.4" y1="472.75" x2="203.7" y2="472.75" stroke="#333" stroke-width="0.8"/>
<line x1="202.4" y1="471.26" x2="203.7" y2="471.26" stroke="#333" stroke-width="0.8"/>
<line x1="202.4" y1="469.96" x2="203.7" y2="469.96" stroke="#333" stroke-width="0.8"/>
<line x1="202.4" y1="468.82" x2="203.7" y2="468.82" stroke="#333" stroke-width="0.8"/>
<line x1="202.4" y1="506.74" x2="203.7" y2="506.74" stroke="#333" stroke-width="0.8"/>
<line x1="202.4" y1="518.16" x2="203.7" y2="518.16" stroke="#333" stroke-width="0.8"/>
<line x1="202.4" y1="502.31" x2="203.7" y2="502.31" stroke="#333" stroke-width="0.8"/>
<line x1="202.4" y1="522.87" x2="203.7" y2="522.87" stroke="#333" stroke-width="0.8"/>
<line x1="202.4" y1="498.55" x2="203.7" y2="498.55" stroke="#333" stroke-width="0.8"/>
<line x1="202.4" y1="526.87" x2="203.7" y2="526.87" stroke="#333" stroke-width="0.8"/>
<line x1="202.4" y1="495.45" x2="203.7" y2="495.45" stroke="#333" stroke-width="0.8"/>
<line x1="202.4" y1="530.16" x2="203.7" y2="530.16" stroke="#333" stroke-width="0.8"/>
<line x1="202.4" y1="492.79" x2="203.7" y2="492.79" stroke="#333" stroke-width="0.8"/>
<line x1="202.4" y1="532.99" x2="203.7" y2="532.99" stroke="#333" stroke-width="0.8"/>
<line x1="201.5" y1="467.8" x2="203.7" y2="467.8" stroke="#333" stroke-width="0.9"/>
<line x1="201.5" y1="490.14" x2="203.7" y2="490.14" stroke="#333" stroke-width="0.9"/>
<line x1="201.5" y1="512.28" x2="203.7" y2="512.28" stroke="#333" stroke-width="0.9"/>
<line x1="201.5" y1="535.81" x2="203.7" y2="535.81" stroke="#333" stroke-width="0.9"/>
<line x1="251.39" y1="540.6" x2="251.39" y2="541.9" stroke="#333" stroke-width="0.8"/>
<line x1="270.26" y1="540.6" x2="270.26" y2="541.9" stroke="#333" stroke-width="0.8"/>
<line x1="254.71" y1="540.6" x2="254.71" y2="541.9" stroke="#333" stroke-width="0.8"/>
<line x1="273.58" y1="540.6" x2="273.58" y2="541.9" stroke="#333" stroke-width="0.8"/>
<line x1="257.07" y1="540.6" x2="257.07" y2="541.9" stroke="#333" stroke-width="0.8"/>
<line x1="275.94" y1="540.6" x2="275.94" y2="541.9" stroke="#333" stroke-width="0.8"/>
<line x1="258.9" y1="540.6" x2="258.9" y2="541.9" stroke="#333" stroke-width="0.8"/>
<line x1="260.39" y1="540.6" x2="260.39" y2="541.9" stroke="#333" stroke-width="0.8"/>
<line x1="261.66" y1="540.6" x2="261.66" y2="541.9" stroke="#333" stroke-width="0.8"/>
<line x1="262.75" y1="540.6" x2="262.75" y2="541.9" stroke="#333" stroke-width="0.8"/>
<line x1="263.72" y1="540.6" x2="263.72" y2="541.9" stroke="#333" stroke-width="0.8"/>
<line x1="231.41" y1="540.6" x2="231.41" y2="541.9" stroke="#333" stroke-width="0.8"/>
<line x1="221.88" y1="540.6" x2="221.88" y2="541.9" stroke="#333" stroke-width="0.8"/>
<line x1="235.22" y1="540.6" x2="235.22" y2="541.9" stroke="#333" stroke-width="0.8"/>
<line x1="218.06" y1="540.6" x2="218.06" y2="541.9" stroke="#333" stroke-width="0.8"/>
<line x1="238.46" y1="540.6" x2="238.46" y2="541.9" stroke="#333" stroke-width="0.8"/>
<line x1="214.82" y1="540.6" x2="214.82" y2="541.9" stroke="#333" stroke-width="0.8"/>
<line x1="241.13" y1="540.6" x2="241.13" y2="541.9" stroke="#333" stroke-width="0.8"/>
<line x1="212.15" y1="540.6" x2="212.15" y2="541.9" stroke="#333" stroke-width="0.8"/>
<line x1="243.42" y1="540.6" x2="243.42" y2="541.9" stroke="#333" stroke-width="0.8"/>
<line x1="209.86" y1="540.6" x2="209.86" y2="541.9" stroke="#333" stroke-width="0.8"/>
<line x1="207.57" y1="540.6" x2="207.57" y2="542.8" stroke="#333" stroke-width="0.9"/>
<line x1="226.64" y1="540.6" x2="226.64" y2="542.8" stroke="#333" stroke-width="0.9"/>
<line x1="245.71" y1="540.6" x2="245.71" y2="542.8" stroke="#333" stroke-width="0.9"/>
<line x1="264.58" y1="540.6" x2="264.58" y2="542.8" stroke="#333" stroke-width="0.9"/>
<rect x="201.7" y="510.08" width="2" height="3.5" fill="#111"/>
<rect x="223.64" y="540.6" width="5" height="1.8" fill="#111"/>
<rect x="203.7" y="466.6" width="72.7" height="74" fill="none" stroke="#222" stroke-width="1"/>
<text x="194.5" y="469.5" font-size="4.7" fill="#666" stroke="#666" stroke-width="0.1" textLength="4" lengthAdjust="spacingAndGlyphs">10</text>
<text x="198.6" y="467.6" font-size="2.91" fill="#666" stroke="#666" stroke-width="0.05" textLength="1.5" lengthAdjust="spacingAndGlyphs">5</text>
<text x="194.5" y="491.84" font-size="4.7" fill="#666" stroke="#666" stroke-width="0.1" textLength="4" lengthAdjust="spacingAndGlyphs">10</text>
<text x="198.6" y="489.94" font-size="2.91" fill="#666" stroke="#666" stroke-width="0.05" textLength="1.5" lengthAdjust="spacingAndGlyphs">4</text>
<text x="195.2" y="513.98" font-size="4.7" fill="#666" stroke="#666" stroke-width="0.1" textLength="2.6" lengthAdjust="spacingAndGlyphs">0</text>
<text x="192.1" y="537.51" font-size="4.7" fill="#666" stroke="#666" stroke-width="0.1" textLength="6.4" lengthAdjust="spacingAndGlyphs">–10</text>
<text x="198.6" y="535.61" font-size="2.91" fill="#666" stroke="#666" stroke-width="0.05" textLength="1.5" lengthAdjust="spacingAndGlyphs">4</text>
<text x="203.57" y="548.6" font-size="4.7" fill="#666" stroke="#666" stroke-width="0.1" textLength="6.4" lengthAdjust="spacingAndGlyphs">–10</text>
<text x="210.07" y="546.7" font-size="2.91" fill="#666" stroke="#666" stroke-width="0.05" textLength="1.5" lengthAdjust="spacingAndGlyphs">4</text>
<text x="225.34" y="548.6" font-size="4.7" fill="#666" stroke="#666" stroke-width="0.1" textLength="2.6" lengthAdjust="spacingAndGlyphs">0</text>
<text x="242.91" y="548.6" font-size="4.7" fill="#666" stroke="#666" stroke-width="0.1" textLength="4" lengthAdjust="spacingAndGlyphs">10</text>
<text x="247.01" y="546.7" font-size="2.91" fill="#666" stroke="#666" stroke-width="0.05" textLength="1.5" lengthAdjust="spacingAndGlyphs">4</text>
<text x="261.78" y="548.6" font-size="4.7" fill="#666" stroke="#666" stroke-width="0.1" textLength="4" lengthAdjust="spacingAndGlyphs">10</text>
<text x="265.88" y="546.7" font-size="2.91" fill="#666" stroke="#666" stroke-width="0.05" textLength="1.5" lengthAdjust="spacingAndGlyphs">5</text>
<rect x="249.1" y="492.4" width="23.1" height="13" fill="none" stroke="#999" stroke-width="1.15" rx="0.6"/>
<text x="235.7" y="502.2" font-size="6.2" fill="#333" stroke="#333" stroke-width="0.05" textLength="10.3" lengthAdjust="spacingAndGlyphs">32.1</text>
<text x="226.5" y="460.1" font-size="8.2" fill="#222" stroke="#222" stroke-width="0.15" textLength="27.4" lengthAdjust="spacingAndGlyphs">VIP-KO</text>
<path d="M261.24 506.16h0.8v0.8h-0.8zM268.79 505.12h0.8v0.8h-0.8zM262.13 506.46h0.8v0.8h-0.8zM256.95 505.63h0.8v0.8h-0.8zM264.08 508.72h0.8v0.8h-0.8zM255.51 503.34h0.8v0.8h-0.8zM255.45 508.91h0.8v0.8h-0.8zM265.1 500.46h0.8v0.8h-0.8zM269.72 510.61h0.8v0.8h-0.8zM264.46 506.77h0.8v0.8h-0.8zM256.52 500.17h0.8v0.8h-0.8zM262.45 500.66h0.8v0.8h-0.8zM257.04 502.66h0.8v0.8h-0.8zM254.48 505.1h0.8v0.8h-0.8z" fill="#000" fill-opacity="0.9"/>
<line x1="289.2" y1="483.41" x2="290.5" y2="483.41" stroke="#333" stroke-width="0.8"/>
<line x1="289.2" y1="479.48" x2="290.5" y2="479.48" stroke="#333" stroke-width="0.8"/>
<line x1="289.2" y1="476.69" x2="290.5" y2="476.69" stroke="#333" stroke-width="0.8"/>
<line x1="289.2" y1="474.52" x2="290.5" y2="474.52" stroke="#333" stroke-width="0.8"/>
<line x1="289.2" y1="472.75" x2="290.5" y2="472.75" stroke="#333" stroke-width="0.8"/>
<line x1="289.2" y1="471.26" x2="290.5" y2="471.26" stroke="#333" stroke-width="0.8"/>
<line x1="289.2" y1="469.96" x2="290.5" y2="469.96" stroke="#333" stroke-width="0.8"/>
<line x1="289.2" y1="468.82" x2="290.5" y2="468.82" stroke="#333" stroke-width="0.8"/>
<line x1="289.2" y1="506.74" x2="290.5" y2="506.74" stroke="#333" stroke-width="0.8"/>
<line x1="289.2" y1="518.16" x2="290.5" y2="518.16" stroke="#333" stroke-width="0.8"/>
<line x1="289.2" y1="502.31" x2="290.5" y2="502.31" stroke="#333" stroke-width="0.8"/>
<line x1="289.2" y1="522.87" x2="290.5" y2="522.87" stroke="#333" stroke-width="0.8"/>
<line x1="289.2" y1="498.55" x2="290.5" y2="498.55" stroke="#333" stroke-width="0.8"/>
<line x1="289.2" y1="526.87" x2="290.5" y2="526.87" stroke="#333" stroke-width="0.8"/>
<line x1="289.2" y1="495.45" x2="290.5" y2="495.45" stroke="#333" stroke-width="0.8"/>
<line x1="289.2" y1="530.16" x2="290.5" y2="530.16" stroke="#333" stroke-width="0.8"/>
<line x1="289.2" y1="492.79" x2="290.5" y2="492.79" stroke="#333" stroke-width="0.8"/>
<line x1="289.2" y1="532.99" x2="290.5" y2="532.99" stroke="#333" stroke-width="0.8"/>
<line x1="288.3" y1="467.8" x2="290.5" y2="467.8" stroke="#333" stroke-width="0.9"/>
<line x1="288.3" y1="490.14" x2="290.5" y2="490.14" stroke="#333" stroke-width="0.9"/>
<line x1="288.3" y1="512.28" x2="290.5" y2="512.28" stroke="#333" stroke-width="0.9"/>
<line x1="288.3" y1="535.81" x2="290.5" y2="535.81" stroke="#333" stroke-width="0.9"/>
<line x1="338.45" y1="540.6" x2="338.45" y2="541.9" stroke="#333" stroke-width="0.8"/>
<line x1="357.43" y1="540.6" x2="357.43" y2="541.9" stroke="#333" stroke-width="0.8"/>
<line x1="341.8" y1="540.6" x2="341.8" y2="541.9" stroke="#333" stroke-width="0.8"/>
<line x1="360.77" y1="540.6" x2="360.77" y2="541.9" stroke="#333" stroke-width="0.8"/>
<line x1="344.17" y1="540.6" x2="344.17" y2="541.9" stroke="#333" stroke-width="0.8"/>
<line x1="363.14" y1="540.6" x2="363.14" y2="541.9" stroke="#333" stroke-width="0.8"/>
<line x1="346" y1="540.6" x2="346" y2="541.9" stroke="#333" stroke-width="0.8"/>
<line x1="347.51" y1="540.6" x2="347.51" y2="541.9" stroke="#333" stroke-width="0.8"/>
<line x1="348.78" y1="540.6" x2="348.78" y2="541.9" stroke="#333" stroke-width="0.8"/>
<line x1="349.88" y1="540.6" x2="349.88" y2="541.9" stroke="#333" stroke-width="0.8"/>
<line x1="350.85" y1="540.6" x2="350.85" y2="541.9" stroke="#333" stroke-width="0.8"/>
<line x1="318.36" y1="540.6" x2="318.36" y2="541.9" stroke="#333" stroke-width="0.8"/>
<line x1="308.78" y1="540.6" x2="308.78" y2="541.9" stroke="#333" stroke-width="0.8"/>
<line x1="322.2" y1="540.6" x2="322.2" y2="541.9" stroke="#333" stroke-width="0.8"/>
<line x1="304.94" y1="540.6" x2="304.94" y2="541.9" stroke="#333" stroke-width="0.8"/>
<line x1="325.46" y1="540.6" x2="325.46" y2="541.9" stroke="#333" stroke-width="0.8"/>
<line x1="301.68" y1="540.6" x2="301.68" y2="541.9" stroke="#333" stroke-width="0.8"/>
<line x1="328.14" y1="540.6" x2="328.14" y2="541.9" stroke="#333" stroke-width="0.8"/>
<line x1="299" y1="540.6" x2="299" y2="541.9" stroke="#333" stroke-width="0.8"/>
<line x1="330.44" y1="540.6" x2="330.44" y2="541.9" stroke="#333" stroke-width="0.8"/>
<line x1="296.7" y1="540.6" x2="296.7" y2="541.9" stroke="#333" stroke-width="0.8"/>
<line x1="294.39" y1="540.6" x2="294.39" y2="542.8" stroke="#333" stroke-width="0.9"/>
<line x1="313.57" y1="540.6" x2="313.57" y2="542.8" stroke="#333" stroke-width="0.9"/>
<line x1="332.74" y1="540.6" x2="332.74" y2="542.8" stroke="#333" stroke-width="0.9"/>
<line x1="351.72" y1="540.6" x2="351.72" y2="542.8" stroke="#333" stroke-width="0.9"/>
<rect x="288.5" y="510.08" width="2" height="3.5" fill="#111"/>
<rect x="310.57" y="540.6" width="5" height="1.8" fill="#111"/>
<rect x="290.5" y="466.6" width="73.1" height="74" fill="none" stroke="#222" stroke-width="1"/>
<text x="281.3" y="469.5" font-size="4.7" fill="#666" stroke="#666" stroke-width="0.1" textLength="4" lengthAdjust="spacingAndGlyphs">10</text>
<text x="285.4" y="467.6" font-size="2.91" fill="#666" stroke="#666" stroke-width="0.05" textLength="1.5" lengthAdjust="spacingAndGlyphs">5</text>
<text x="281.3" y="491.84" font-size="4.7" fill="#666" stroke="#666" stroke-width="0.1" textLength="4" lengthAdjust="spacingAndGlyphs">10</text>
<text x="285.4" y="489.94" font-size="2.91" fill="#666" stroke="#666" stroke-width="0.05" textLength="1.5" lengthAdjust="spacingAndGlyphs">4</text>
<text x="282" y="513.98" font-size="4.7" fill="#666" stroke="#666" stroke-width="0.1" textLength="2.6" lengthAdjust="spacingAndGlyphs">0</text>
<text x="278.9" y="537.51" font-size="4.7" fill="#666" stroke="#666" stroke-width="0.1" textLength="6.4" lengthAdjust="spacingAndGlyphs">–10</text>
<text x="285.4" y="535.61" font-size="2.91" fill="#666" stroke="#666" stroke-width="0.05" textLength="1.5" lengthAdjust="spacingAndGlyphs">4</text>
<text x="290.39" y="548.6" font-size="4.7" fill="#666" stroke="#666" stroke-width="0.1" textLength="6.4" lengthAdjust="spacingAndGlyphs">–10</text>
<text x="296.89" y="546.7" font-size="2.91" fill="#666" stroke="#666" stroke-width="0.05" textLength="1.5" lengthAdjust="spacingAndGlyphs">4</text>
<text x="312.27" y="548.6" font-size="4.7" fill="#666" stroke="#666" stroke-width="0.1" textLength="2.6" lengthAdjust="spacingAndGlyphs">0</text>
<text x="329.94" y="548.6" font-size="4.7" fill="#666" stroke="#666" stroke-width="0.1" textLength="4" lengthAdjust="spacingAndGlyphs">10</text>
<text x="334.04" y="546.7" font-size="2.91" fill="#666" stroke="#666" stroke-width="0.05" textLength="1.5" lengthAdjust="spacingAndGlyphs">4</text>
<text x="348.92" y="548.6" font-size="4.7" fill="#666" stroke="#666" stroke-width="0.1" textLength="4" lengthAdjust="spacingAndGlyphs">10</text>
<text x="353.02" y="546.7" font-size="2.91" fill="#666" stroke="#666" stroke-width="0.05" textLength="1.5" lengthAdjust="spacingAndGlyphs">5</text>
<rect x="336.3" y="492.4" width="22.5" height="12.7" fill="none" stroke="#999" stroke-width="1.15" rx="0.6"/>
<text x="321.8" y="502.2" font-size="6.2" fill="#333" stroke="#333" stroke-width="0.05" textLength="10.7" lengthAdjust="spacingAndGlyphs">38.1</text>
<text x="320.2" y="460.1" font-size="8.2" fill="#222" stroke="#222" stroke-width="0.15" textLength="13" lengthAdjust="spacingAndGlyphs">WT</text>
<path d="M342.85 503.89h0.8v0.8h-0.8zM344 497.71h0.8v0.8h-0.8zM340.07 500.5h0.8v0.8h-0.8zM341.64 505.72h0.8v0.8h-0.8zM344.14 503.22h0.8v0.8h-0.8zM343.35 503.94h0.8v0.8h-0.8zM340.87 501.28h0.8v0.8h-0.8zM340.97 506.87h0.8v0.8h-0.8zM351.35 509.83h0.8v0.8h-0.8zM351.45 508.24h0.8v0.8h-0.8zM353.02 504.86h0.8v0.8h-0.8zM356.05 500.22h0.8v0.8h-0.8zM351.36 510.98h0.8v0.8h-0.8zM354.05 501.09h0.8v0.8h-0.8zM356.92 511.36h0.8v0.8h-0.8zM351.68 505.08h0.8v0.8h-0.8z" fill="#000" fill-opacity="0.9"/>
<text x="393" y="202.3" font-size="8.7" fill="#222" stroke="#222" stroke-width="0.15" textLength="50.5" lengthAdjust="spacingAndGlyphs">Bone marrow</text>
<text x="478.9" y="202.3" font-size="8.9" fill="#222" stroke="#222" stroke-width="0.15" textLength="25.7" lengthAdjust="spacingAndGlyphs">Spleen</text>
<rect x="402" y="279.4" width="13" height="4" fill="#e08896" stroke="#d97388" stroke-width="0.8"/>
<rect x="423.5" y="265.6" width="12" height="17.8" fill="#88a8c2" stroke="#7898b8" stroke-width="0.8"/>
<line x1="408.5" y1="274.3" x2="408.5" y2="283.4" stroke="#2a2a2a" stroke-width="1.15"/>
<line x1="405.2" y1="274.3" x2="411.8" y2="274.3" stroke="#2a2a2a" stroke-width="1.2"/>
<line x1="429.5" y1="246" x2="429.5" y2="283.4" stroke="#2a2a2a" stroke-width="1.15"/>
<line x1="426.2" y1="246" x2="432.8" y2="246" stroke="#2a2a2a" stroke-width="1.2"/>
<line x1="398" y1="209.2" x2="398" y2="284" stroke="#1a1a1a" stroke-width="1.3"/>
<line x1="397.4" y1="283.4" x2="439.2" y2="283.4" stroke="#1a1a1a" stroke-width="1.3"/>
<line x1="394.7" y1="212.3" x2="398" y2="212.3" stroke="#1a1a1a" stroke-width="1.05"/>
<line x1="394.7" y1="230" x2="398" y2="230" stroke="#1a1a1a" stroke-width="1.05"/>
<line x1="394.7" y1="248" x2="398" y2="248" stroke="#1a1a1a" stroke-width="1.05"/>
<line x1="394.7" y1="265.8" x2="398" y2="265.8" stroke="#1a1a1a" stroke-width="1.05"/>
<line x1="394.7" y1="283.4" x2="398" y2="283.4" stroke="#1a1a1a" stroke-width="1.05"/>
<line x1="408.5" y1="283.4" x2="408.5" y2="286" stroke="#1a1a1a" stroke-width="1"/>
<line x1="429.5" y1="283.4" x2="429.5" y2="286" stroke="#1a1a1a" stroke-width="1"/>
<circle cx="408.5" cy="271.4" r="1.55" fill="#c8001e"/>
<circle cx="402.5" cy="275.4" r="1.55" fill="#c8001e"/>
<circle cx="406.5" cy="276.7" r="1.55" fill="#c8001e"/>
<circle cx="410.5" cy="275.8" r="1.55" fill="#c8001e"/>
<circle cx="402.5" cy="282.5" r="1.55" fill="#c8001e"/>
<circle cx="406.5" cy="280.9" r="1.55" fill="#c8001e"/>
<circle cx="410.5" cy="281.2" r="1.55" fill="#c8001e"/>
<circle cx="414.3" cy="281.2" r="1.55" fill="#c8001e"/>
<circle cx="429.5" cy="227.4" r="1.55" fill="#0a3f7f"/>
<circle cx="429.5" cy="247.5" r="1.55" fill="#0a3f7f"/>
<circle cx="427.3" cy="266.3" r="1.55" fill="#0a3f7f"/>
<circle cx="431.7" cy="265.2" r="1.55" fill="#0a3f7f"/>
<circle cx="429.5" cy="269" r="1.55" fill="#0a3f7f"/>
<circle cx="427.3" cy="278.2" r="1.55" fill="#0a3f7f"/>
<circle cx="431.7" cy="279.8" r="1.55" fill="#0a3f7f"/>
<circle cx="429.5" cy="283.2" r="1.55" fill="#0a3f7f"/>
<text x="391.8" y="214.6" font-size="7.6" fill="#222" stroke="#222" stroke-width="0.22" textLength="7.4" lengthAdjust="spacingAndGlyphs" text-anchor="end">40</text>
<text x="391.8" y="232.3" font-size="7.6" fill="#222" stroke="#222" stroke-width="0.22" textLength="7.4" lengthAdjust="spacingAndGlyphs" text-anchor="end">30</text>
<text x="391.8" y="250.3" font-size="7.6" fill="#222" stroke="#222" stroke-width="0.22" textLength="7.4" lengthAdjust="spacingAndGlyphs" text-anchor="end">20</text>
<text x="391.8" y="268.1" font-size="7.6" fill="#222" stroke="#222" stroke-width="0.22" textLength="7.4" lengthAdjust="spacingAndGlyphs" text-anchor="end">10</text>
<text x="391.8" y="285.7" font-size="7.6" fill="#222" stroke="#222" stroke-width="0.22" textLength="3.6" lengthAdjust="spacingAndGlyphs" text-anchor="end">0</text>
<text x="396.5" y="295" font-size="8.3" fill="#222" stroke="#222" stroke-width="0.15" textLength="23.8" lengthAdjust="spacingAndGlyphs">VIP-KO</text>
<text x="424.2" y="295" font-size="8.3" fill="#222" stroke="#222" stroke-width="0.15" textLength="10.8" lengthAdjust="spacingAndGlyphs">WT</text>
<text transform="translate(378.4 278.9) rotate(-90)" font-size="8.4" fill="#2a2a2a" stroke="#2a2a2a" stroke-width="0.16" textLength="60.8" lengthAdjust="spacingAndGlyphs">ICOSL+pDCs/pDCs%</text>
<rect x="475.95" y="257.4" width="12.3" height="26" fill="#e08896" stroke="#d97388" stroke-width="0.8"/>
<rect x="497.4" y="254.9" width="12" height="28.5" fill="#88a8c2" stroke="#7898b8" stroke-width="0.8"/>
<line x1="482.1" y1="235" x2="482.1" y2="277.6" stroke="#2a2a2a" stroke-width="1.15"/>
<line x1="478.8" y1="235" x2="485.4" y2="235" stroke="#2a2a2a" stroke-width="1.2"/>
<line x1="478.8" y1="277.6" x2="485.4" y2="277.6" stroke="#2a2a2a" stroke-width="1.2"/>
<line x1="503.4" y1="240.4" x2="503.4" y2="267.6" stroke="#2a2a2a" stroke-width="1.15"/>
<line x1="500.1" y1="240.4" x2="506.7" y2="240.4" stroke="#2a2a2a" stroke-width="1.2"/>
<line x1="500.1" y1="267.6" x2="506.7" y2="267.6" stroke="#2a2a2a" stroke-width="1.2"/>
<line x1="471.5" y1="213.8" x2="471.5" y2="284" stroke="#1a1a1a" stroke-width="1.3"/>
<line x1="470.9" y1="283.4" x2="512.3" y2="283.4" stroke="#1a1a1a" stroke-width="1.3"/>
<line x1="468.2" y1="216.9" x2="471.5" y2="216.9" stroke="#1a1a1a" stroke-width="1.05"/>
<line x1="468.2" y1="230.4" x2="471.5" y2="230.4" stroke="#1a1a1a" stroke-width="1.05"/>
<line x1="468.2" y1="243.8" x2="471.5" y2="243.8" stroke="#1a1a1a" stroke-width="1.05"/>
<line x1="468.2" y1="257" x2="471.5" y2="257" stroke="#1a1a1a" stroke-width="1.05"/>
<line x1="468.2" y1="270.3" x2="471.5" y2="270.3" stroke="#1a1a1a" stroke-width="1.05"/>
<line x1="468.2" y1="283.4" x2="471.5" y2="283.4" stroke="#1a1a1a" stroke-width="1.05"/>
<line x1="482.1" y1="283.4" x2="482.1" y2="286" stroke="#1a1a1a" stroke-width="1"/>
<line x1="503.4" y1="283.4" x2="503.4" y2="286" stroke="#1a1a1a" stroke-width="1"/>
<circle cx="482.1" cy="223.5" r="1.55" fill="#c8001e"/>
<circle cx="482.1" cy="228.2" r="1.55" fill="#c8001e"/>
<circle cx="479.7" cy="255.3" r="1.55" fill="#c8001e"/>
<circle cx="484.6" cy="255.3" r="1.55" fill="#c8001e"/>
<circle cx="482.1" cy="260" r="1.55" fill="#c8001e"/>
<circle cx="482.1" cy="266.5" r="1.55" fill="#c8001e"/>
<circle cx="482.1" cy="277.6" r="1.55" fill="#c8001e"/>
<circle cx="482.1" cy="283.4" r="1.55" fill="#c8001e"/>
<circle cx="503.4" cy="230.3" r="1.55" fill="#0a3f7f"/>
<circle cx="503.4" cy="243.8" r="1.55" fill="#0a3f7f"/>
<circle cx="503.4" cy="247.3" r="1.55" fill="#0a3f7f"/>
<circle cx="503.4" cy="251.9" r="1.55" fill="#0a3f7f"/>
<circle cx="503.4" cy="255.8" r="1.55" fill="#0a3f7f"/>
<circle cx="501.2" cy="265.8" r="1.55" fill="#0a3f7f"/>
<circle cx="505.8" cy="266.5" r="1.55" fill="#0a3f7f"/>
<circle cx="503.4" cy="270.8" r="1.55" fill="#0a3f7f"/>
<text x="465.4" y="219.2" font-size="7.6" fill="#222" stroke="#222" stroke-width="0.22" textLength="7.4" lengthAdjust="spacingAndGlyphs" text-anchor="end">50</text>
<text x="465.4" y="232.7" font-size="7.6" fill="#222" stroke="#222" stroke-width="0.22" textLength="7.4" lengthAdjust="spacingAndGlyphs" text-anchor="end">40</text>
<text x="465.4" y="246.1" font-size="7.6" fill="#222" stroke="#222" stroke-width="0.22" textLength="7.4" lengthAdjust="spacingAndGlyphs" text-anchor="end">30</text>
<text x="465.4" y="259.3" font-size="7.6" fill="#222" stroke="#222" stroke-width="0.22" textLength="7.4" lengthAdjust="spacingAndGlyphs" text-anchor="end">20</text>
<text x="465.4" y="272.6" font-size="7.6" fill="#222" stroke="#222" stroke-width="0.22" textLength="7.4" lengthAdjust="spacingAndGlyphs" text-anchor="end">10</text>
<text x="465.4" y="285.7" font-size="7.6" fill="#222" stroke="#222" stroke-width="0.22" textLength="3.6" lengthAdjust="spacingAndGlyphs" text-anchor="end">0</text>
<text x="470" y="295" font-size="8.3" fill="#222" stroke="#222" stroke-width="0.15" textLength="24.3" lengthAdjust="spacingAndGlyphs">VIP-KO</text>
<text x="497.7" y="295" font-size="8.3" fill="#222" stroke="#222" stroke-width="0.15" textLength="11.5" lengthAdjust="spacingAndGlyphs">WT</text>
<text transform="translate(451 280.9) rotate(-90)" font-size="8.4" fill="#2a2a2a" stroke="#2a2a2a" stroke-width="0.16" textLength="61" lengthAdjust="spacingAndGlyphs">ICOSL+pDCs/pDCs%</text>
<rect x="402" y="418" width="13.4" height="0.5" fill="#e08896" stroke="#d97388" stroke-width="0.8"/>
<rect x="423.1" y="407.6" width="13" height="10.9" fill="#88a8c2" stroke="#7898b8" stroke-width="0.8"/>
<line x1="408.7" y1="417.6" x2="408.7" y2="418.5" stroke="#2a2a2a" stroke-width="1.15"/>
<line x1="408.69" y1="417.6" x2="408.71" y2="417.6" stroke="#2a2a2a" stroke-width="1.2"/>
<line x1="429.6" y1="383.1" x2="429.6" y2="407.2" stroke="#2a2a2a" stroke-width="1.15"/>
<line x1="426.2" y1="383.1" x2="433" y2="383.1" stroke="#2a2a2a" stroke-width="1.2"/>
<line x1="397.4" y1="325.8" x2="397.4" y2="419.1" stroke="#1a1a1a" stroke-width="1.3"/>
<line x1="396.8" y1="418.5" x2="438.8" y2="418.5" stroke="#1a1a1a" stroke-width="1.3"/>
<line x1="394.1" y1="328.1" x2="397.4" y2="328.1" stroke="#1a1a1a" stroke-width="1.05"/>
<line x1="394.1" y1="358.4" x2="397.4" y2="358.4" stroke="#1a1a1a" stroke-width="1.05"/>
<line x1="394.1" y1="388.5" x2="397.4" y2="388.5" stroke="#1a1a1a" stroke-width="1.05"/>
<line x1="394.1" y1="418.5" x2="397.4" y2="418.5" stroke="#1a1a1a" stroke-width="1.05"/>
<line x1="408.7" y1="418.5" x2="408.7" y2="421.1" stroke="#1a1a1a" stroke-width="1"/>
<line x1="429.6" y1="418.5" x2="429.6" y2="421.1" stroke="#1a1a1a" stroke-width="1"/>
<circle cx="401.8" cy="418.3" r="1.55" fill="#c8001e"/>
<circle cx="403.8" cy="417.2" r="1.55" fill="#c8001e"/>
<circle cx="405.8" cy="418" r="1.55" fill="#c8001e"/>
<circle cx="407.8" cy="417" r="1.55" fill="#c8001e"/>
<circle cx="409.8" cy="418.3" r="1.55" fill="#c8001e"/>
<circle cx="411.8" cy="418.3" r="1.55" fill="#c8001e"/>
<circle cx="413.8" cy="418.3" r="1.55" fill="#c8001e"/>
<circle cx="415.6" cy="418.3" r="1.55" fill="#c8001e"/>
<circle cx="429.6" cy="353.9" r="1.55" fill="#0a3f7f"/>
<circle cx="429.6" cy="390.8" r="1.55" fill="#0a3f7f"/>
<circle cx="429.6" cy="414.6" r="1.55" fill="#0a3f7f"/>
<circle cx="423.2" cy="418.4" r="1.55" fill="#0a3f7f"/>
<circle cx="426.3" cy="418.4" r="1.55" fill="#0a3f7f"/>
<circle cx="429.4" cy="418.4" r="1.55" fill="#0a3f7f"/>
<circle cx="432.5" cy="418.4" r="1.55" fill="#0a3f7f"/>
<circle cx="435.7" cy="418.4" r="1.55" fill="#0a3f7f"/>
<text x="391.9" y="330.4" font-size="7.6" fill="#222" stroke="#222" stroke-width="0.22" textLength="7.4" lengthAdjust="spacingAndGlyphs" text-anchor="end">15</text>
<text x="391.9" y="360.7" font-size="7.6" fill="#222" stroke="#222" stroke-width="0.22" textLength="7.4" lengthAdjust="spacingAndGlyphs" text-anchor="end">10</text>
<text x="391.9" y="390.8" font-size="7.6" fill="#222" stroke="#222" stroke-width="0.22" textLength="3.6" lengthAdjust="spacingAndGlyphs" text-anchor="end">5</text>
<text x="391.9" y="420.8" font-size="7.6" fill="#222" stroke="#222" stroke-width="0.22" textLength="3.6" lengthAdjust="spacingAndGlyphs" text-anchor="end">0</text>
<text x="396.5" y="430.3" font-size="8.3" fill="#222" stroke="#222" stroke-width="0.15" textLength="23.5" lengthAdjust="spacingAndGlyphs">VIP-KO</text>
<text x="424.2" y="430.3" font-size="8.3" fill="#222" stroke="#222" stroke-width="0.15" textLength="10.8" lengthAdjust="spacingAndGlyphs">WT</text>
<text transform="translate(378.4 403.8) rotate(-90)" font-size="8.4" fill="#2a2a2a" stroke="#2a2a2a" stroke-width="0.16" textLength="60.2" lengthAdjust="spacingAndGlyphs">CD80+pDCs/pDCs%</text>
<rect x="475.25" y="405.6" width="13.7" height="12.9" fill="#e08896" stroke="#d97388" stroke-width="0.8"/>
<rect x="496.35" y="404.9" width="13.7" height="13.6" fill="#88a8c2" stroke="#7898b8" stroke-width="0.8"/>
<line x1="482.1" y1="378.2" x2="482.1" y2="405.2" stroke="#2a2a2a" stroke-width="1.15"/>
<line x1="478.3" y1="378.2" x2="485.9" y2="378.2" stroke="#2a2a2a" stroke-width="1.2"/>
<line x1="503.2" y1="375.3" x2="503.2" y2="404.5" stroke="#2a2a2a" stroke-width="1.15"/>
<line x1="499.4" y1="375.3" x2="507" y2="375.3" stroke="#2a2a2a" stroke-width="1.2"/>
<line x1="471.5" y1="325.3" x2="471.5" y2="419.1" stroke="#1a1a1a" stroke-width="1.3"/>
<line x1="470.9" y1="418.5" x2="512.6" y2="418.5" stroke="#1a1a1a" stroke-width="1.3"/>
<line x1="468.2" y1="328.1" x2="471.5" y2="328.1" stroke="#1a1a1a" stroke-width="1.05"/>
<line x1="468.2" y1="346.1" x2="471.5" y2="346.1" stroke="#1a1a1a" stroke-width="1.05"/>
<line x1="468.2" y1="364" x2="471.5" y2="364" stroke="#1a1a1a" stroke-width="1.05"/>
<line x1="468.2" y1="382.2" x2="471.5" y2="382.2" stroke="#1a1a1a" stroke-width="1.05"/>
<line x1="468.2" y1="400.3" x2="471.5" y2="400.3" stroke="#1a1a1a" stroke-width="1.05"/>
<line x1="468.2" y1="418.5" x2="471.5" y2="418.5" stroke="#1a1a1a" stroke-width="1.05"/>
<line x1="482.1" y1="418.5" x2="482.1" y2="421.1" stroke="#1a1a1a" stroke-width="1"/>
<line x1="503.2" y1="418.5" x2="503.2" y2="421.1" stroke="#1a1a1a" stroke-width="1"/>
<circle cx="482.1" cy="359.6" r="1.55" fill="#c8001e"/>
<circle cx="482.1" cy="363.5" r="1.55" fill="#c8001e"/>
<circle cx="475.5" cy="418.5" r="1.55" fill="#c8001e"/>
<circle cx="477.75" cy="418.5" r="1.55" fill="#c8001e"/>
<circle cx="480" cy="418.5" r="1.55" fill="#c8001e"/>
<circle cx="482.25" cy="418.5" r="1.55" fill="#c8001e"/>
<circle cx="484.5" cy="418.5" r="1.55" fill="#c8001e"/>
<circle cx="486.75" cy="418.5" r="1.55" fill="#c8001e"/>
<circle cx="489" cy="418.5" r="1.55" fill="#c8001e"/>
<circle cx="503.2" cy="346.1" r="1.55" fill="#0a3f7f"/>
<circle cx="503.2" cy="372.2" r="1.55" fill="#0a3f7f"/>
<circle cx="496.5" cy="418.5" r="1.55" fill="#0a3f7f"/>
<circle cx="498.8" cy="418.5" r="1.55" fill="#0a3f7f"/>
<circle cx="501.1" cy="418.5" r="1.55" fill="#0a3f7f"/>
<circle cx="503.4" cy="418.5" r="1.55" fill="#0a3f7f"/>
<circle cx="505.7" cy="418.5" r="1.55" fill="#0a3f7f"/>
<circle cx="508" cy="418.5" r="1.55" fill="#0a3f7f"/>
<circle cx="510.3" cy="418.5" r="1.55" fill="#0a3f7f"/>
<text x="465.4" y="330.4" font-size="7.6" fill="#222" stroke="#222" stroke-width="0.22" textLength="3.6" lengthAdjust="spacingAndGlyphs" text-anchor="end">5</text>
<text x="465.4" y="348.4" font-size="7.6" fill="#222" stroke="#222" stroke-width="0.22" textLength="3.6" lengthAdjust="spacingAndGlyphs" text-anchor="end">4</text>
<text x="465.4" y="366.3" font-size="7.6" fill="#222" stroke="#222" stroke-width="0.22" textLength="3.6" lengthAdjust="spacingAndGlyphs" text-anchor="end">3</text>
<text x="465.4" y="384.5" font-size="7.6" fill="#222" stroke="#222" stroke-width="0.22" textLength="3.6" lengthAdjust="spacingAndGlyphs" text-anchor="end">2</text>
<text x="465.4" y="402.6" font-size="7.6" fill="#222" stroke="#222" stroke-width="0.22" textLength="3.6" lengthAdjust="spacingAndGlyphs" text-anchor="end">1</text>
<text x="465.4" y="420.8" font-size="7.6" fill="#222" stroke="#222" stroke-width="0.22" textLength="3.6" lengthAdjust="spacingAndGlyphs" text-anchor="end">0</text>
<text x="469" y="430.3" font-size="8.3" fill="#222" stroke="#222" stroke-width="0.15" textLength="24" lengthAdjust="spacingAndGlyphs">VIP-KO</text>
<text x="497.7" y="430.3" font-size="8.3" fill="#222" stroke="#222" stroke-width="0.15" textLength="11.2" lengthAdjust="spacingAndGlyphs">WT</text>
<text transform="translate(455.8 403.8) rotate(-90)" font-size="8.4" fill="#2a2a2a" stroke="#2a2a2a" stroke-width="0.16" textLength="60.2" lengthAdjust="spacingAndGlyphs">CD80+pDCs/pDCs%</text>
<rect x="401.85" y="529.3" width="13.5" height="21.9" fill="#e08896" stroke="#d97388" stroke-width="0.8"/>
<rect x="423.35" y="517.3" width="12.7" height="33.9" fill="#88a8c2" stroke="#7898b8" stroke-width="0.8"/>
<line x1="408.6" y1="506.7" x2="408.6" y2="549.2" stroke="#2a2a2a" stroke-width="1.15"/>
<line x1="405.3" y1="506.7" x2="411.9" y2="506.7" stroke="#2a2a2a" stroke-width="1.2"/>
<line x1="405.3" y1="549.2" x2="411.9" y2="549.2" stroke="#2a2a2a" stroke-width="1.2"/>
<line x1="429.7" y1="498.7" x2="429.7" y2="533.5" stroke="#2a2a2a" stroke-width="1.15"/>
<line x1="426.4" y1="498.7" x2="433" y2="498.7" stroke="#2a2a2a" stroke-width="1.2"/>
<line x1="426.4" y1="533.5" x2="433" y2="533.5" stroke="#2a2a2a" stroke-width="1.2"/>
<line x1="397.9" y1="467.4" x2="397.9" y2="551.8" stroke="#1a1a1a" stroke-width="1.3"/>
<line x1="397.3" y1="551.2" x2="439.2" y2="551.2" stroke="#1a1a1a" stroke-width="1.3"/>
<line x1="394.6" y1="472.3" x2="397.9" y2="472.3" stroke="#1a1a1a" stroke-width="1.05"/>
<line x1="394.6" y1="488.1" x2="397.9" y2="488.1" stroke="#1a1a1a" stroke-width="1.05"/>
<line x1="394.6" y1="503.8" x2="397.9" y2="503.8" stroke="#1a1a1a" stroke-width="1.05"/>
<line x1="394.6" y1="519.6" x2="397.9" y2="519.6" stroke="#1a1a1a" stroke-width="1.05"/>
<line x1="394.6" y1="535.4" x2="397.9" y2="535.4" stroke="#1a1a1a" stroke-width="1.05"/>
<line x1="394.6" y1="551.2" x2="397.9" y2="551.2" stroke="#1a1a1a" stroke-width="1.05"/>
<line x1="408.6" y1="551.2" x2="408.6" y2="553.8" stroke="#1a1a1a" stroke-width="1"/>
<line x1="429.7" y1="551.2" x2="429.7" y2="553.8" stroke="#1a1a1a" stroke-width="1"/>
<circle cx="408.6" cy="489.5" r="1.55" fill="#c8001e"/>
<circle cx="408.6" cy="498.8" r="1.55" fill="#c8001e"/>
<circle cx="408.6" cy="532.3" r="1.55" fill="#c8001e"/>
<circle cx="403.5" cy="538.2" r="1.55" fill="#c8001e"/>
<circle cx="413.6" cy="539.5" r="1.55" fill="#c8001e"/>
<circle cx="403.5" cy="543.1" r="1.55" fill="#c8001e"/>
<circle cx="408.6" cy="542.3" r="1.55" fill="#c8001e"/>
<circle cx="413.6" cy="542.3" r="1.55" fill="#c8001e"/>
<circle cx="429.7" cy="483.4" r="1.55" fill="#0a3f7f"/>
<circle cx="429.7" cy="503.8" r="1.55" fill="#0a3f7f"/>
<circle cx="429.7" cy="510.3" r="1.55" fill="#0a3f7f"/>
<circle cx="429.7" cy="518" r="1.55" fill="#0a3f7f"/>
<circle cx="427" cy="521.1" r="1.55" fill="#0a3f7f"/>
<circle cx="432.3" cy="521.1" r="1.55" fill="#0a3f7f"/>
<circle cx="429.7" cy="532.6" r="1.55" fill="#0a3f7f"/>
<circle cx="429.7" cy="538.8" r="1.55" fill="#0a3f7f"/>
<text x="392.5" y="474.6" font-size="7.6" fill="#222" stroke="#222" stroke-width="0.22" textLength="7.4" lengthAdjust="spacingAndGlyphs" text-anchor="end">25</text>
<text x="392.5" y="490.4" font-size="7.6" fill="#222" stroke="#222" stroke-width="0.22" textLength="7.4" lengthAdjust="spacingAndGlyphs" text-anchor="end">20</text>
<text x="392.5" y="506.1" font-size="7.6" fill="#222" stroke="#222" stroke-width="0.22" textLength="7.4" lengthAdjust="spacingAndGlyphs" text-anchor="end">15</text>
<text x="392.5" y="521.9" font-size="7.6" fill="#222" stroke="#222" stroke-width="0.22" textLength="7.4" lengthAdjust="spacingAndGlyphs" text-anchor="end">10</text>
<text x="392.5" y="537.7" font-size="7.6" fill="#222" stroke="#222" stroke-width="0.22" textLength="3.6" lengthAdjust="spacingAndGlyphs" text-anchor="end">5</text>
<text x="392.5" y="553.5" font-size="7.6" fill="#222" stroke="#222" stroke-width="0.22" textLength="3.6" lengthAdjust="spacingAndGlyphs" text-anchor="end">0</text>
<text x="396.5" y="562.6" font-size="8.3" fill="#222" stroke="#222" stroke-width="0.15" textLength="23.4" lengthAdjust="spacingAndGlyphs">VIP-KO</text>
<text x="424.2" y="562.6" font-size="8.3" fill="#222" stroke="#222" stroke-width="0.15" textLength="10.8" lengthAdjust="spacingAndGlyphs">WT</text>
<text transform="translate(378.2 541.5) rotate(-90)" font-size="8.4" fill="#2a2a2a" stroke="#2a2a2a" stroke-width="0.16" textLength="60" lengthAdjust="spacingAndGlyphs">CD86+pDCs/pDCs%</text>
<rect x="475.85" y="514.2" width="12.7" height="37" fill="#e08896" stroke="#d97388" stroke-width="0.8"/>
<rect x="496.75" y="507.7" width="12.9" height="43.5" fill="#88a8c2" stroke="#7898b8" stroke-width="0.8"/>
<line x1="482.2" y1="493.4" x2="482.2" y2="532.3" stroke="#2a2a2a" stroke-width="1.15"/>
<line x1="478.6" y1="493.4" x2="485.8" y2="493.4" stroke="#2a2a2a" stroke-width="1.2"/>
<line x1="478.6" y1="532.3" x2="485.8" y2="532.3" stroke="#2a2a2a" stroke-width="1.2"/>
<line x1="503.2" y1="492.3" x2="503.2" y2="520.8" stroke="#2a2a2a" stroke-width="1.15"/>
<line x1="499.8" y1="492.3" x2="506.6" y2="492.3" stroke="#2a2a2a" stroke-width="1.2"/>
<line x1="499.8" y1="520.8" x2="506.6" y2="520.8" stroke="#2a2a2a" stroke-width="1.2"/>
<line x1="471.5" y1="469.7" x2="471.5" y2="551.8" stroke="#1a1a1a" stroke-width="1.3"/>
<line x1="470.9" y1="551.2" x2="512.6" y2="551.2" stroke="#1a1a1a" stroke-width="1.3"/>
<line x1="468.2" y1="472.3" x2="471.5" y2="472.3" stroke="#1a1a1a" stroke-width="1.05"/>
<line x1="468.2" y1="498.6" x2="471.5" y2="498.6" stroke="#1a1a1a" stroke-width="1.05"/>
<line x1="468.2" y1="524.9" x2="471.5" y2="524.9" stroke="#1a1a1a" stroke-width="1.05"/>
<line x1="468.2" y1="551.2" x2="471.5" y2="551.2" stroke="#1a1a1a" stroke-width="1.05"/>
<line x1="482.2" y1="551.2" x2="482.2" y2="553.8" stroke="#1a1a1a" stroke-width="1"/>
<line x1="503.2" y1="551.2" x2="503.2" y2="553.8" stroke="#1a1a1a" stroke-width="1"/>
<circle cx="482.2" cy="485.4" r="1.55" fill="#c8001e"/>
<circle cx="482.2" cy="491" r="1.55" fill="#c8001e"/>
<circle cx="482.2" cy="504.6" r="1.55" fill="#c8001e"/>
<circle cx="482.2" cy="509.2" r="1.55" fill="#c8001e"/>
<circle cx="482.2" cy="515.8" r="1.55" fill="#c8001e"/>
<circle cx="482.2" cy="520" r="1.55" fill="#c8001e"/>
<circle cx="482.2" cy="535.8" r="1.55" fill="#c8001e"/>
<circle cx="482.2" cy="541.8" r="1.55" fill="#c8001e"/>
<circle cx="503.2" cy="485.4" r="1.55" fill="#0a3f7f"/>
<circle cx="503.2" cy="492.3" r="1.55" fill="#0a3f7f"/>
<circle cx="503.2" cy="498.7" r="1.55" fill="#0a3f7f"/>
<circle cx="503.2" cy="501.3" r="1.55" fill="#0a3f7f"/>
<circle cx="501.2" cy="514.9" r="1.55" fill="#0a3f7f"/>
<circle cx="505.8" cy="514.5" r="1.55" fill="#0a3f7f"/>
<circle cx="503.2" cy="519.5" r="1.55" fill="#0a3f7f"/>
<circle cx="503.2" cy="525.1" r="1.55" fill="#0a3f7f"/>
<text x="465.4" y="474.6" font-size="7.6" fill="#222" stroke="#222" stroke-width="0.22" textLength="7.4" lengthAdjust="spacingAndGlyphs" text-anchor="end">60</text>
<text x="465.4" y="500.9" font-size="7.6" fill="#222" stroke="#222" stroke-width="0.22" textLength="7.4" lengthAdjust="spacingAndGlyphs" text-anchor="end">40</text>
<text x="465.4" y="527.2" font-size="7.6" fill="#222" stroke="#222" stroke-width="0.22" textLength="7.4" lengthAdjust="spacingAndGlyphs" text-anchor="end">20</text>
<text x="465.4" y="553.5" font-size="7.6" fill="#222" stroke="#222" stroke-width="0.22" textLength="3.6" lengthAdjust="spacingAndGlyphs" text-anchor="end">0</text>
<text x="470" y="562.6" font-size="8.3" fill="#222" stroke="#222" stroke-width="0.15" textLength="24.2" lengthAdjust="spacingAndGlyphs">VIP-KO</text>
<text x="497.7" y="562.6" font-size="8.3" fill="#222" stroke="#222" stroke-width="0.15" textLength="11.2" lengthAdjust="spacingAndGlyphs">WT</text>
<text transform="translate(451.6 541.5) rotate(-90)" font-size="8.4" fill="#2a2a2a" stroke="#2a2a2a" stroke-width="0.16" textLength="60" lengthAdjust="spacingAndGlyphs">CD86+pDCs/pDCs%</text>
<rect x="0.5" y="0.5" width="519" height="569" fill="none" stroke="#000" stroke-width="1.2"/>
</svg></body></html>
